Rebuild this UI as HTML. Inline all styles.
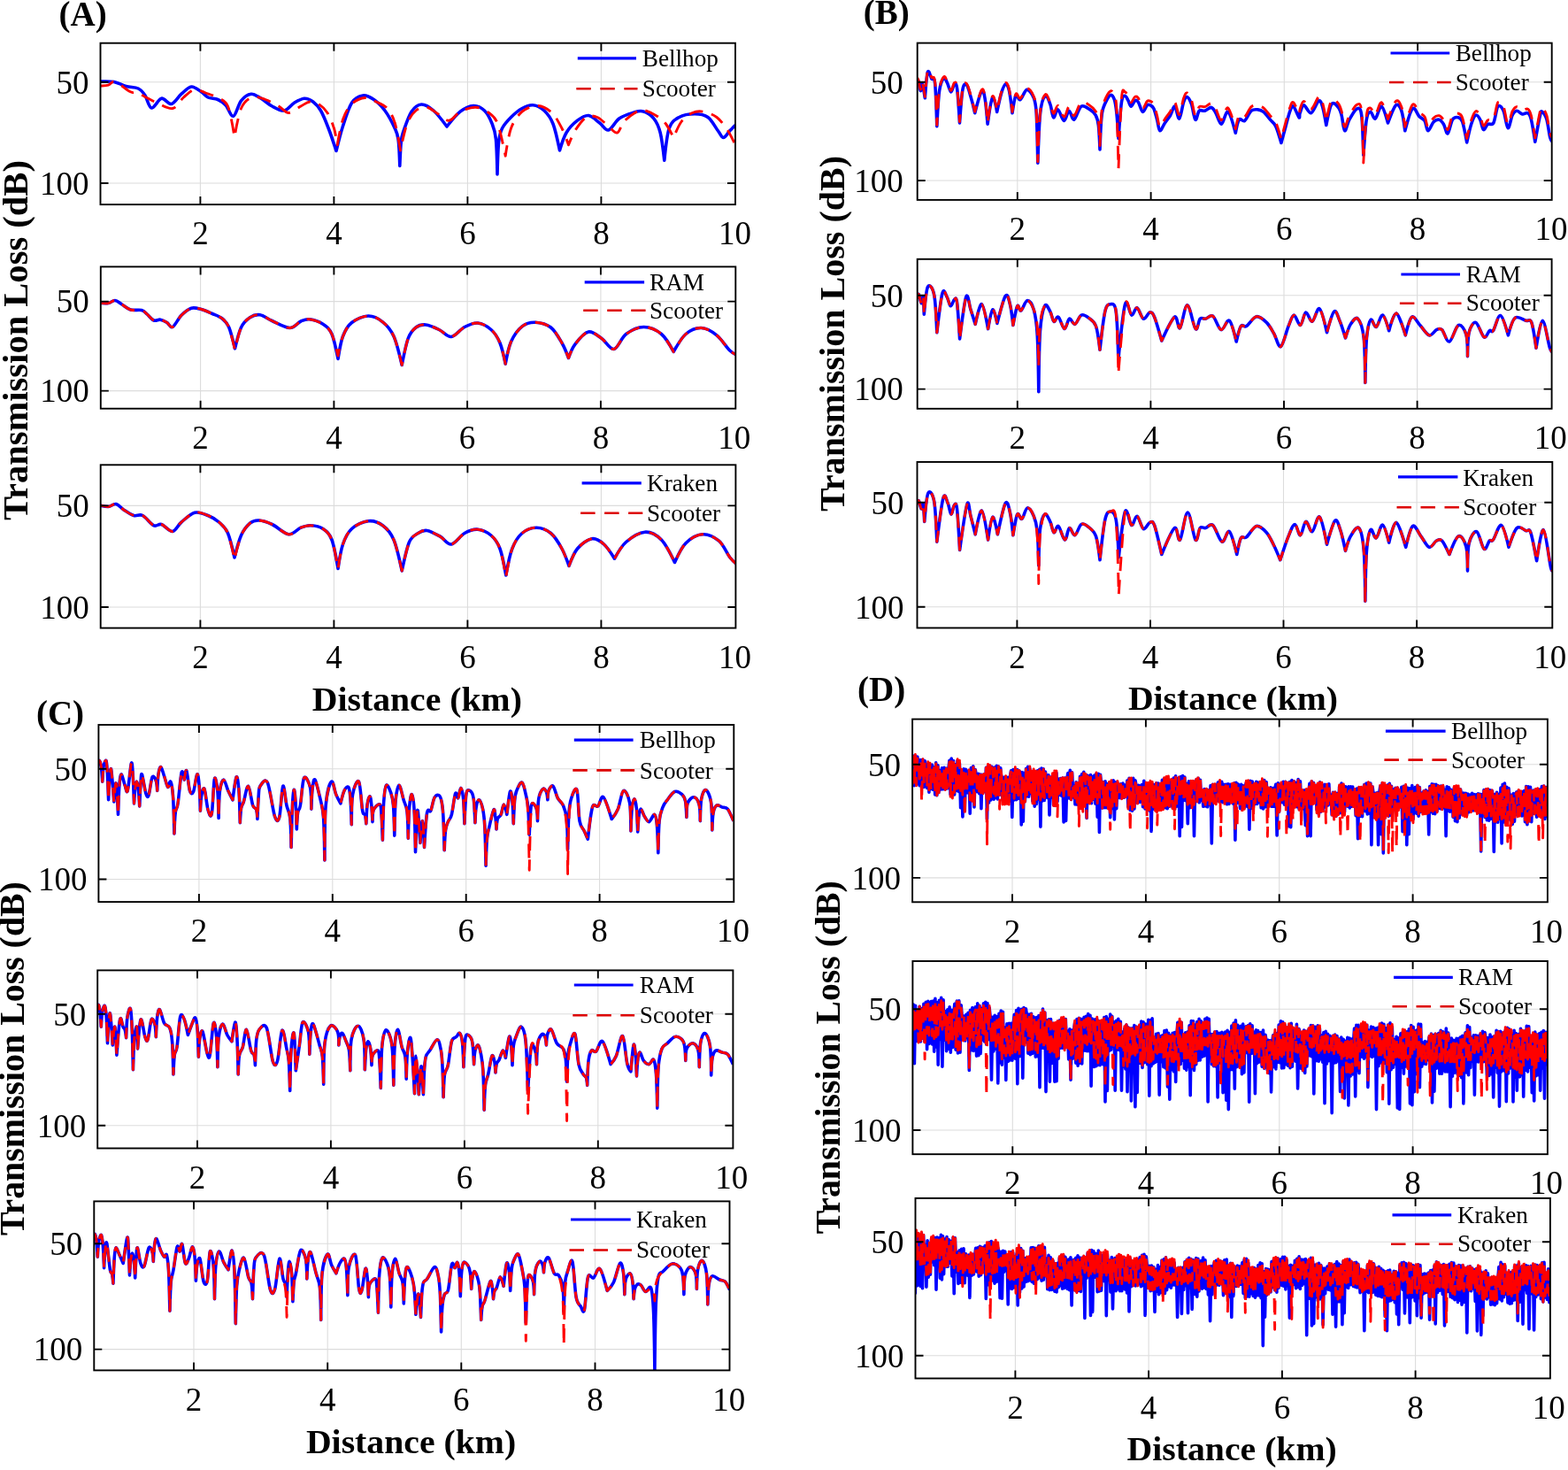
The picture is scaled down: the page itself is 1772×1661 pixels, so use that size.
<!DOCTYPE html>
<html><head><meta charset="utf-8"><style>html,body{margin:0;padding:0;background:#fff;overflow:hidden}svg{display:block}</style></head>
<body><svg width="1772" height="1661" viewBox="0 0 1772 1661" font-family="'Liberation Serif','Times New Roman',serif">
<rect width="1772" height="1661" fill="#fff"/>
<line x1="226.4" y1="48.7" x2="226.4" y2="231.1" stroke="#dcdcdc" stroke-width="1.1"/>
<line x1="377.4" y1="48.7" x2="377.4" y2="231.1" stroke="#dcdcdc" stroke-width="1.1"/>
<line x1="528.4" y1="48.7" x2="528.4" y2="231.1" stroke="#dcdcdc" stroke-width="1.1"/>
<line x1="679.4" y1="48.7" x2="679.4" y2="231.1" stroke="#dcdcdc" stroke-width="1.1"/>
<line x1="113.5" y1="92.7" x2="831.0" y2="92.7" stroke="#dcdcdc" stroke-width="1.1"/>
<line x1="113.5" y1="207.0" x2="831.0" y2="207.0" stroke="#dcdcdc" stroke-width="1.1"/>
<clipPath id="cA1"><rect x="113.5" y="48.7" width="717.5" height="182.4"/></clipPath>
<path clip-path="url(#cA1)" d="M113.8 92.0C116.2 92.1 124.0 91.6 128.8 92.5C133.5 93.4 137.9 96.2 142.5 97.5C147.1 98.8 152.7 98.3 156.2 100.0C159.8 101.7 161.2 103.8 163.8 107.5C166.2 111.2 168.1 121.4 171.2 122.0C174.4 122.6 178.8 112.0 182.5 111.2C186.2 110.5 190.0 118.3 193.8 117.5C197.5 116.7 201.2 109.5 205.0 106.2C208.8 103.0 212.5 98.4 216.2 98.0C220.0 97.6 224.4 101.8 227.5 103.8C230.6 105.8 231.9 108.5 235.0 110.0C238.1 111.5 242.9 111.0 246.2 112.5C249.6 114.0 252.1 115.6 255.0 118.8C257.9 121.9 260.8 132.1 263.8 131.2C266.7 130.4 269.2 117.9 272.5 113.8C275.8 109.6 280.0 106.7 283.8 106.2C287.5 105.8 291.0 109.0 295.0 111.2C299.0 113.5 303.1 117.7 307.5 120.0C311.9 122.3 317.1 125.6 321.2 125.0C325.4 124.4 328.8 118.5 332.5 116.2C336.2 114.0 340.2 111.5 343.8 111.2C347.3 111.0 350.6 112.7 353.8 115.0C356.9 117.3 359.6 120.0 362.5 125.0C365.4 130.0 368.3 137.4 371.2 145.0C374.2 152.6 380.0 170.5 380.0 170.5C380.0 170.5 384.6 151.5 387.5 142.5C390.4 133.5 393.8 122.0 397.5 116.2C401.2 110.5 405.8 108.6 410.0 108.0C414.2 107.4 418.3 109.7 422.5 112.5C426.7 115.3 431.0 119.6 435.0 125.0C439.0 130.4 443.7 139.5 446.2 145.0C448.8 150.5 449.2 150.7 450.1 157.8C451.1 164.8 451.8 187.5 451.8 187.5C451.8 187.5 452.6 166.2 453.4 159.5C454.1 152.8 454.3 153.0 456.2 147.5C458.2 142.0 461.7 131.2 465.0 126.2C468.3 121.3 472.1 118.2 476.2 118.0C480.4 117.8 485.2 120.8 490.0 125.0C494.8 129.2 505.0 143.0 505.0 143.0C505.0 143.0 515.0 130.2 520.0 126.2C525.0 122.3 530.4 119.7 535.0 119.5C539.6 119.3 544.0 121.6 547.5 125.0C551.0 128.4 554.1 134.7 556.2 140.0C558.4 145.3 559.4 147.6 560.4 157.1C561.4 166.6 562.0 197.0 562.0 197.0C562.0 197.0 562.7 169.3 563.6 160.6C564.5 151.9 565.2 149.7 567.5 145.0C569.8 140.3 573.8 136.2 577.5 132.5C581.2 128.8 585.8 124.8 590.0 122.5C594.2 120.2 598.3 118.3 602.5 118.8C606.7 119.2 611.2 121.5 615.0 125.0C618.8 128.5 622.1 132.5 625.0 140.0C627.9 147.5 632.5 170.0 632.5 170.0C632.5 170.0 636.7 155.6 640.0 150.0C643.3 144.4 648.3 139.5 652.5 136.2C656.7 133.0 660.8 130.1 665.0 130.5C669.2 130.9 673.8 136.0 677.5 138.8C681.2 141.5 683.8 147.8 687.5 147.0C691.2 146.2 695.4 137.0 700.0 133.8C704.6 130.5 710.6 128.8 715.0 127.5C719.4 126.2 722.3 124.7 726.2 125.8C730.2 126.8 735.4 129.7 738.8 133.8C742.1 137.8 744.2 142.1 746.2 150.0C748.2 157.9 750.8 181.2 750.8 181.2C750.8 181.2 753.5 153.1 756.2 145.0C759.0 136.9 762.7 135.2 767.5 132.5C772.3 129.8 779.6 128.8 785.0 128.8C790.4 128.8 795.6 129.4 800.0 132.5C804.4 135.6 808.3 143.7 811.2 147.5C814.2 151.3 815.2 155.5 817.5 155.5C819.8 155.5 822.7 149.9 825.0 147.5C827.3 145.1 829.6 142.7 831.2 141.2C832.9 139.8 834.4 139.2 835.0 138.8" fill="none" stroke="#0000ff" stroke-width="3.6" stroke-linejoin="round"/>
<path clip-path="url(#cA1)" d="M113.8 97.0C115.2 96.9 119.8 97.0 122.5 96.2C125.2 95.5 125.8 91.2 130.0 92.5C134.2 93.8 143.3 101.8 147.5 103.8C151.7 105.8 152.1 103.5 155.0 104.5C157.9 105.5 161.2 108.0 165.0 110.0C168.8 112.0 172.5 114.2 177.5 116.2C182.5 118.3 190.0 123.5 195.0 122.5C200.0 121.5 203.3 113.5 207.5 110.0C211.7 106.5 215.8 102.1 220.0 101.2C224.2 100.4 228.3 103.5 232.5 105.0C236.7 106.5 240.8 107.5 245.0 110.0C249.2 112.5 254.2 112.5 257.5 120.0C260.8 127.5 265.0 155.0 265.0 155.0C265.0 155.0 269.2 130.0 272.5 122.5C275.8 115.0 280.4 111.7 285.0 110.0C289.6 108.3 295.0 110.8 300.0 112.5C305.0 114.2 310.6 117.5 315.0 120.0C319.4 122.5 322.1 127.5 326.2 127.5C330.4 127.5 336.0 122.1 340.0 120.0C344.0 117.9 346.7 115.4 350.0 115.0C353.3 114.6 356.7 115.4 360.0 117.5C363.3 119.6 367.1 122.9 370.0 127.5C372.9 132.1 375.6 139.0 377.5 145.0C379.4 151.0 381.2 163.8 381.2 163.8C381.2 163.8 384.8 142.7 387.5 135.0C390.2 127.3 393.3 121.6 397.5 117.5C401.7 113.4 407.9 110.9 412.5 110.5C417.1 110.1 420.8 113.0 425.0 115.0C429.2 117.0 434.0 118.5 437.5 122.5C441.0 126.5 443.8 130.8 446.2 138.8C448.8 146.7 452.5 170.0 452.5 170.0C452.5 170.0 457.1 147.5 460.0 140.0C462.9 132.5 466.2 128.1 470.0 125.0C473.8 121.9 478.3 120.6 482.5 121.2C486.7 121.9 490.8 126.2 495.0 128.8C499.2 131.2 503.3 136.7 507.5 136.2C511.7 135.8 515.0 128.8 520.0 126.2C525.0 123.8 532.1 121.0 537.5 121.2C542.9 121.5 548.3 124.4 552.5 127.5C556.7 130.6 559.4 131.9 562.5 140.0C565.6 148.1 571.2 176.2 571.2 176.2C571.2 176.2 574.4 153.3 577.5 145.0C580.6 136.7 585.0 130.5 590.0 126.2C595.0 122.0 601.9 119.3 607.5 119.5C613.1 119.7 619.2 123.2 623.8 127.5C628.3 131.8 631.9 139.0 635.0 145.0C638.1 151.0 642.5 163.8 642.5 163.8C642.5 163.8 646.7 152.7 650.0 147.5C653.3 142.3 658.3 135.0 662.5 132.5C666.7 130.0 670.8 130.8 675.0 132.5C679.2 134.2 683.8 139.6 687.5 142.5C691.2 145.4 694.6 150.8 697.5 150.0C700.4 149.2 701.7 141.2 705.0 137.5C708.3 133.8 713.8 129.7 717.5 127.5C721.2 125.3 723.3 123.9 727.5 124.5C731.7 125.1 738.3 128.7 742.5 131.2C746.7 133.8 749.4 136.0 752.5 140.0C755.6 144.0 761.2 155.5 761.2 155.5C761.2 155.5 766.5 142.2 770.0 137.5C773.5 132.8 778.3 129.4 782.5 127.5C786.7 125.6 790.4 125.4 795.0 126.2C799.6 127.1 805.4 129.0 810.0 132.5C814.6 136.0 819.2 142.7 822.5 147.5C825.8 152.3 827.9 158.3 830.0 161.2C832.1 164.2 834.2 164.4 835.0 165.0" fill="none" stroke="#ff0000" stroke-width="2.9" stroke-linejoin="round" stroke-dasharray="16 10"/>
<path d="M226.4 231.1V222.1M226.4 48.7V57.7M377.4 231.1V222.1M377.4 48.7V57.7M528.4 231.1V222.1M528.4 48.7V57.7M679.4 231.1V222.1M679.4 48.7V57.7M113.5 92.7H122.5M831.0 92.7H822.0M113.5 207.0H122.5M831.0 207.0H822.0" stroke="#000" stroke-width="1.9" fill="none"/>
<rect x="113.5" y="48.7" width="717.5" height="182.4" fill="none" stroke="#000" stroke-width="1.9"/>
<g font-size="37"><text x="226.4" y="276.3" text-anchor="middle">2</text><text x="377.4" y="276.3" text-anchor="middle">4</text><text x="528.4" y="276.3" text-anchor="middle">6</text><text x="679.4" y="276.3" text-anchor="middle">8</text><text x="830.4" y="276.3" text-anchor="middle">10</text><text x="100.5" y="105.5" text-anchor="end">50</text><text x="100.5" y="219.8" text-anchor="end">100</text></g>
<line x1="652.8" y1="65.9" x2="719.0" y2="65.9" stroke="#0000ff" stroke-width="3.2"/>
<line x1="651.3" y1="100.2" x2="720.5" y2="100.2" stroke="#dd0000" stroke-width="2.6" stroke-dasharray="16.5 10.5"/>
<g font-size="27.2"><text x="725.8" y="74.9">Bellhop</text><text x="725.8" y="109.2">Scooter</text></g>
<line x1="226.6" y1="301.4" x2="226.6" y2="461.7" stroke="#dcdcdc" stroke-width="1.1"/>
<line x1="377.4" y1="301.4" x2="377.4" y2="461.7" stroke="#dcdcdc" stroke-width="1.1"/>
<line x1="528.1" y1="301.4" x2="528.1" y2="461.7" stroke="#dcdcdc" stroke-width="1.1"/>
<line x1="678.9" y1="301.4" x2="678.9" y2="461.7" stroke="#dcdcdc" stroke-width="1.1"/>
<line x1="113.8" y1="340.6" x2="831.3" y2="340.6" stroke="#dcdcdc" stroke-width="1.1"/>
<line x1="113.8" y1="441.6" x2="831.3" y2="441.6" stroke="#dcdcdc" stroke-width="1.1"/>
<clipPath id="cA2"><rect x="113.8" y="301.4" width="717.5" height="160.3"/></clipPath>
<path clip-path="url(#cA2)" d="M113.8 342.5C115.2 342.5 119.8 343.0 122.5 342.5C125.2 342.0 127.5 339.3 130.0 339.5C132.5 339.7 134.6 342.0 137.5 343.8C140.4 345.5 143.8 348.9 147.5 350.0C151.2 351.1 156.9 349.7 160.0 350.5C163.1 351.3 164.0 353.1 166.2 355.0C168.5 356.9 171.2 361.0 173.8 362.0C176.2 363.0 178.8 360.8 181.2 361.2C183.8 361.7 186.5 363.1 188.8 364.5C191.0 365.9 192.3 370.9 195.0 369.5C197.7 368.1 201.5 359.8 205.0 356.2C208.5 352.7 212.5 349.4 216.2 348.2C220.0 347.1 223.5 348.5 227.5 349.5C231.5 350.5 236.0 352.8 240.0 354.5C244.0 356.2 248.1 357.4 251.2 360.0C254.4 362.6 256.4 364.4 258.8 370.0C261.1 375.6 265.5 393.8 265.5 393.8C265.5 393.8 269.7 375.8 272.5 370.0C275.3 364.2 279.0 361.1 282.5 358.8C286.0 356.4 289.6 355.1 293.8 355.8C297.9 356.4 301.9 360.0 307.5 362.5C313.1 365.0 322.1 370.4 327.5 370.5C332.9 370.6 336.2 364.6 340.0 363.0C343.8 361.4 345.8 360.2 350.0 360.8C354.2 361.3 360.8 363.5 365.0 366.2C369.2 369.0 372.2 371.0 375.0 377.5C377.8 384.0 382.0 405.5 382.0 405.5C382.0 405.5 384.9 386.8 387.5 380.0C390.1 373.2 392.7 368.3 397.5 364.5C402.3 360.7 410.4 357.1 416.2 357.0C422.1 356.9 427.7 359.9 432.5 363.8C437.3 367.6 441.4 371.9 445.0 380.0C448.6 388.1 454.2 412.5 454.2 412.5C454.2 412.5 458.6 389.6 461.2 382.5C463.9 375.4 466.7 372.6 470.0 370.0C473.3 367.4 476.9 366.6 481.2 367.0C485.6 367.4 491.5 370.2 496.2 372.5C501.0 374.8 505.2 381.0 510.0 380.5C514.8 380.0 520.0 372.1 525.0 369.5C530.0 366.9 535.0 364.5 540.0 365.0C545.0 365.5 550.8 368.8 555.0 372.5C559.2 376.2 562.3 381.0 565.0 387.5C567.7 394.0 571.2 411.2 571.2 411.2C571.2 411.2 574.4 393.3 577.5 386.2C580.6 379.2 585.4 372.4 590.0 368.8C594.6 365.1 599.6 364.0 605.0 364.2C610.4 364.5 617.5 366.1 622.5 370.0C627.5 373.9 631.7 381.8 635.0 387.5C638.3 393.2 642.5 404.5 642.5 404.5C642.5 404.5 646.2 393.7 650.0 388.8C653.8 383.8 660.0 376.0 665.0 375.0C670.0 374.0 675.2 379.2 680.0 382.5C684.8 385.8 689.2 395.3 693.8 394.5C698.3 393.7 701.9 381.7 707.5 377.5C713.1 373.3 720.8 369.5 727.5 369.5C734.2 369.5 741.9 372.8 747.5 377.5C753.1 382.2 761.2 397.5 761.2 397.5C761.2 397.5 769.8 382.0 775.0 377.5C780.2 373.0 786.7 370.3 792.5 370.5C798.3 370.7 804.6 374.5 810.0 378.8C815.4 383.0 820.8 392.3 825.0 396.2C829.2 400.2 833.3 401.5 835.0 402.5" fill="none" stroke="#0000ff" stroke-width="3.6" stroke-linejoin="round"/>
<path clip-path="url(#cA2)" d="M113.8 342.5C115.2 342.5 119.8 343.0 122.5 342.5C125.2 342.0 127.5 339.3 130.0 339.5C132.5 339.7 134.6 342.0 137.5 343.8C140.4 345.5 143.8 348.9 147.5 350.0C151.2 351.1 156.9 349.7 160.0 350.5C163.1 351.3 164.0 353.1 166.2 355.0C168.5 356.9 171.2 361.0 173.8 362.0C176.2 363.0 178.8 360.8 181.2 361.2C183.8 361.7 186.5 363.1 188.8 364.5C191.0 365.9 192.3 370.9 195.0 369.5C197.7 368.1 201.5 359.8 205.0 356.2C208.5 352.7 212.5 349.4 216.2 348.2C220.0 347.1 223.5 348.5 227.5 349.5C231.5 350.5 236.0 352.8 240.0 354.5C244.0 356.2 248.1 357.4 251.2 360.0C254.4 362.6 256.4 364.1 258.8 370.0C261.1 375.9 265.5 395.5 265.5 395.5C265.5 395.5 269.7 376.1 272.5 370.0C275.3 363.9 279.0 361.1 282.5 358.8C286.0 356.4 289.6 355.1 293.8 355.8C297.9 356.4 301.9 360.0 307.5 362.5C313.1 365.0 322.1 370.4 327.5 370.5C332.9 370.6 336.2 364.6 340.0 363.0C343.8 361.4 345.8 360.2 350.0 360.8C354.2 361.3 360.8 363.5 365.0 366.2C369.2 369.0 372.2 371.5 375.0 377.5C377.8 383.5 382.0 402.0 382.0 402.0C382.0 402.0 384.9 386.2 387.5 380.0C390.1 373.8 392.7 368.3 397.5 364.5C402.3 360.7 410.4 357.1 416.2 357.0C422.1 356.9 427.7 359.9 432.5 363.8C437.3 367.6 441.4 371.9 445.0 380.0C448.6 388.1 454.2 412.5 454.2 412.5C454.2 412.5 458.6 389.6 461.2 382.5C463.9 375.4 466.7 372.6 470.0 370.0C473.3 367.4 476.9 366.6 481.2 367.0C485.6 367.4 491.5 370.2 496.2 372.5C501.0 374.8 505.2 381.0 510.0 380.5C514.8 380.0 520.0 372.1 525.0 369.5C530.0 366.9 535.0 364.5 540.0 365.0C545.0 365.5 550.8 368.8 555.0 372.5C559.2 376.2 562.3 381.0 565.0 387.5C567.7 394.0 571.2 411.2 571.2 411.2C571.2 411.2 574.4 393.3 577.5 386.2C580.6 379.2 585.4 372.4 590.0 368.8C594.6 365.1 599.6 364.0 605.0 364.2C610.4 364.5 617.5 366.1 622.5 370.0C627.5 373.9 631.7 381.8 635.0 387.5C638.3 393.2 642.5 404.5 642.5 404.5C642.5 404.5 646.2 393.7 650.0 388.8C653.8 383.8 660.0 376.0 665.0 375.0C670.0 374.0 675.2 379.2 680.0 382.5C684.8 385.8 689.2 395.3 693.8 394.5C698.3 393.7 701.9 381.7 707.5 377.5C713.1 373.3 720.8 369.5 727.5 369.5C734.2 369.5 741.9 372.8 747.5 377.5C753.1 382.2 761.2 397.5 761.2 397.5C761.2 397.5 769.8 382.0 775.0 377.5C780.2 373.0 786.7 370.3 792.5 370.5C798.3 370.7 804.6 374.5 810.0 378.8C815.4 383.0 820.8 392.3 825.0 396.2C829.2 400.2 833.3 401.5 835.0 402.5" fill="none" stroke="#ff0000" stroke-width="2.9" stroke-linejoin="round" stroke-dasharray="16 10"/>
<path d="M226.6 461.7V452.7M226.6 301.4V310.4M377.4 461.7V452.7M377.4 301.4V310.4M528.1 461.7V452.7M528.1 301.4V310.4M678.9 461.7V452.7M678.9 301.4V310.4M113.8 340.6H122.8M831.3 340.6H822.3M113.8 441.6H122.8M831.3 441.6H822.3" stroke="#000" stroke-width="1.9" fill="none"/>
<rect x="113.8" y="301.4" width="717.5" height="160.3" fill="none" stroke="#000" stroke-width="1.9"/>
<g font-size="37"><text x="226.6" y="506.9" text-anchor="middle">2</text><text x="377.4" y="506.9" text-anchor="middle">4</text><text x="528.1" y="506.9" text-anchor="middle">6</text><text x="678.9" y="506.9" text-anchor="middle">8</text><text x="829.7" y="506.9" text-anchor="middle">10</text><text x="100.8" y="353.4" text-anchor="end">50</text><text x="100.8" y="454.4" text-anchor="end">100</text></g>
<line x1="660.7" y1="318.8" x2="728.1" y2="318.8" stroke="#0000ff" stroke-width="3.2"/>
<line x1="659.2" y1="350.8" x2="729.6" y2="350.8" stroke="#dd0000" stroke-width="2.6" stroke-dasharray="16.5 10.5"/>
<g font-size="27.2"><text x="734.0" y="328.0">RAM</text><text x="734.0" y="360.1">Scooter</text></g>
<line x1="226.4" y1="525.3" x2="226.4" y2="709.6" stroke="#dcdcdc" stroke-width="1.1"/>
<line x1="377.4" y1="525.3" x2="377.4" y2="709.6" stroke="#dcdcdc" stroke-width="1.1"/>
<line x1="528.4" y1="525.3" x2="528.4" y2="709.6" stroke="#dcdcdc" stroke-width="1.1"/>
<line x1="679.4" y1="525.3" x2="679.4" y2="709.6" stroke="#dcdcdc" stroke-width="1.1"/>
<line x1="113.7" y1="571.4" x2="831.4" y2="571.4" stroke="#dcdcdc" stroke-width="1.1"/>
<line x1="113.7" y1="686.0" x2="831.4" y2="686.0" stroke="#dcdcdc" stroke-width="1.1"/>
<clipPath id="cA3"><rect x="113.7" y="525.3" width="717.7" height="184.3"/></clipPath>
<path clip-path="url(#cA3)" d="M113.8 571.2C115.2 571.5 119.6 572.8 122.5 572.5C125.4 572.2 128.3 568.9 131.2 569.5C134.2 570.1 136.7 574.1 140.0 576.2C143.3 578.4 147.7 581.5 151.2 582.5C154.8 583.5 157.5 580.6 161.2 582.5C165.0 584.4 170.2 592.1 173.8 593.8C177.3 595.4 179.0 591.4 182.5 592.5C186.0 593.6 191.2 600.9 195.0 600.5C198.8 600.1 200.8 593.5 205.0 590.0C209.2 586.5 215.0 580.5 220.0 579.2C225.0 578.0 230.4 580.7 235.0 582.5C239.6 584.3 243.8 586.7 247.5 590.0C251.2 593.3 254.6 595.8 257.5 602.5C260.4 609.2 265.0 630.0 265.0 630.0C265.0 630.0 269.6 611.5 272.5 605.0C275.4 598.5 279.2 594.1 282.5 591.2C285.8 588.4 288.3 587.8 292.5 588.0C296.7 588.2 301.9 589.9 307.5 592.5C313.1 595.1 320.8 603.1 326.2 603.8C331.7 604.4 335.8 597.9 340.0 596.2C344.2 594.6 347.1 593.5 351.2 593.8C355.4 594.0 361.0 594.8 365.0 597.5C369.0 600.2 372.2 602.5 375.0 610.0C377.8 617.5 382.0 642.5 382.0 642.5C382.0 642.5 384.9 622.5 387.5 615.0C390.1 607.5 392.7 601.9 397.5 597.5C402.3 593.1 410.4 589.4 416.2 588.8C422.1 588.1 427.7 590.2 432.5 593.8C437.3 597.3 441.4 601.5 445.0 610.0C448.6 618.5 454.2 645.0 454.2 645.0C454.2 645.0 459.5 619.6 462.5 612.5C465.5 605.4 469.2 604.7 472.5 602.5C475.8 600.3 478.3 598.9 482.5 599.5C486.7 600.1 492.9 603.7 497.5 606.2C502.1 608.8 505.4 615.6 510.0 615.0C514.6 614.4 520.0 605.3 525.0 602.5C530.0 599.7 535.0 597.8 540.0 598.2C545.0 598.7 550.8 601.4 555.0 605.0C559.2 608.6 562.2 612.5 565.0 620.0C567.8 627.5 571.8 650.0 571.8 650.0C571.8 650.0 575.7 627.9 578.8 620.0C581.8 612.1 585.4 606.5 590.0 602.5C594.6 598.5 600.8 596.2 606.2 596.2C611.7 596.2 617.7 598.5 622.5 602.5C627.3 606.5 631.6 613.8 635.0 620.0C638.4 626.2 643.0 639.5 643.0 639.5C643.0 639.5 648.2 625.1 652.5 620.0C656.8 614.9 663.8 609.6 668.8 608.8C673.8 607.9 678.2 611.2 682.5 615.0C686.8 618.8 694.5 631.2 694.5 631.2C694.5 631.2 701.8 617.5 707.5 612.5C713.2 607.5 722.1 601.7 728.8 601.2C735.4 600.8 741.9 604.3 747.5 610.0C753.1 615.7 762.5 635.5 762.5 635.5C762.5 635.5 769.8 619.0 775.0 613.8C780.2 608.5 787.5 604.2 793.8 603.8C800.0 603.3 807.3 606.9 812.5 611.2C817.7 615.6 821.2 625.2 825.0 630.0C828.8 634.8 833.3 638.3 835.0 640.0" fill="none" stroke="#0000ff" stroke-width="3.6" stroke-linejoin="round"/>
<path clip-path="url(#cA3)" d="M113.8 571.2C115.2 571.5 119.6 572.8 122.5 572.5C125.4 572.2 128.3 568.9 131.2 569.5C134.2 570.1 136.7 574.1 140.0 576.2C143.3 578.4 147.7 581.5 151.2 582.5C154.8 583.5 157.5 580.6 161.2 582.5C165.0 584.4 170.2 592.1 173.8 593.8C177.3 595.4 179.0 591.4 182.5 592.5C186.0 593.6 191.2 600.9 195.0 600.5C198.8 600.1 200.8 593.5 205.0 590.0C209.2 586.5 215.0 580.5 220.0 579.2C225.0 578.0 230.4 580.7 235.0 582.5C239.6 584.3 243.8 586.7 247.5 590.0C251.2 593.3 254.6 595.5 257.5 602.5C260.4 609.5 265.0 632.0 265.0 632.0C265.0 632.0 269.6 611.8 272.5 605.0C275.4 598.2 279.2 594.1 282.5 591.2C285.8 588.4 288.3 587.8 292.5 588.0C296.7 588.2 301.9 589.9 307.5 592.5C313.1 595.1 320.8 603.1 326.2 603.8C331.7 604.4 335.8 597.9 340.0 596.2C344.2 594.6 347.1 593.5 351.2 593.8C355.4 594.0 361.0 594.8 365.0 597.5C369.0 600.2 372.2 602.5 375.0 610.0C377.8 617.5 382.0 642.5 382.0 642.5C382.0 642.5 384.9 622.5 387.5 615.0C390.1 607.5 392.7 601.9 397.5 597.5C402.3 593.1 410.4 589.4 416.2 588.8C422.1 588.1 427.7 590.2 432.5 593.8C437.3 597.3 441.4 601.5 445.0 610.0C448.6 618.5 454.2 645.0 454.2 645.0C454.2 645.0 459.5 619.6 462.5 612.5C465.5 605.4 469.2 604.7 472.5 602.5C475.8 600.3 478.3 598.9 482.5 599.5C486.7 600.1 492.9 603.7 497.5 606.2C502.1 608.8 505.4 615.6 510.0 615.0C514.6 614.4 520.0 605.3 525.0 602.5C530.0 599.7 535.0 597.8 540.0 598.2C545.0 598.7 550.8 601.4 555.0 605.0C559.2 608.6 562.2 612.2 565.0 620.0C567.8 627.8 571.8 652.0 571.8 652.0C571.8 652.0 575.7 628.2 578.8 620.0C581.8 611.8 585.4 606.5 590.0 602.5C594.6 598.5 600.8 596.2 606.2 596.2C611.7 596.2 617.7 598.5 622.5 602.5C627.3 606.5 631.6 613.8 635.0 620.0C638.4 626.2 643.0 639.5 643.0 639.5C643.0 639.5 648.2 625.1 652.5 620.0C656.8 614.9 663.8 609.6 668.8 608.8C673.8 607.9 678.2 611.2 682.5 615.0C686.8 618.8 694.5 631.2 694.5 631.2C694.5 631.2 701.8 617.5 707.5 612.5C713.2 607.5 722.1 601.7 728.8 601.2C735.4 600.8 741.9 604.3 747.5 610.0C753.1 615.7 762.5 635.5 762.5 635.5C762.5 635.5 769.8 619.0 775.0 613.8C780.2 608.5 787.5 604.2 793.8 603.8C800.0 603.3 807.3 606.9 812.5 611.2C817.7 615.6 821.2 625.2 825.0 630.0C828.8 634.8 833.3 638.3 835.0 640.0" fill="none" stroke="#ff0000" stroke-width="2.9" stroke-linejoin="round" stroke-dasharray="16 10"/>
<path d="M226.4 709.6V700.6M226.4 525.3V534.3M377.4 709.6V700.6M377.4 525.3V534.3M528.4 709.6V700.6M528.4 525.3V534.3M679.4 709.6V700.6M679.4 525.3V534.3M113.7 571.4H122.7M831.4 571.4H822.4M113.7 686.0H122.7M831.4 686.0H822.4" stroke="#000" stroke-width="1.9" fill="none"/>
<rect x="113.7" y="525.3" width="717.7" height="184.3" fill="none" stroke="#000" stroke-width="1.9"/>
<g font-size="37"><text x="226.4" y="754.8" text-anchor="middle">2</text><text x="377.4" y="754.8" text-anchor="middle">4</text><text x="528.4" y="754.8" text-anchor="middle">6</text><text x="679.4" y="754.8" text-anchor="middle">8</text><text x="830.4" y="754.8" text-anchor="middle">10</text><text x="100.7" y="584.2" text-anchor="end">50</text><text x="100.7" y="698.8" text-anchor="end">100</text></g>
<line x1="657.6" y1="545.8" x2="724.8" y2="545.8" stroke="#0000ff" stroke-width="3.2"/>
<line x1="656.1" y1="579.8" x2="726.3" y2="579.8" stroke="#dd0000" stroke-width="2.6" stroke-dasharray="16.5 10.5"/>
<g font-size="27.2"><text x="731.0" y="555.4">Kraken</text><text x="731.0" y="589.4">Scooter</text></g>
<line x1="1149.8" y1="48.6" x2="1149.8" y2="225.9" stroke="#dcdcdc" stroke-width="1.1"/>
<line x1="1300.6" y1="48.6" x2="1300.6" y2="225.9" stroke="#dcdcdc" stroke-width="1.1"/>
<line x1="1451.3" y1="48.6" x2="1451.3" y2="225.9" stroke="#dcdcdc" stroke-width="1.1"/>
<line x1="1602.1" y1="48.6" x2="1602.1" y2="225.9" stroke="#dcdcdc" stroke-width="1.1"/>
<line x1="1036.7" y1="92.8" x2="1753.7" y2="92.8" stroke="#dcdcdc" stroke-width="1.1"/>
<line x1="1036.7" y1="204.0" x2="1753.7" y2="204.0" stroke="#dcdcdc" stroke-width="1.1"/>
<clipPath id="cB1"><rect x="1036.7" y="48.6" width="717.0" height="177.3"/></clipPath>
<path clip-path="url(#cB1)" d="M1035.9 90.1C1036.2 90.3 1037.0 89.3 1037.8 91.4C1038.5 93.5 1039.5 102.2 1040.3 102.6C1041.0 103.1 1041.3 92.5 1042.1 93.9C1043.0 95.2 1045.3 110.8 1045.3 110.8C1045.3 110.8 1047.2 85.0 1048.4 81.3C1049.7 77.7 1051.4 86.8 1052.8 88.9C1054.1 90.9 1055.5 84.9 1056.6 93.9C1057.6 102.8 1058.8 142.7 1058.8 142.7C1058.8 142.7 1060.3 111.7 1061.6 102.6C1062.9 93.6 1065.1 89.8 1066.6 88.2C1068.0 86.7 1069.0 90.6 1070.3 93.2C1071.7 95.9 1073.4 103.6 1074.7 103.9C1076.1 104.2 1077.3 95.8 1078.5 95.1C1079.6 94.5 1080.6 92.8 1081.6 100.1C1082.6 107.4 1084.5 139.0 1084.5 139.0C1084.5 139.0 1086.6 108.6 1087.9 101.4C1089.2 94.2 1090.8 94.7 1092.3 95.8C1093.7 96.8 1095.1 102.3 1096.6 107.7C1098.2 113.0 1101.7 127.7 1101.7 127.7C1101.7 127.7 1107.3 106.2 1109.2 103.3C1111.0 100.3 1111.8 104.0 1112.9 110.2C1114.1 116.3 1116.1 140.2 1116.1 140.2C1116.1 140.2 1119.9 112.5 1121.7 110.2C1123.5 107.9 1126.7 126.4 1126.7 126.4C1126.7 126.4 1130.1 110.4 1131.7 105.1C1133.3 99.9 1135.0 95.5 1136.5 95.1C1137.9 94.7 1139.2 97.2 1140.5 102.6C1141.7 108.1 1144.0 127.7 1144.0 127.7C1144.0 127.7 1146.5 110.2 1148.0 107.7C1149.5 105.1 1150.9 113.7 1153.0 112.7C1155.1 111.6 1158.0 101.8 1160.5 101.4C1163.0 101.0 1166.3 105.8 1168.1 110.2C1169.8 114.5 1170.4 115.4 1171.2 127.7C1172.0 140.0 1172.8 184.1 1172.8 184.1C1172.8 184.1 1174.2 140.3 1175.6 127.7C1177.0 115.1 1179.3 109.9 1181.2 108.3C1183.1 106.6 1185.3 113.6 1186.8 117.7C1188.4 121.7 1189.1 131.7 1190.6 132.7C1192.1 133.8 1193.6 123.3 1195.6 123.9C1197.6 124.6 1200.4 136.3 1202.5 136.5C1204.6 136.7 1206.3 125.4 1208.1 125.2C1210.0 125.0 1211.5 136.0 1213.8 135.2C1216.1 134.4 1218.9 122.1 1221.9 120.2C1225.0 118.3 1229.2 122.3 1231.9 123.9C1234.7 125.6 1236.6 127.2 1238.2 130.2C1239.8 133.2 1240.6 135.4 1241.4 141.9C1242.2 148.3 1243.0 169.0 1243.0 169.0C1243.0 169.0 1243.9 143.6 1244.6 135.7C1245.2 127.8 1245.3 126.1 1247.0 121.4C1248.6 116.8 1252.4 109.1 1254.5 107.7C1256.6 106.2 1258.2 109.3 1259.4 112.7C1260.6 116.0 1261.1 120.4 1261.9 127.7C1262.7 135.0 1264.0 156.5 1264.0 156.5C1264.0 156.5 1266.3 123.2 1267.5 115.2C1268.8 107.1 1270.0 108.5 1271.3 108.3C1272.6 108.1 1273.9 111.9 1275.1 113.9C1276.2 115.9 1276.9 120.2 1278.2 120.2C1279.4 120.2 1281.2 114.8 1282.6 113.9C1283.9 113.1 1284.9 113.1 1286.3 115.2C1287.8 117.3 1289.7 125.8 1291.3 126.4C1293.0 127.1 1294.9 120.2 1296.4 118.9C1297.8 117.7 1298.9 118.3 1300.1 118.9C1301.4 119.6 1302.6 120.0 1303.9 122.7C1305.1 125.4 1306.5 131.0 1307.6 135.2C1308.8 139.4 1309.3 147.1 1310.8 147.7C1312.2 148.4 1314.4 141.9 1316.4 139.0C1318.4 136.0 1320.8 133.3 1322.7 130.2C1324.5 127.1 1326.0 119.6 1327.7 120.2C1329.3 120.8 1331.0 134.8 1332.7 134.0C1334.4 133.1 1336.2 119.2 1337.7 115.2C1339.2 111.1 1340.0 109.1 1341.5 109.5C1342.9 109.9 1344.9 113.4 1346.5 117.7C1348.0 122.0 1349.4 134.0 1350.9 135.2C1352.3 136.5 1353.5 126.9 1355.2 125.2C1357.0 123.5 1359.2 125.8 1361.5 125.2C1363.8 124.6 1366.9 121.0 1369.0 121.4C1371.1 121.9 1372.1 124.6 1374.0 127.7C1375.9 130.8 1378.0 140.4 1380.3 140.2C1382.6 140.0 1385.1 124.8 1387.8 126.4C1390.5 128.1 1396.3 150.2 1396.3 150.2C1396.3 150.2 1398.6 137.5 1400.3 135.2C1402.1 132.9 1404.3 138.1 1406.6 136.5C1408.9 134.8 1411.6 127.3 1414.1 125.2C1416.6 123.1 1419.3 123.7 1421.6 123.9C1423.9 124.1 1425.6 124.6 1427.9 126.4C1430.2 128.3 1433.1 132.5 1435.4 135.2C1437.7 137.9 1439.6 138.3 1441.7 142.7C1443.8 147.1 1447.9 161.5 1447.9 161.5C1447.9 161.5 1451.3 148.8 1453.0 142.7C1454.6 136.7 1456.5 129.0 1458.0 125.2C1459.4 121.4 1460.1 118.9 1461.7 120.2C1463.4 121.4 1466.8 131.5 1468.0 132.7C1469.2 134.0 1468.2 130.0 1469.1 127.7C1470.1 125.4 1471.4 118.9 1473.5 118.9C1475.6 118.9 1478.8 128.5 1481.7 127.7C1484.5 126.9 1488.2 115.0 1490.4 113.9C1492.6 112.9 1493.4 116.8 1494.8 121.4C1496.2 126.0 1498.8 141.5 1498.8 141.5C1498.8 141.5 1502.6 121.0 1504.8 117.7C1507.1 114.3 1510.5 119.3 1512.4 121.4C1514.2 123.5 1514.9 125.8 1516.1 130.2C1517.3 134.6 1518.2 146.9 1519.6 147.7C1521.1 148.6 1522.5 139.4 1524.9 135.2C1527.2 131.0 1531.4 123.5 1533.7 122.7C1535.9 121.9 1537.5 121.4 1538.7 130.2C1539.9 139.0 1540.8 175.3 1540.8 175.3C1540.8 175.3 1543.0 143.4 1544.3 135.2C1545.6 127.1 1547.0 126.7 1548.7 126.4C1550.4 126.2 1552.2 135.0 1554.3 134.0C1556.4 132.9 1558.9 119.3 1561.2 120.2C1563.6 121.0 1568.5 139.0 1568.5 139.0C1568.5 139.0 1575.0 121.2 1577.5 118.9C1580.0 116.6 1582.1 120.4 1583.8 125.2C1585.5 130.0 1587.8 147.7 1587.8 147.7C1587.8 147.7 1593.6 125.4 1596.3 122.7C1599.0 120.0 1601.5 129.2 1603.8 131.5C1606.1 133.8 1608.4 133.8 1610.1 136.5C1611.7 139.2 1612.2 147.5 1613.8 147.7C1615.5 148.0 1618.0 139.8 1620.1 137.7C1622.2 135.6 1624.5 134.8 1626.4 135.2C1628.2 135.6 1629.7 137.6 1631.4 140.2C1633.0 142.8 1634.5 151.7 1636.1 150.9C1637.8 150.0 1639.5 138.2 1641.4 135.2C1643.3 132.2 1645.8 132.3 1647.7 132.7C1649.5 133.1 1651.0 133.0 1652.7 137.7C1654.3 142.4 1657.7 160.9 1657.7 160.9C1657.7 160.9 1661.0 145.3 1662.7 140.2C1664.4 135.1 1666.0 131.0 1667.7 130.2C1669.4 129.4 1671.3 132.5 1672.7 135.2C1674.2 137.9 1675.0 145.7 1676.5 146.5C1677.9 147.3 1679.6 141.5 1681.5 140.2C1683.4 139.0 1685.9 142.3 1687.8 139.0C1689.7 135.6 1691.0 122.5 1692.8 120.2C1694.7 117.9 1697.2 121.1 1699.1 125.2C1701.0 129.3 1702.4 143.8 1704.1 144.6C1705.8 145.4 1707.5 133.4 1709.1 130.2C1710.8 127.0 1712.3 125.4 1714.1 125.2C1716.0 125.0 1718.3 128.5 1720.4 129.0C1722.5 129.4 1725.0 126.7 1726.7 127.7C1728.3 128.7 1729.1 129.8 1730.4 135.2C1731.8 140.6 1734.8 160.3 1734.8 160.3C1734.8 160.3 1739.1 135.8 1740.5 130.2C1741.8 124.6 1741.7 125.6 1743.0 126.4C1744.2 127.3 1746.5 130.4 1748.0 135.2C1749.4 140.0 1750.6 151.1 1751.7 155.3C1752.8 159.4 1754.0 159.4 1754.5 160.3" fill="none" stroke="#0000ff" stroke-width="3.6" stroke-linejoin="round"/>
<path clip-path="url(#cB1)" d="M1035.9 88.6C1036.2 88.8 1037.0 87.8 1037.8 89.9C1038.5 92.0 1039.5 100.7 1040.3 101.1C1041.0 101.6 1041.3 91.0 1042.1 92.4C1043.0 93.7 1045.3 109.3 1045.3 109.3C1045.3 109.3 1047.2 83.5 1048.4 79.8C1049.7 76.2 1051.4 85.3 1052.8 87.4C1054.1 89.4 1055.5 83.4 1056.6 92.4C1057.6 101.3 1058.8 141.2 1058.8 141.2C1058.8 141.2 1060.3 110.2 1061.6 101.1C1062.9 92.1 1065.1 88.3 1066.6 86.7C1068.0 85.2 1069.0 89.1 1070.3 91.7C1071.7 94.4 1073.4 102.1 1074.7 102.4C1076.1 102.7 1077.3 94.3 1078.5 93.6C1079.6 93.0 1080.6 91.3 1081.6 98.6C1082.6 105.9 1084.5 137.5 1084.5 137.5C1084.5 137.5 1086.6 107.1 1087.9 99.9C1089.2 92.7 1090.8 93.2 1092.3 94.3C1093.7 95.3 1095.1 100.8 1096.6 106.2C1098.2 111.5 1101.7 126.2 1101.7 126.2C1101.7 126.2 1107.3 104.7 1109.2 101.8C1111.0 98.8 1111.8 102.5 1112.9 108.7C1114.1 114.8 1116.1 138.7 1116.1 138.7C1116.1 138.7 1119.9 111.0 1121.7 108.7C1123.5 106.4 1126.7 124.9 1126.7 124.9C1126.7 124.9 1130.1 108.9 1131.7 103.6C1133.3 98.4 1135.0 94.0 1136.5 93.6C1137.9 93.2 1139.2 95.7 1140.5 101.1C1141.7 106.6 1144.0 126.2 1144.0 126.2C1144.0 126.2 1146.5 108.7 1148.0 106.2C1149.5 103.6 1150.9 112.2 1153.0 111.2C1155.1 110.1 1158.0 100.3 1160.5 99.9C1163.0 99.5 1166.3 104.3 1168.1 108.7C1169.8 113.0 1170.4 113.9 1171.2 126.2C1172.0 138.5 1172.8 182.6 1172.8 182.6C1172.8 182.6 1174.2 138.8 1175.6 126.2C1177.0 113.6 1179.3 108.4 1181.2 106.8C1183.1 105.1 1185.3 112.6 1186.8 116.2C1188.4 119.7 1189.1 127.7 1190.6 128.2C1192.1 128.8 1193.6 118.8 1195.6 119.4C1197.6 120.1 1200.4 131.8 1202.5 132.0C1204.6 132.2 1206.3 120.9 1208.1 120.7C1210.0 120.5 1211.5 131.5 1213.8 130.7C1216.1 129.9 1218.9 117.6 1221.9 115.7C1225.0 113.8 1229.2 117.8 1231.9 119.4C1234.7 121.1 1236.6 122.7 1238.2 125.7C1239.8 128.7 1240.6 130.9 1241.4 137.4C1242.2 143.8 1243.0 164.5 1243.0 164.5C1243.0 164.5 1243.9 139.1 1244.6 131.2C1245.2 123.3 1245.3 121.6 1247.0 116.9C1248.6 112.3 1252.4 104.6 1254.5 103.2C1256.6 101.7 1258.2 104.8 1259.4 108.2C1260.6 111.5 1261.1 109.5 1261.9 123.2C1262.7 136.9 1264.0 190.3 1264.0 190.3C1264.0 190.3 1266.3 125.1 1267.5 110.7C1268.8 96.2 1270.0 104.0 1271.3 103.8C1272.6 103.6 1273.9 107.4 1275.1 109.4C1276.2 111.4 1276.9 115.7 1278.2 115.7C1279.4 115.7 1281.2 110.3 1282.6 109.4C1283.9 108.6 1284.9 108.6 1286.3 110.7C1287.8 112.8 1289.7 121.3 1291.3 121.9C1293.0 122.6 1294.9 115.7 1296.4 114.4C1297.8 113.2 1298.9 113.8 1300.1 114.4C1301.4 115.1 1302.6 115.5 1303.9 118.2C1305.1 120.9 1306.5 126.5 1307.6 130.7C1308.8 134.9 1309.3 142.6 1310.8 143.2C1312.2 143.9 1314.4 137.4 1316.4 134.5C1318.4 131.5 1320.8 128.8 1322.7 125.7C1324.5 122.6 1326.0 115.1 1327.7 115.7C1329.3 116.3 1331.0 130.3 1332.7 129.5C1334.4 128.6 1336.2 114.7 1337.7 110.7C1339.2 106.6 1340.0 104.6 1341.5 105.0C1342.9 105.4 1344.9 108.9 1346.5 113.2C1348.0 117.5 1349.4 129.5 1350.9 130.7C1352.3 132.0 1353.5 122.4 1355.2 120.7C1357.0 119.0 1359.2 121.3 1361.5 120.7C1363.8 120.1 1366.9 116.5 1369.0 116.9C1371.1 117.4 1372.1 120.1 1374.0 123.2C1375.9 126.3 1378.0 135.9 1380.3 135.7C1382.6 135.5 1385.1 120.3 1387.8 121.9C1390.5 123.6 1396.3 145.7 1396.3 145.7C1396.3 145.7 1398.6 133.0 1400.3 130.7C1402.1 128.4 1404.3 133.6 1406.6 132.0C1408.9 130.3 1411.6 122.8 1414.1 120.7C1416.6 118.6 1419.3 119.2 1421.6 119.4C1423.9 119.6 1425.6 120.1 1427.9 121.9C1430.2 123.8 1433.1 128.0 1435.4 130.7C1437.7 133.4 1439.6 133.8 1441.7 138.2C1443.8 142.6 1447.9 157.0 1447.9 157.0C1447.9 157.0 1451.3 144.3 1453.0 138.2C1454.6 132.2 1456.5 124.5 1458.0 120.7C1459.4 116.9 1460.1 114.4 1461.7 115.7C1463.4 116.9 1466.8 127.0 1468.0 128.2C1469.2 129.5 1468.2 125.5 1469.1 123.2C1470.1 120.9 1471.4 114.4 1473.5 114.4C1475.6 114.4 1478.8 124.0 1481.7 123.2C1484.5 122.4 1488.2 110.5 1490.4 109.4C1492.6 108.4 1493.4 112.3 1494.8 116.9C1496.2 121.5 1498.8 137.0 1498.8 137.0C1498.8 137.0 1502.6 116.5 1504.8 113.2C1507.1 109.8 1510.5 114.8 1512.4 116.9C1514.2 119.0 1514.9 121.3 1516.1 125.7C1517.3 130.1 1518.2 142.4 1519.6 143.2C1521.1 144.1 1522.5 134.9 1524.9 130.7C1527.2 126.5 1531.4 119.0 1533.7 118.2C1535.9 117.4 1537.5 114.7 1538.7 125.7C1539.9 136.7 1540.8 184.0 1540.8 184.0C1540.8 184.0 1543.0 141.1 1544.3 130.7C1545.6 120.4 1547.0 122.2 1548.7 121.9C1550.4 121.7 1552.2 130.5 1554.3 129.5C1556.4 128.4 1558.9 114.8 1561.2 115.7C1563.6 116.5 1568.5 134.5 1568.5 134.5C1568.5 134.5 1575.0 116.7 1577.5 114.4C1580.0 112.1 1582.1 115.9 1583.8 120.7C1585.5 125.5 1587.8 143.2 1587.8 143.2C1587.8 143.2 1593.6 120.9 1596.3 118.2C1599.0 115.5 1601.5 124.7 1603.8 127.0C1606.1 129.3 1608.4 129.3 1610.1 132.0C1611.7 134.7 1612.2 143.0 1613.8 143.2C1615.5 143.5 1618.0 135.3 1620.1 133.2C1622.2 131.1 1624.5 130.3 1626.4 130.7C1628.2 131.1 1629.7 133.1 1631.4 135.7C1633.0 138.3 1634.5 147.2 1636.1 146.4C1637.8 145.5 1639.5 133.7 1641.4 130.7C1643.3 127.7 1645.8 127.8 1647.7 128.2C1649.5 128.6 1651.0 128.5 1652.7 133.2C1654.3 137.9 1657.7 156.4 1657.7 156.4C1657.7 156.4 1661.0 140.8 1662.7 135.7C1664.4 130.6 1666.0 126.5 1667.7 125.7C1669.4 124.9 1671.3 128.0 1672.7 130.7C1674.2 133.4 1675.0 141.2 1676.5 142.0C1677.9 142.8 1679.6 137.0 1681.5 135.7C1683.4 134.5 1685.9 137.8 1687.8 134.5C1689.7 131.1 1691.0 118.0 1692.8 115.7C1694.7 113.4 1697.2 116.6 1699.1 120.7C1701.0 124.8 1702.4 139.3 1704.1 140.1C1705.8 140.9 1707.5 128.9 1709.1 125.7C1710.8 122.5 1712.3 120.9 1714.1 120.7C1716.0 120.5 1718.3 124.0 1720.4 124.5C1722.5 124.9 1725.0 122.2 1726.7 123.2C1728.3 124.2 1729.1 125.3 1730.4 130.7C1731.8 136.1 1734.8 155.8 1734.8 155.8C1734.8 155.8 1739.1 131.3 1740.5 125.7C1741.8 120.1 1741.7 121.1 1743.0 121.9C1744.2 122.8 1746.5 125.9 1748.0 130.7C1749.4 135.5 1750.6 146.6 1751.7 150.8C1752.8 154.9 1754.0 154.9 1754.5 155.8" fill="none" stroke="#ff0000" stroke-width="2.9" stroke-linejoin="round" stroke-dasharray="16 10"/>
<path d="M1149.8 225.9V216.9M1149.8 48.6V57.6M1300.6 225.9V216.9M1300.6 48.6V57.6M1451.3 225.9V216.9M1451.3 48.6V57.6M1602.1 225.9V216.9M1602.1 48.6V57.6M1036.7 92.8H1045.7M1753.7 92.8H1744.7M1036.7 204.0H1045.7M1753.7 204.0H1744.7" stroke="#000" stroke-width="1.9" fill="none"/>
<rect x="1036.7" y="48.6" width="717.0" height="177.3" fill="none" stroke="#000" stroke-width="1.9"/>
<g font-size="37"><text x="1149.8" y="271.1" text-anchor="middle">2</text><text x="1300.6" y="271.1" text-anchor="middle">4</text><text x="1451.3" y="271.1" text-anchor="middle">6</text><text x="1602.1" y="271.1" text-anchor="middle">8</text><text x="1752.9" y="271.1" text-anchor="middle">10</text><text x="1020.7" y="105.6" text-anchor="end">50</text><text x="1020.7" y="216.8" text-anchor="end">100</text></g>
<line x1="1571.5" y1="60.0" x2="1638.2" y2="60.0" stroke="#0000ff" stroke-width="3.2"/>
<line x1="1570.0" y1="93.0" x2="1639.7" y2="93.0" stroke="#dd0000" stroke-width="2.6" stroke-dasharray="16.5 10.5"/>
<g font-size="27.2"><text x="1644.7" y="69.0">Bellhop</text><text x="1644.7" y="101.5">Scooter</text></g>
<line x1="1149.8" y1="292.8" x2="1149.8" y2="461.8" stroke="#dcdcdc" stroke-width="1.1"/>
<line x1="1300.4" y1="292.8" x2="1300.4" y2="461.8" stroke="#dcdcdc" stroke-width="1.1"/>
<line x1="1451.0" y1="292.8" x2="1451.0" y2="461.8" stroke="#dcdcdc" stroke-width="1.1"/>
<line x1="1601.6" y1="292.8" x2="1601.6" y2="461.8" stroke="#dcdcdc" stroke-width="1.1"/>
<line x1="1036.7" y1="333.8" x2="1753.6" y2="333.8" stroke="#dcdcdc" stroke-width="1.1"/>
<line x1="1036.7" y1="439.6" x2="1753.6" y2="439.6" stroke="#dcdcdc" stroke-width="1.1"/>
<clipPath id="cB2"><rect x="1036.7" y="292.8" width="716.9" height="169.0"/></clipPath>
<path clip-path="url(#cB2)" d="M1036.1 337.5C1036.4 336.6 1037.3 331.5 1038.1 332.3C1039.0 333.2 1040.4 342.2 1041.2 342.7C1042.1 343.2 1042.8 333.4 1043.3 335.4C1043.8 337.5 1044.3 355.1 1044.3 355.1C1044.3 355.1 1046.6 327.7 1048.5 324.1C1050.4 320.5 1054.0 324.8 1055.7 333.4C1057.4 342.0 1058.8 375.7 1058.8 375.7C1058.8 375.7 1063.1 338.0 1065.0 331.3C1066.9 324.6 1068.6 333.0 1070.1 335.4C1071.7 337.9 1072.9 345.3 1074.3 345.8C1075.7 346.3 1077.2 339.2 1078.4 338.5C1079.6 337.9 1080.5 334.2 1081.5 341.6C1082.5 349.0 1084.6 382.9 1084.6 382.9C1084.6 382.9 1089.8 340.9 1091.8 335.4C1093.9 329.9 1095.3 344.7 1097.0 349.9C1098.7 355.1 1102.2 366.4 1102.2 366.4C1102.2 366.4 1107.0 342.8 1109.4 343.7C1111.8 344.6 1116.6 371.6 1116.6 371.6C1116.6 371.6 1120.1 350.9 1121.8 349.9C1123.5 348.9 1126.9 365.4 1126.9 365.4C1126.9 365.4 1133.8 338.0 1136.2 334.4C1138.7 330.8 1140.0 338.2 1141.4 343.7C1142.9 349.2 1144.9 367.5 1144.9 367.5C1144.9 367.5 1148.2 348.5 1149.7 345.8C1151.1 343.0 1151.9 352.0 1153.8 350.9C1155.7 349.9 1158.6 339.7 1161.0 339.6C1163.4 339.4 1166.4 343.5 1168.3 349.9C1170.1 356.3 1171.3 362.3 1172.2 377.8C1173.2 393.3 1173.8 442.8 1173.8 442.8C1173.8 442.8 1174.3 391.1 1175.4 374.9C1176.6 358.7 1178.7 349.6 1180.6 345.8C1182.6 341.9 1185.1 349.0 1186.8 352.0C1188.6 354.9 1189.4 362.3 1191.0 363.3C1192.5 364.4 1194.1 356.8 1196.1 358.2C1198.1 359.5 1200.9 371.2 1203.0 371.6C1205.0 371.9 1206.6 361.1 1208.5 360.2C1210.5 359.4 1212.5 367.1 1214.7 366.4C1217.0 365.7 1219.4 357.3 1222.0 356.1C1224.5 354.9 1227.5 357.1 1230.2 359.2C1233.0 361.3 1236.3 362.5 1238.5 368.5C1240.6 374.5 1243.0 395.3 1243.0 395.3C1243.0 395.3 1246.8 360.6 1248.8 352.0C1250.8 343.4 1252.9 343.7 1255.0 343.7C1257.1 343.7 1259.7 341.6 1261.2 352.0C1262.7 362.3 1263.9 405.7 1263.9 405.7C1263.9 405.7 1269.1 352.0 1271.5 343.7C1274.0 335.4 1276.5 355.4 1278.8 356.1C1281.0 356.8 1282.7 347.1 1285.0 347.8C1287.2 348.5 1289.8 359.4 1292.2 360.2C1294.6 361.1 1297.3 353.3 1299.4 353.0C1301.5 352.7 1302.3 352.8 1304.6 358.2C1306.8 363.5 1312.8 385.0 1312.8 385.0C1312.8 385.0 1323.9 360.6 1327.3 358.2C1330.7 355.8 1331.1 372.8 1333.5 370.6C1335.9 368.3 1338.8 344.6 1341.8 344.7C1344.7 344.9 1348.6 369.0 1351.1 371.6C1353.5 374.2 1354.3 362.1 1356.2 360.2C1358.1 358.3 1360.0 360.7 1362.4 360.2C1364.8 359.7 1367.7 355.1 1370.7 357.1C1373.6 359.2 1376.9 371.8 1380.0 372.6C1383.1 373.5 1386.4 360.1 1389.3 362.3C1392.1 364.5 1397.2 386.0 1397.2 386.0C1397.2 386.0 1400.5 371.4 1402.4 368.5C1404.3 365.6 1405.7 370.3 1408.6 368.5C1411.5 366.7 1416.2 358.4 1419.9 357.7C1423.7 357.1 1428.0 361.2 1431.3 364.4C1434.6 367.5 1436.9 372.2 1439.6 376.7C1442.3 381.3 1444.7 393.0 1447.4 391.6C1450.2 390.2 1453.6 374.4 1456.1 368.5C1458.6 362.6 1460.1 356.3 1462.3 356.1C1464.5 355.9 1467.3 368.0 1469.5 367.5C1471.8 366.9 1473.5 353.7 1475.7 353.0C1478.0 352.3 1480.4 364.0 1482.9 363.3C1485.5 362.6 1488.5 346.8 1491.2 348.9C1494.0 350.9 1499.5 375.7 1499.5 375.7C1499.5 375.7 1505.3 354.2 1507.7 352.0C1510.1 349.7 1511.8 357.3 1513.9 362.3C1516.1 367.3 1520.5 381.9 1520.5 381.9C1520.5 381.9 1524.0 370.0 1526.3 366.4C1528.7 362.8 1532.1 357.6 1534.6 360.2C1537.1 362.8 1539.9 369.9 1541.2 381.9C1542.6 394.0 1542.8 432.5 1542.8 432.5C1542.8 432.5 1543.4 394.5 1544.4 382.6C1545.5 370.8 1547.2 363.4 1549.0 361.3C1550.8 359.1 1553.0 370.4 1555.2 369.5C1557.5 368.7 1560.1 355.4 1562.5 356.1C1564.9 356.8 1569.7 373.7 1569.7 373.7C1569.7 373.7 1574.9 353.2 1578.0 354.0C1581.1 354.9 1588.3 378.8 1588.3 378.8C1588.3 378.8 1592.8 360.1 1595.5 358.2C1598.3 356.3 1601.5 364.0 1604.8 367.5C1608.1 370.9 1612.0 378.0 1615.1 378.8C1618.2 379.7 1621.0 373.7 1623.4 372.6C1625.8 371.6 1627.2 370.4 1629.6 372.6C1632.0 374.9 1634.8 386.9 1637.9 386.0C1641.0 385.2 1645.0 368.8 1648.2 367.5C1651.4 366.1 1655.2 372.1 1656.9 378.0C1658.6 383.8 1658.5 402.6 1658.5 402.6C1658.5 402.6 1658.6 382.2 1660.1 375.8C1661.7 369.5 1665.0 363.5 1667.8 364.4C1670.6 365.2 1674.5 379.3 1677.1 380.9C1679.7 382.4 1681.6 374.9 1683.3 373.7C1685.0 372.4 1685.4 376.5 1687.4 373.7C1689.5 370.8 1692.9 355.6 1695.7 356.5C1698.5 357.4 1704.4 378.8 1704.4 378.8C1704.4 378.8 1708.8 361.9 1712.2 359.2C1715.6 356.4 1721.5 361.4 1724.6 362.3C1727.7 363.2 1728.9 359.2 1730.8 364.4C1732.7 369.5 1736.0 393.3 1736.0 393.3C1736.0 393.3 1740.6 362.3 1743.2 362.3C1745.8 362.3 1749.5 387.2 1751.5 393.3C1753.5 399.3 1754.6 397.6 1755.2 398.4" fill="none" stroke="#0000ff" stroke-width="3.6" stroke-linejoin="round"/>
<path clip-path="url(#cB2)" d="M1036.1 337.5C1036.4 336.6 1037.3 331.5 1038.1 332.3C1039.0 333.2 1040.4 342.2 1041.2 342.7C1042.1 343.2 1042.8 333.4 1043.3 335.4C1043.8 337.5 1044.3 355.1 1044.3 355.1C1044.3 355.1 1046.6 327.7 1048.5 324.1C1050.4 320.5 1054.0 324.8 1055.7 333.4C1057.4 342.0 1058.8 375.7 1058.8 375.7C1058.8 375.7 1063.1 338.0 1065.0 331.3C1066.9 324.6 1068.6 333.0 1070.1 335.4C1071.7 337.9 1072.9 345.3 1074.3 345.8C1075.7 346.3 1077.2 339.2 1078.4 338.5C1079.6 337.9 1080.5 334.2 1081.5 341.6C1082.5 349.0 1084.6 382.9 1084.6 382.9C1084.6 382.9 1089.8 340.9 1091.8 335.4C1093.9 329.9 1095.3 344.7 1097.0 349.9C1098.7 355.1 1102.2 366.4 1102.2 366.4C1102.2 366.4 1107.0 342.8 1109.4 343.7C1111.8 344.6 1116.6 371.6 1116.6 371.6C1116.6 371.6 1120.1 350.9 1121.8 349.9C1123.5 348.9 1126.9 365.4 1126.9 365.4C1126.9 365.4 1133.8 338.0 1136.2 334.4C1138.7 330.8 1140.0 338.2 1141.4 343.7C1142.9 349.2 1144.9 367.5 1144.9 367.5C1144.9 367.5 1148.2 348.5 1149.7 345.8C1151.1 343.0 1151.9 352.0 1153.8 350.9C1155.7 349.9 1158.6 339.7 1161.0 339.6C1163.4 339.4 1166.4 345.0 1168.3 349.9C1170.1 354.8 1171.3 358.4 1172.2 369.1C1173.2 379.8 1173.8 414.0 1173.8 414.0C1173.8 414.0 1174.3 377.6 1175.4 366.2C1176.6 354.9 1178.7 348.1 1180.6 345.8C1182.6 343.4 1185.1 349.0 1186.8 352.0C1188.6 354.9 1189.4 362.3 1191.0 363.3C1192.5 364.4 1194.1 356.8 1196.1 358.2C1198.1 359.5 1200.9 371.2 1203.0 371.6C1205.0 371.9 1206.6 361.1 1208.5 360.2C1210.5 359.4 1212.5 367.1 1214.7 366.4C1217.0 365.7 1219.4 357.3 1222.0 356.1C1224.5 354.9 1227.5 357.1 1230.2 359.2C1233.0 361.3 1236.3 362.5 1238.5 368.5C1240.6 374.5 1243.0 395.3 1243.0 395.3C1243.0 395.3 1246.8 360.6 1248.8 352.0C1250.8 343.4 1252.9 343.7 1255.0 343.7C1257.1 343.7 1259.7 338.9 1261.2 352.0C1262.7 365.0 1263.9 422.0 1263.9 422.0C1263.9 422.0 1269.1 354.7 1271.5 343.7C1274.0 332.7 1276.5 355.4 1278.8 356.1C1281.0 356.8 1282.7 347.1 1285.0 347.8C1287.2 348.5 1289.8 359.4 1292.2 360.2C1294.6 361.1 1297.3 353.3 1299.4 353.0C1301.5 352.7 1302.3 352.8 1304.6 358.2C1306.8 363.5 1312.8 385.0 1312.8 385.0C1312.8 385.0 1323.9 360.6 1327.3 358.2C1330.7 355.8 1331.1 372.8 1333.5 370.6C1335.9 368.3 1338.8 344.6 1341.8 344.7C1344.7 344.9 1348.6 369.0 1351.1 371.6C1353.5 374.2 1354.3 362.1 1356.2 360.2C1358.1 358.3 1360.0 360.7 1362.4 360.2C1364.8 359.7 1367.7 355.1 1370.7 357.1C1373.6 359.2 1376.9 371.8 1380.0 372.6C1383.1 373.5 1386.4 360.1 1389.3 362.3C1392.1 364.5 1397.2 386.0 1397.2 386.0C1397.2 386.0 1400.5 371.4 1402.4 368.5C1404.3 365.6 1405.7 370.3 1408.6 368.5C1411.5 366.7 1416.2 358.4 1419.9 357.7C1423.7 357.1 1428.0 361.2 1431.3 364.4C1434.6 367.5 1436.9 372.2 1439.6 376.7C1442.3 381.3 1444.7 393.0 1447.4 391.6C1450.2 390.2 1453.6 374.4 1456.1 368.5C1458.6 362.6 1460.1 356.3 1462.3 356.1C1464.5 355.9 1467.3 368.0 1469.5 367.5C1471.8 366.9 1473.5 353.7 1475.7 353.0C1478.0 352.3 1480.4 364.0 1482.9 363.3C1485.5 362.6 1488.5 346.8 1491.2 348.9C1494.0 350.9 1499.5 375.7 1499.5 375.7C1499.5 375.7 1505.3 354.2 1507.7 352.0C1510.1 349.7 1511.8 357.3 1513.9 362.3C1516.1 367.3 1520.5 381.9 1520.5 381.9C1520.5 381.9 1524.0 370.0 1526.3 366.4C1528.7 362.8 1532.1 357.6 1534.6 360.2C1537.1 362.8 1539.9 369.9 1541.2 381.9C1542.6 394.0 1542.8 432.5 1542.8 432.5C1542.8 432.5 1543.4 394.5 1544.4 382.6C1545.5 370.8 1547.2 363.4 1549.0 361.3C1550.8 359.1 1553.0 370.4 1555.2 369.5C1557.5 368.7 1560.1 355.4 1562.5 356.1C1564.9 356.8 1569.7 373.7 1569.7 373.7C1569.7 373.7 1574.9 353.2 1578.0 354.0C1581.1 354.9 1588.3 378.8 1588.3 378.8C1588.3 378.8 1592.8 360.1 1595.5 358.2C1598.3 356.3 1601.5 364.0 1604.8 367.5C1608.1 370.9 1612.0 378.0 1615.1 378.8C1618.2 379.7 1621.0 373.7 1623.4 372.6C1625.8 371.6 1627.2 370.4 1629.6 372.6C1632.0 374.9 1634.8 386.9 1637.9 386.0C1641.0 385.2 1645.0 368.8 1648.2 367.5C1651.4 366.1 1655.2 372.1 1656.9 378.0C1658.6 383.8 1658.5 402.6 1658.5 402.6C1658.5 402.6 1658.6 382.2 1660.1 375.8C1661.7 369.5 1665.0 363.5 1667.8 364.4C1670.6 365.2 1674.5 379.3 1677.1 380.9C1679.7 382.4 1681.6 374.9 1683.3 373.7C1685.0 372.4 1685.4 376.5 1687.4 373.7C1689.5 370.8 1692.9 355.6 1695.7 356.5C1698.5 357.4 1704.4 378.8 1704.4 378.8C1704.4 378.8 1708.8 361.9 1712.2 359.2C1715.6 356.4 1721.5 361.4 1724.6 362.3C1727.7 363.2 1728.9 359.2 1730.8 364.4C1732.7 369.5 1736.0 393.3 1736.0 393.3C1736.0 393.3 1740.6 362.3 1743.2 362.3C1745.8 362.3 1749.5 387.2 1751.5 393.3C1753.5 399.3 1754.6 397.6 1755.2 398.4" fill="none" stroke="#ff0000" stroke-width="2.9" stroke-linejoin="round" stroke-dasharray="16 10"/>
<path d="M1149.8 461.8V452.8M1149.8 292.8V301.8M1300.4 461.8V452.8M1300.4 292.8V301.8M1451.0 461.8V452.8M1451.0 292.8V301.8M1601.6 461.8V452.8M1601.6 292.8V301.8M1036.7 333.8H1045.7M1753.6 333.8H1744.6M1036.7 439.6H1045.7M1753.6 439.6H1744.6" stroke="#000" stroke-width="1.9" fill="none"/>
<rect x="1036.7" y="292.8" width="716.9" height="169.0" fill="none" stroke="#000" stroke-width="1.9"/>
<g font-size="37"><text x="1149.8" y="507.0" text-anchor="middle">2</text><text x="1300.4" y="507.0" text-anchor="middle">4</text><text x="1451.0" y="507.0" text-anchor="middle">6</text><text x="1601.6" y="507.0" text-anchor="middle">8</text><text x="1752.2" y="507.0" text-anchor="middle">10</text><text x="1020.7" y="346.6" text-anchor="end">50</text><text x="1020.7" y="452.4" text-anchor="end">100</text></g>
<line x1="1583.4" y1="310.0" x2="1650.0" y2="310.0" stroke="#0000ff" stroke-width="3.2"/>
<line x1="1581.9" y1="342.7" x2="1651.5" y2="342.7" stroke="#dd0000" stroke-width="2.6" stroke-dasharray="16.5 10.5"/>
<g font-size="27.2"><text x="1656.7" y="319.1">RAM</text><text x="1656.7" y="350.8">Scooter</text></g>
<line x1="1149.4" y1="522.0" x2="1149.4" y2="709.5" stroke="#dcdcdc" stroke-width="1.1"/>
<line x1="1300.0" y1="522.0" x2="1300.0" y2="709.5" stroke="#dcdcdc" stroke-width="1.1"/>
<line x1="1450.5" y1="522.0" x2="1450.5" y2="709.5" stroke="#dcdcdc" stroke-width="1.1"/>
<line x1="1601.1" y1="522.0" x2="1601.1" y2="709.5" stroke="#dcdcdc" stroke-width="1.1"/>
<line x1="1036.5" y1="567.8" x2="1754.3" y2="567.8" stroke="#dcdcdc" stroke-width="1.1"/>
<line x1="1036.5" y1="685.7" x2="1754.3" y2="685.7" stroke="#dcdcdc" stroke-width="1.1"/>
<clipPath id="cB3"><rect x="1036.5" y="522.0" width="717.8" height="187.5"/></clipPath>
<path clip-path="url(#cB3)" d="M1036.1 569.7C1036.4 569.0 1037.3 564.7 1038.1 565.6C1039.0 566.5 1040.4 574.2 1041.2 574.9C1042.1 575.6 1042.7 567.3 1043.3 569.7C1043.9 572.1 1044.7 589.4 1044.7 589.4C1044.7 589.4 1047.0 561.1 1048.9 557.3C1050.7 553.6 1054.0 557.5 1055.7 566.6C1057.3 575.8 1058.8 612.1 1058.8 612.1C1058.8 612.1 1063.9 569.7 1066.0 562.5C1068.1 555.3 1069.7 565.6 1071.2 568.7C1072.7 571.8 1073.7 580.8 1074.9 581.1C1076.1 581.4 1077.3 571.8 1078.4 570.8C1079.5 569.7 1080.5 566.5 1081.5 574.9C1082.5 583.3 1084.6 621.4 1084.6 621.4C1084.6 621.4 1090.8 576.1 1092.9 569.7C1094.9 563.4 1095.4 577.5 1097.0 583.2C1098.5 588.8 1102.2 603.8 1102.2 603.8C1102.2 603.8 1107.0 575.9 1109.4 577.0C1111.8 578.0 1116.6 610.0 1116.6 610.0C1116.6 610.0 1120.0 585.2 1121.8 584.2C1123.6 583.2 1127.4 603.8 1127.4 603.8C1127.4 603.8 1133.9 572.8 1136.2 568.7C1138.6 564.6 1140.0 573.0 1141.4 579.0C1142.9 585.1 1144.9 604.8 1144.9 604.8C1144.9 604.8 1148.0 584.2 1149.7 581.1C1151.3 578.0 1152.9 587.5 1154.8 586.3C1156.7 585.1 1158.8 574.4 1161.0 573.9C1163.3 573.3 1166.4 578.8 1168.3 583.2C1170.1 587.5 1171.3 590.6 1172.2 599.9C1173.2 609.2 1173.8 638.9 1173.8 638.9C1173.8 638.9 1174.3 608.1 1175.4 598.4C1176.6 588.8 1178.7 582.6 1180.6 581.1C1182.6 579.6 1185.1 585.9 1186.8 589.4C1188.6 592.8 1189.4 600.9 1191.0 601.7C1192.5 602.6 1194.1 593.1 1196.1 594.5C1198.2 595.9 1201.3 609.7 1203.4 610.0C1205.4 610.4 1206.6 597.4 1208.5 596.6C1210.4 595.7 1212.5 605.5 1214.7 604.8C1217.0 604.2 1219.4 594.0 1222.0 592.5C1224.5 590.9 1227.5 593.3 1230.2 595.6C1233.0 597.8 1236.3 599.7 1238.5 605.9C1240.6 612.1 1243.0 632.7 1243.0 632.7C1243.0 632.7 1246.8 596.4 1248.8 587.3C1250.8 578.2 1252.9 578.0 1255.0 578.0C1257.1 578.0 1259.7 578.7 1261.2 587.3C1262.8 595.9 1264.3 629.6 1264.3 629.6C1264.3 629.6 1269.1 584.0 1271.5 578.0C1273.9 572.0 1276.5 592.6 1278.8 593.5C1281.0 594.3 1282.7 582.5 1285.0 583.2C1287.2 583.8 1289.8 596.4 1292.2 597.6C1294.6 598.8 1297.3 591.1 1299.4 590.4C1301.5 589.7 1302.3 587.5 1304.6 593.5C1306.8 599.5 1312.8 626.5 1312.8 626.5C1312.8 626.5 1323.9 599.3 1327.3 596.6C1330.7 593.8 1331.0 612.9 1333.5 610.0C1336.0 607.1 1339.2 579.0 1342.2 579.0C1345.1 579.0 1348.7 607.1 1351.1 610.0C1353.4 612.9 1354.3 598.8 1356.2 596.6C1358.1 594.3 1360.0 597.1 1362.4 596.6C1364.8 596.1 1367.6 590.9 1370.7 593.5C1373.8 596.1 1377.9 610.9 1381.0 612.1C1384.1 613.3 1386.5 598.3 1389.3 600.7C1392.1 603.1 1397.8 626.5 1397.8 626.5C1397.8 626.5 1400.6 611.2 1402.4 607.9C1404.2 604.7 1405.7 609.2 1408.6 606.9C1411.5 604.7 1416.2 595.4 1419.9 594.5C1423.7 593.7 1428.0 598.1 1431.3 601.7C1434.6 605.4 1437.0 611.0 1439.6 616.2C1442.2 621.4 1446.8 632.7 1446.8 632.7C1446.8 632.7 1453.3 612.6 1456.1 605.9C1458.8 599.2 1461.1 592.6 1463.3 592.5C1465.6 592.3 1467.5 605.4 1469.5 604.8C1471.6 604.3 1473.5 590.0 1475.7 589.4C1478.0 588.7 1480.4 601.6 1482.9 600.7C1485.5 599.9 1488.5 581.8 1491.2 584.2C1494.0 586.6 1499.5 615.2 1499.5 615.2C1499.5 615.2 1506.2 590.9 1508.8 588.3C1511.3 585.7 1513.0 594.0 1515.0 599.7C1516.9 605.4 1520.5 622.4 1520.5 622.4C1520.5 622.4 1523.8 610.2 1526.3 605.9C1528.8 601.6 1533.1 594.0 1535.6 596.6C1538.1 599.2 1540.0 607.6 1541.2 621.4C1542.5 635.1 1542.8 679.2 1542.8 679.2C1542.8 679.2 1543.4 636.2 1544.4 622.8C1545.5 609.4 1547.2 601.1 1549.0 598.7C1550.8 596.2 1553.0 608.9 1555.2 607.9C1557.5 607.0 1560.1 592.2 1562.5 593.1C1564.9 593.9 1569.7 613.1 1569.7 613.1C1569.7 613.1 1574.8 589.5 1578.0 590.4C1581.1 591.3 1588.7 618.3 1588.7 618.3C1588.7 618.3 1593.7 596.6 1596.5 594.5C1599.4 592.5 1602.7 601.9 1605.8 605.9C1608.9 609.8 1612.2 617.4 1615.1 618.3C1618.1 619.1 1621.0 612.2 1623.4 611.0C1625.8 609.8 1627.2 608.5 1629.6 611.0C1632.0 613.6 1637.9 626.5 1637.9 626.5C1637.9 626.5 1645.0 607.4 1648.2 605.9C1651.4 604.4 1655.2 611.1 1656.9 617.7C1658.6 624.2 1658.5 645.1 1658.5 645.1C1658.5 645.1 1658.4 621.4 1660.1 614.0C1661.8 606.6 1666.0 599.7 1668.8 600.7C1671.7 601.8 1674.7 618.6 1677.1 620.3C1679.5 622.1 1681.6 612.8 1683.3 611.0C1685.0 609.3 1685.2 612.9 1687.4 610.0C1689.7 607.1 1693.8 592.1 1696.7 593.5C1699.6 594.9 1705.0 618.3 1705.0 618.3C1705.0 618.3 1711.0 599.7 1714.3 596.6C1717.6 593.5 1722.0 598.8 1724.6 599.7C1727.2 600.5 1727.8 596.1 1729.8 601.7C1731.8 607.4 1736.6 633.8 1736.6 633.8C1736.6 633.8 1741.6 597.4 1744.2 598.7C1746.9 599.9 1750.7 633.6 1752.5 641.0C1754.3 648.4 1754.7 642.7 1755.2 643.1" fill="none" stroke="#0000ff" stroke-width="3.6" stroke-linejoin="round"/>
<path clip-path="url(#cB3)" d="M1036.1 569.7C1036.4 569.0 1037.3 564.7 1038.1 565.6C1039.0 566.5 1040.4 574.2 1041.2 574.9C1042.1 575.6 1042.7 567.3 1043.3 569.7C1043.9 572.1 1044.7 589.4 1044.7 589.4C1044.7 589.4 1047.0 561.1 1048.9 557.3C1050.7 553.6 1054.0 557.5 1055.7 566.6C1057.3 575.8 1058.8 612.1 1058.8 612.1C1058.8 612.1 1063.9 569.7 1066.0 562.5C1068.1 555.3 1069.7 565.6 1071.2 568.7C1072.7 571.8 1073.7 580.8 1074.9 581.1C1076.1 581.4 1077.3 571.8 1078.4 570.8C1079.5 569.7 1080.5 566.5 1081.5 574.9C1082.5 583.3 1084.6 621.4 1084.6 621.4C1084.6 621.4 1090.8 576.1 1092.9 569.7C1094.9 563.4 1095.4 577.5 1097.0 583.2C1098.5 588.8 1102.2 603.8 1102.2 603.8C1102.2 603.8 1107.0 575.9 1109.4 577.0C1111.8 578.0 1116.6 610.0 1116.6 610.0C1116.6 610.0 1120.0 585.2 1121.8 584.2C1123.6 583.2 1127.4 603.8 1127.4 603.8C1127.4 603.8 1133.9 572.8 1136.2 568.7C1138.6 564.6 1140.0 573.0 1141.4 579.0C1142.9 585.1 1144.9 604.8 1144.9 604.8C1144.9 604.8 1148.0 584.2 1149.7 581.1C1151.3 578.0 1152.9 587.5 1154.8 586.3C1156.7 585.1 1158.8 574.4 1161.0 573.9C1163.3 573.3 1166.4 577.8 1168.3 583.2C1170.1 588.5 1171.3 593.4 1172.2 606.1C1173.2 618.8 1173.8 659.6 1173.8 659.6C1173.8 659.6 1174.3 617.7 1175.4 604.6C1176.6 591.6 1178.7 583.6 1180.6 581.1C1182.6 578.5 1185.1 585.9 1186.8 589.4C1188.6 592.8 1189.4 600.9 1191.0 601.7C1192.5 602.6 1194.1 593.1 1196.1 594.5C1198.2 595.9 1201.3 609.7 1203.4 610.0C1205.4 610.4 1206.6 597.4 1208.5 596.6C1210.4 595.7 1212.5 605.5 1214.7 604.8C1217.0 604.2 1219.4 594.0 1222.0 592.5C1224.5 590.9 1227.5 593.3 1230.2 595.6C1233.0 597.8 1236.3 599.7 1238.5 605.9C1240.6 612.1 1243.0 632.7 1243.0 632.7C1243.0 632.7 1246.8 596.4 1248.8 587.3C1250.8 578.2 1252.9 578.0 1255.0 578.0C1257.1 578.0 1259.7 571.6 1261.2 587.3C1262.8 603.0 1264.3 672.0 1264.3 672.0C1264.3 672.0 1269.1 591.1 1271.5 578.0C1273.9 564.9 1276.5 592.6 1278.8 593.5C1281.0 594.3 1282.7 582.5 1285.0 583.2C1287.2 583.8 1289.8 596.4 1292.2 597.6C1294.6 598.8 1297.3 591.1 1299.4 590.4C1301.5 589.7 1302.3 587.5 1304.6 593.5C1306.8 599.5 1312.8 626.5 1312.8 626.5C1312.8 626.5 1323.9 599.3 1327.3 596.6C1330.7 593.8 1331.0 612.9 1333.5 610.0C1336.0 607.1 1339.2 579.0 1342.2 579.0C1345.1 579.0 1348.7 607.1 1351.1 610.0C1353.4 612.9 1354.3 598.8 1356.2 596.6C1358.1 594.3 1360.0 597.1 1362.4 596.6C1364.8 596.1 1367.6 590.9 1370.7 593.5C1373.8 596.1 1377.9 610.9 1381.0 612.1C1384.1 613.3 1386.5 598.3 1389.3 600.7C1392.1 603.1 1397.8 626.5 1397.8 626.5C1397.8 626.5 1400.6 611.2 1402.4 607.9C1404.2 604.7 1405.7 609.2 1408.6 606.9C1411.5 604.7 1416.2 595.4 1419.9 594.5C1423.7 593.7 1428.0 598.1 1431.3 601.7C1434.6 605.4 1437.0 611.0 1439.6 616.2C1442.2 621.4 1446.8 632.7 1446.8 632.7C1446.8 632.7 1453.3 612.6 1456.1 605.9C1458.8 599.2 1461.1 592.6 1463.3 592.5C1465.6 592.3 1467.5 605.4 1469.5 604.8C1471.6 604.3 1473.5 590.0 1475.7 589.4C1478.0 588.7 1480.4 601.6 1482.9 600.7C1485.5 599.9 1488.5 581.8 1491.2 584.2C1494.0 586.6 1499.5 615.2 1499.5 615.2C1499.5 615.2 1506.2 590.9 1508.8 588.3C1511.3 585.7 1513.0 594.0 1515.0 599.7C1516.9 605.4 1520.5 622.4 1520.5 622.4C1520.5 622.4 1523.8 610.2 1526.3 605.9C1528.8 601.6 1533.1 594.0 1535.6 596.6C1538.1 599.2 1540.0 607.6 1541.2 621.4C1542.5 635.1 1542.8 679.2 1542.8 679.2C1542.8 679.2 1543.4 636.2 1544.4 622.8C1545.5 609.4 1547.2 601.1 1549.0 598.7C1550.8 596.2 1553.0 608.9 1555.2 607.9C1557.5 607.0 1560.1 592.2 1562.5 593.1C1564.9 593.9 1569.7 613.1 1569.7 613.1C1569.7 613.1 1574.8 589.5 1578.0 590.4C1581.1 591.3 1588.7 618.3 1588.7 618.3C1588.7 618.3 1593.7 596.6 1596.5 594.5C1599.4 592.5 1602.7 601.9 1605.8 605.9C1608.9 609.8 1612.2 617.4 1615.1 618.3C1618.1 619.1 1621.0 612.2 1623.4 611.0C1625.8 609.8 1627.2 608.5 1629.6 611.0C1632.0 613.6 1637.9 626.5 1637.9 626.5C1637.9 626.5 1645.0 607.4 1648.2 605.9C1651.4 604.4 1655.2 611.1 1656.9 617.7C1658.6 624.2 1658.5 645.1 1658.5 645.1C1658.5 645.1 1658.4 621.4 1660.1 614.0C1661.8 606.6 1666.0 599.7 1668.8 600.7C1671.7 601.8 1674.7 618.6 1677.1 620.3C1679.5 622.1 1681.6 612.8 1683.3 611.0C1685.0 609.3 1685.2 612.9 1687.4 610.0C1689.7 607.1 1693.8 592.1 1696.7 593.5C1699.6 594.9 1705.0 618.3 1705.0 618.3C1705.0 618.3 1711.0 599.7 1714.3 596.6C1717.6 593.5 1722.0 598.8 1724.6 599.7C1727.2 600.5 1727.8 596.1 1729.8 601.7C1731.8 607.4 1736.6 633.8 1736.6 633.8C1736.6 633.8 1741.6 597.4 1744.2 598.7C1746.9 599.9 1750.7 633.6 1752.5 641.0C1754.3 648.4 1754.7 642.7 1755.2 643.1" fill="none" stroke="#ff0000" stroke-width="2.9" stroke-linejoin="round" stroke-dasharray="16 10"/>
<path d="M1149.4 709.5V700.5M1149.4 522.0V531.0M1300.0 709.5V700.5M1300.0 522.0V531.0M1450.5 709.5V700.5M1450.5 522.0V531.0M1601.1 709.5V700.5M1601.1 522.0V531.0M1036.5 567.8H1045.5M1754.3 567.8H1745.3M1036.5 685.7H1045.5M1754.3 685.7H1745.3" stroke="#000" stroke-width="1.9" fill="none"/>
<rect x="1036.5" y="522.0" width="717.8" height="187.5" fill="none" stroke="#000" stroke-width="1.9"/>
<g font-size="37"><text x="1149.4" y="754.7" text-anchor="middle">2</text><text x="1300.0" y="754.7" text-anchor="middle">4</text><text x="1450.5" y="754.7" text-anchor="middle">6</text><text x="1601.1" y="754.7" text-anchor="middle">8</text><text x="1751.7" y="754.7" text-anchor="middle">10</text><text x="1021.5" y="580.6" text-anchor="end">50</text><text x="1021.5" y="698.5" text-anchor="end">100</text></g>
<line x1="1580.0" y1="538.9" x2="1647.4" y2="538.9" stroke="#0000ff" stroke-width="3.2"/>
<line x1="1578.5" y1="573.2" x2="1648.9" y2="573.2" stroke="#dd0000" stroke-width="2.6" stroke-dasharray="16.5 10.5"/>
<g font-size="27.2"><text x="1653.2" y="548.5">Kraken</text><text x="1653.2" y="582.2">Scooter</text></g>
<line x1="224.9" y1="819.0" x2="224.9" y2="1019.1" stroke="#dcdcdc" stroke-width="1.1"/>
<line x1="375.8" y1="819.0" x2="375.8" y2="1019.1" stroke="#dcdcdc" stroke-width="1.1"/>
<line x1="526.7" y1="819.0" x2="526.7" y2="1019.1" stroke="#dcdcdc" stroke-width="1.1"/>
<line x1="677.6" y1="819.0" x2="677.6" y2="1019.1" stroke="#dcdcdc" stroke-width="1.1"/>
<line x1="111.4" y1="868.7" x2="829.3" y2="868.7" stroke="#dcdcdc" stroke-width="1.1"/>
<line x1="111.4" y1="993.5" x2="829.3" y2="993.5" stroke="#dcdcdc" stroke-width="1.1"/>
<clipPath id="cC1"><rect x="111.4" y="819.0" width="717.9" height="200.1"/></clipPath>
<path clip-path="url(#cC1)" d="M110.2 864.6C110.5 863.7 111.5 859.1 112.2 859.4C112.9 859.7 113.9 862.6 114.4 866.5C115.0 870.5 115.7 883.2 115.7 883.2C115.7 883.2 116.4 870.5 117.0 866.5C117.7 862.6 119.2 858.4 119.9 859.4C120.6 860.4 120.8 865.3 121.3 872.7C121.7 880.1 122.6 903.8 122.6 903.8C122.6 903.8 123.3 885.6 123.9 880.0C124.4 874.3 124.8 865.4 125.7 869.7C126.5 874.1 128.8 905.9 128.8 905.9C128.8 905.9 130.2 886.9 130.8 885.2C131.4 883.5 131.8 889.9 132.2 895.8C132.7 901.6 133.5 920.3 133.5 920.3C133.5 920.3 134.2 896.1 134.8 888.5C135.4 881.0 136.0 875.1 137.0 874.9C138.1 874.7 139.9 884.2 141.1 887.3C142.4 890.4 143.0 897.6 144.2 893.5C145.4 889.4 147.4 865.4 148.4 862.5C149.4 859.6 149.7 868.6 150.2 876.1C150.7 883.7 151.5 907.9 151.5 907.9C151.5 907.9 152.3 894.7 152.8 890.6C153.3 886.5 154.0 883.0 154.6 883.2C155.2 883.3 155.9 886.9 156.4 891.5C156.9 896.2 157.7 911.0 157.7 911.0C157.7 911.0 158.5 891.8 159.0 885.7C159.4 879.7 159.4 873.1 160.4 874.9C161.3 876.7 163.6 892.6 164.9 896.6C166.2 900.5 166.8 901.7 168.0 898.7C169.2 895.6 170.7 880.7 172.1 878.0C173.5 875.3 175.5 880.1 176.4 882.6C177.3 885.2 177.7 893.5 177.7 893.5C177.7 893.5 178.3 879.2 179.0 874.7C179.7 870.2 180.7 866.3 181.8 866.6C182.9 867.0 184.2 873.2 185.6 877.0C186.9 880.8 188.5 888.3 189.7 889.4C190.9 890.4 191.8 881.3 192.8 883.2C193.8 885.1 194.9 891.0 195.6 900.8C196.3 910.6 196.9 942.0 196.9 942.0C196.9 942.0 197.5 923.9 198.2 918.2C198.9 912.5 199.9 915.5 201.0 907.9C202.2 900.4 204.0 877.3 205.2 872.8C206.4 868.4 208.3 881.1 208.3 881.1C208.3 881.1 209.7 868.7 210.8 870.8C211.8 872.8 213.2 889.5 214.5 893.5C215.8 897.4 217.2 897.6 218.6 894.5C220.0 891.4 221.6 876.1 222.7 874.9C223.8 873.7 224.5 880.4 225.1 887.3C225.8 894.2 226.4 916.2 226.4 916.2C226.4 916.2 227.0 903.0 227.7 898.9C228.5 894.7 229.8 888.7 231.0 891.4C232.2 894.1 233.7 910.5 235.1 915.2C236.5 919.8 238.1 925.2 239.3 919.3C240.5 913.5 241.3 884.4 242.4 880.1C243.4 875.7 245.0 886.0 245.8 893.4C246.6 900.8 247.1 924.5 247.1 924.5C247.1 924.5 247.5 901.3 248.4 894.1C249.3 886.9 251.1 881.2 252.7 881.1C254.3 881.0 256.1 889.7 257.8 893.5C259.6 897.3 263.0 903.8 263.0 903.8C263.0 903.8 266.0 879.7 267.1 878.0C268.3 876.3 269.3 884.9 270.0 893.5C270.7 902.1 271.3 929.6 271.3 929.6C271.3 929.6 271.9 917.0 272.6 913.0C273.3 909.0 274.1 910.0 275.4 905.9C276.7 901.8 278.8 887.6 280.6 888.3C282.3 889.0 284.2 905.6 285.7 910.0C287.2 914.4 288.7 912.1 289.6 914.7C290.5 917.2 290.9 925.5 290.9 925.5C290.9 925.5 291.7 905.7 292.2 899.5C292.7 893.3 292.3 890.9 294.0 888.3C295.7 885.8 299.5 878.5 302.3 884.2C305.0 889.9 308.3 915.9 310.5 922.4C312.8 928.9 314.1 929.1 315.7 923.4C317.2 917.8 318.4 890.6 319.8 888.3C321.2 886.1 322.6 904.0 323.9 910.0C325.3 916.0 326.9 916.3 327.8 924.3C328.7 932.2 329.1 957.5 329.1 957.5C329.1 957.5 329.9 922.8 330.4 912.0C330.9 901.1 331.6 893.5 332.2 892.5C332.8 891.4 333.5 898.4 334.0 905.8C334.5 913.2 335.3 936.9 335.3 936.9C335.3 936.9 335.9 922.5 336.6 918.1C337.3 913.6 338.3 916.5 339.4 910.0C340.6 903.5 341.7 882.4 343.6 879.0C345.4 875.6 349.1 883.7 350.5 889.6C351.9 895.4 351.8 914.1 351.8 914.1C351.8 914.1 352.4 896.5 353.1 891.0C353.8 885.5 354.5 879.0 356.0 881.1C357.5 883.2 360.5 896.6 362.2 903.8C363.8 911.0 364.8 912.9 365.6 924.3C366.4 935.6 366.9 972.0 366.9 972.0C366.9 972.0 366.9 924.6 368.2 909.8C369.5 895.0 372.6 885.2 374.5 883.2C376.5 881.1 378.0 893.5 379.7 897.6C381.4 901.7 384.9 907.9 384.9 907.9C384.9 907.9 387.5 896.6 389.0 893.5C390.5 890.4 392.6 887.9 393.8 889.4C394.9 890.8 395.4 895.0 396.0 902.1C396.6 909.1 397.3 931.7 397.3 931.7C397.3 931.7 397.2 905.8 398.6 897.7C399.9 889.6 403.7 880.1 405.5 883.2C407.4 886.2 408.5 910.0 409.7 916.2C410.8 922.4 411.8 918.1 412.5 920.5C413.2 923.0 413.8 930.7 413.8 930.7C413.8 930.7 414.4 914.1 415.1 909.0C415.8 903.8 417.1 899.8 417.9 899.7C418.7 899.6 419.2 903.5 419.7 908.4C420.2 913.2 421.0 928.6 421.0 928.6C421.0 928.6 420.9 918.1 422.3 914.9C423.7 911.6 427.8 907.9 429.3 909.0C430.7 910.0 430.6 914.3 431.1 921.1C431.6 927.8 432.4 949.3 432.4 949.3C432.4 949.3 433.0 916.2 433.7 905.9C434.4 895.6 435.2 889.0 436.5 887.3C437.8 885.6 440.3 891.7 441.7 895.6C443.0 899.4 443.8 902.0 444.5 910.1C445.2 918.2 445.8 944.1 445.8 944.1C445.8 944.1 446.2 913.8 447.1 904.3C448.0 894.9 449.5 887.4 451.0 887.3C452.5 887.2 454.6 898.9 456.1 903.8C457.6 908.7 459.1 909.6 460.0 916.8C460.9 924.1 461.3 947.2 461.3 947.2C461.3 947.2 461.9 920.8 462.6 912.5C463.3 904.2 464.5 896.8 465.4 897.6C466.4 898.4 467.6 906.3 468.2 917.1C468.9 928.0 469.5 962.7 469.5 962.7C469.5 962.7 470.4 937.9 470.8 930.2C471.3 922.4 471.6 912.5 472.2 916.2C472.9 919.9 474.9 952.4 474.9 952.4C474.9 952.4 476.6 926.7 477.4 927.6C478.2 928.4 479.5 957.5 479.5 957.5C479.5 957.5 481.4 925.2 482.6 918.3C483.8 911.4 485.3 919.0 486.7 916.2C488.1 913.5 489.3 904.7 490.8 901.7C492.4 898.8 494.6 898.0 496.0 898.7C497.4 899.3 498.3 901.9 499.1 905.9C499.9 909.8 500.4 913.2 500.9 922.3C501.4 931.4 502.2 960.6 502.2 960.6C502.2 960.6 502.8 943.5 503.5 938.2C504.2 932.9 505.1 931.6 506.3 928.6C507.5 925.6 509.1 925.7 510.4 920.3C511.8 915.0 513.4 899.7 514.6 896.6C515.8 893.5 516.6 902.8 517.7 901.7C518.7 900.7 519.8 890.3 520.8 890.4C521.8 890.5 522.9 895.8 523.6 902.5C524.3 909.2 524.9 930.7 524.9 930.7C524.9 930.7 525.7 910.8 526.2 904.6C526.7 898.4 526.8 895.0 528.0 893.5C529.2 892.0 531.9 893.5 533.2 895.6C534.4 897.6 535.0 900.1 535.6 905.8C536.2 911.5 536.9 929.6 536.9 929.6C536.9 929.6 537.4 915.9 538.2 911.6C538.9 907.3 540.2 903.4 541.4 903.8C542.7 904.2 544.5 909.2 545.6 914.1C546.6 919.1 547.2 922.7 547.8 933.4C548.4 944.0 549.1 978.2 549.1 978.2C549.1 978.2 549.7 955.0 550.4 947.8C551.0 940.6 551.5 940.2 552.8 934.8C554.0 929.4 556.8 917.4 557.9 915.2C559.1 913.0 559.2 918.1 559.7 921.7C560.3 925.3 561.0 936.9 561.0 936.9C561.0 936.9 561.5 928.1 562.3 925.3C563.2 922.5 565.0 923.1 566.2 920.3C567.4 917.6 568.2 909.0 569.3 909.0C570.4 909.0 572.8 920.3 572.8 920.3C572.8 920.3 575.5 897.0 576.5 894.5C577.6 892.0 578.3 899.3 579.0 905.4C579.6 911.4 580.3 930.7 580.3 930.7C580.3 930.7 581.0 910.8 581.6 904.6C582.1 898.4 582.4 896.9 583.8 893.5C585.2 890.1 588.1 882.8 590.0 884.2C591.9 885.6 594.0 896.8 595.1 901.7C596.3 906.7 596.4 907.3 596.9 914.1C597.4 921.0 598.2 943.1 598.2 943.1C598.2 943.1 599.0 924.3 599.5 918.5C600.0 912.6 600.2 908.7 601.3 907.9C602.4 907.2 605.2 910.6 606.2 913.8C607.3 917.1 607.5 927.6 607.5 927.6C607.5 927.6 607.8 908.3 608.8 902.3C609.9 896.2 612.3 892.6 613.7 891.4C615.2 890.2 616.7 893.1 617.6 895.1C618.4 897.2 618.9 903.8 618.9 903.8C618.9 903.8 619.1 895.6 620.2 893.0C621.2 890.4 623.4 886.9 625.1 888.3C626.8 889.8 628.3 898.1 630.2 901.7C632.1 905.4 634.8 906.2 636.4 910.0C638.1 913.9 639.4 916.6 640.3 924.9C641.2 933.1 641.6 959.6 641.6 959.6C641.6 959.6 642.2 928.7 642.9 919.1C643.6 909.5 644.2 906.2 645.7 901.7C647.2 897.3 650.4 888.2 651.9 892.5C653.5 896.8 653.6 919.8 655.0 927.6C656.4 935.3 658.6 935.5 660.2 938.9C661.7 942.4 664.3 948.2 664.3 948.2C664.3 948.2 667.6 918.3 669.5 912.1C671.4 905.9 673.6 912.9 675.7 911.0C677.7 909.2 679.3 898.3 681.9 900.7C684.5 903.1 691.2 925.5 691.2 925.5C691.2 925.5 696.2 919.5 698.4 914.1C700.6 908.8 702.4 894.7 704.6 893.5C706.8 892.3 710.2 899.5 711.6 907.1C712.9 914.7 712.9 938.9 712.9 938.9C712.9 938.9 713.5 919.7 714.2 913.6C714.8 907.6 716.1 902.7 717.0 902.8C717.9 902.8 718.8 907.7 719.4 913.9C720.0 920.1 720.7 940.0 720.7 940.0C720.7 940.0 721.4 926.2 722.0 921.9C722.6 917.6 723.2 914.1 724.2 914.1C725.3 914.2 726.8 920.0 728.3 922.4C729.9 924.8 731.6 928.9 733.5 928.6C735.4 928.3 738.2 919.5 739.7 920.3C741.2 921.1 741.9 926.1 742.5 933.4C743.2 940.6 743.8 963.7 743.8 963.7C743.8 963.7 744.3 936.2 745.1 927.6C746.0 919.0 747.5 916.0 749.0 912.1C750.5 908.1 751.9 906.7 754.2 903.8C756.4 900.9 759.7 895.6 762.4 894.5C765.2 893.5 768.7 895.8 770.7 897.6C772.7 899.4 773.7 901.1 774.6 905.4C775.4 909.7 775.9 923.4 775.9 923.4C775.9 923.4 775.8 911.3 777.2 907.5C778.5 903.7 782.0 900.5 784.1 900.7C786.3 900.9 788.8 904.3 790.0 908.8C791.3 913.2 791.3 927.6 791.3 927.6C791.3 927.6 791.6 908.8 792.6 903.0C793.7 897.1 795.7 891.9 797.5 892.5C799.3 893.0 802.3 898.5 803.5 906.1C804.7 913.7 804.8 937.9 804.8 937.9C804.8 937.9 805.2 923.0 806.1 918.4C806.9 913.7 808.3 911.1 809.9 910.0C811.6 909.0 814.1 911.4 816.1 912.1C818.2 912.8 820.2 911.6 822.3 914.1C824.5 916.7 827.8 925.3 828.9 927.6" fill="none" stroke="#0000ff" stroke-width="3.6" stroke-linejoin="round"/>
<path clip-path="url(#cC1)" d="M110.2 864.6C110.5 863.7 111.5 859.1 112.2 859.4C112.9 859.7 113.9 862.6 114.4 866.5C115.0 870.5 115.7 883.2 115.7 883.2C115.7 883.2 116.4 870.5 117.0 866.5C117.7 862.6 119.2 858.4 119.9 859.4C120.6 860.4 120.8 865.3 121.3 872.7C121.7 880.1 122.6 903.8 122.6 903.8C122.6 903.8 123.3 885.6 123.9 880.0C124.4 874.3 124.8 865.4 125.7 869.7C126.5 874.1 128.8 905.9 128.8 905.9C128.8 905.9 130.2 886.9 130.8 885.2C131.4 883.5 131.8 889.9 132.2 895.8C132.7 901.6 133.5 920.3 133.5 920.3C133.5 920.3 134.2 896.1 134.8 888.5C135.4 881.0 136.0 875.1 137.0 874.9C138.1 874.7 139.9 884.2 141.1 887.3C142.4 890.4 143.0 897.6 144.2 893.5C145.4 889.4 147.4 865.4 148.4 862.5C149.4 859.6 149.7 868.6 150.2 876.1C150.7 883.7 151.5 907.9 151.5 907.9C151.5 907.9 152.3 894.7 152.8 890.6C153.3 886.5 154.0 883.0 154.6 883.2C155.2 883.3 155.9 886.9 156.4 891.5C156.9 896.2 157.7 911.0 157.7 911.0C157.7 911.0 158.5 891.8 159.0 885.7C159.4 879.7 159.4 873.1 160.4 874.9C161.3 876.7 163.6 892.6 164.9 896.6C166.2 900.5 166.8 901.7 168.0 898.7C169.2 895.6 170.7 880.7 172.1 878.0C173.5 875.3 175.5 880.1 176.4 882.6C177.3 885.2 177.7 893.5 177.7 893.5C177.7 893.5 178.3 879.2 179.0 874.7C179.7 870.2 180.7 866.3 181.8 866.6C182.9 867.0 184.2 873.2 185.6 877.0C186.9 880.8 188.5 888.3 189.7 889.4C190.9 890.4 191.8 881.3 192.8 883.2C193.8 885.1 194.9 891.0 195.6 900.8C196.3 910.6 196.9 942.0 196.9 942.0C196.9 942.0 197.5 923.9 198.2 918.2C198.9 912.5 199.9 915.5 201.0 907.9C202.2 900.4 204.0 877.3 205.2 872.8C206.4 868.4 208.3 881.1 208.3 881.1C208.3 881.1 209.7 868.7 210.8 870.8C211.8 872.8 213.2 889.5 214.5 893.5C215.8 897.4 217.2 897.6 218.6 894.5C220.0 891.4 221.6 876.1 222.7 874.9C223.8 873.7 224.5 880.4 225.1 887.3C225.8 894.2 226.4 916.2 226.4 916.2C226.4 916.2 227.0 903.0 227.7 898.9C228.5 894.7 229.8 888.7 231.0 891.4C232.2 894.1 233.7 910.5 235.1 915.2C236.5 919.8 238.1 925.2 239.3 919.3C240.5 913.5 241.3 884.4 242.4 880.1C243.4 875.7 245.0 886.0 245.8 893.4C246.6 900.8 247.1 924.5 247.1 924.5C247.1 924.5 247.5 901.3 248.4 894.1C249.3 886.9 251.1 881.2 252.7 881.1C254.3 881.0 256.1 889.7 257.8 893.5C259.6 897.3 263.0 903.8 263.0 903.8C263.0 903.8 266.0 879.7 267.1 878.0C268.3 876.3 269.3 884.9 270.0 893.5C270.7 902.1 271.3 929.6 271.3 929.6C271.3 929.6 271.9 917.0 272.6 913.0C273.3 909.0 274.1 910.0 275.4 905.9C276.7 901.8 278.8 887.6 280.6 888.3C282.3 889.0 284.2 905.6 285.7 910.0C287.2 914.4 288.7 912.1 289.6 914.7C290.5 917.2 290.9 925.5 290.9 925.5C290.9 925.5 291.7 905.7 292.2 899.5C292.7 893.3 292.3 890.9 294.0 888.3C295.7 885.8 299.5 878.5 302.3 884.2C305.0 889.9 308.3 915.9 310.5 922.4C312.8 928.9 314.1 929.1 315.7 923.4C317.2 917.8 318.4 890.6 319.8 888.3C321.2 886.1 322.6 904.0 323.9 910.0C325.3 916.0 326.9 916.3 327.8 924.3C328.7 932.2 329.1 957.5 329.1 957.5C329.1 957.5 329.9 922.8 330.4 912.0C330.9 901.1 331.6 893.5 332.2 892.5C332.8 891.4 333.5 898.4 334.0 905.8C334.5 913.2 335.3 936.9 335.3 936.9C335.3 936.9 335.9 922.5 336.6 918.1C337.3 913.6 338.3 916.5 339.4 910.0C340.6 903.5 341.7 882.4 343.6 879.0C345.4 875.6 349.1 883.7 350.5 889.6C351.9 895.4 351.8 914.1 351.8 914.1C351.8 914.1 352.4 896.5 353.1 891.0C353.8 885.5 354.5 879.0 356.0 881.1C357.5 883.2 360.5 896.6 362.2 903.8C363.8 911.0 364.8 912.9 365.6 924.3C366.4 935.6 366.9 972.0 366.9 972.0C366.9 972.0 366.9 924.6 368.2 909.8C369.5 895.0 372.6 885.2 374.5 883.2C376.5 881.1 378.0 893.5 379.7 897.6C381.4 901.7 384.9 907.9 384.9 907.9C384.9 907.9 387.5 896.6 389.0 893.5C390.5 890.4 392.6 887.9 393.8 889.4C394.9 890.8 395.4 895.0 396.0 902.1C396.6 909.1 397.3 931.7 397.3 931.7C397.3 931.7 397.2 905.8 398.6 897.7C399.9 889.6 403.7 880.1 405.5 883.2C407.4 886.2 408.5 910.0 409.7 916.2C410.8 922.4 411.8 918.1 412.5 920.5C413.2 923.0 413.8 930.7 413.8 930.7C413.8 930.7 414.4 914.1 415.1 909.0C415.8 903.8 417.1 899.8 417.9 899.7C418.7 899.6 419.2 903.5 419.7 908.4C420.2 913.2 421.0 928.6 421.0 928.6C421.0 928.6 420.9 918.1 422.3 914.9C423.7 911.6 427.8 907.9 429.3 909.0C430.7 910.0 430.6 914.3 431.1 921.1C431.6 927.8 432.4 949.3 432.4 949.3C432.4 949.3 433.0 916.2 433.7 905.9C434.4 895.6 435.2 889.0 436.5 887.3C437.8 885.6 440.3 891.7 441.7 895.6C443.0 899.4 443.8 902.0 444.5 910.1C445.2 918.2 445.8 944.1 445.8 944.1C445.8 944.1 446.2 913.8 447.1 904.3C448.0 894.9 449.5 887.4 451.0 887.3C452.5 887.2 454.6 898.9 456.1 903.8C457.6 908.7 459.1 909.6 460.0 916.8C460.9 924.1 461.3 947.2 461.3 947.2C461.3 947.2 461.9 920.8 462.6 912.5C463.3 904.2 464.5 896.8 465.4 897.6C466.4 898.4 467.6 906.3 468.2 917.1C468.9 928.0 469.5 962.7 469.5 962.7C469.5 962.7 470.4 937.9 470.8 930.2C471.3 922.4 471.6 912.5 472.2 916.2C472.9 919.9 474.9 952.4 474.9 952.4C474.9 952.4 476.6 926.7 477.4 927.6C478.2 928.4 479.5 957.5 479.5 957.5C479.5 957.5 481.4 925.2 482.6 918.3C483.8 911.4 485.3 919.0 486.7 916.2C488.1 913.5 489.3 904.7 490.8 901.7C492.4 898.8 494.6 898.0 496.0 898.7C497.4 899.3 498.3 901.9 499.1 905.9C499.9 909.8 500.4 913.2 500.9 922.3C501.4 931.4 502.2 960.6 502.2 960.6C502.2 960.6 502.8 943.5 503.5 938.2C504.2 932.9 505.1 931.6 506.3 928.6C507.5 925.6 509.1 925.7 510.4 920.3C511.8 915.0 513.4 899.7 514.6 896.6C515.8 893.5 516.6 902.8 517.7 901.7C518.7 900.7 519.8 890.3 520.8 890.4C521.8 890.5 522.9 895.8 523.6 902.5C524.3 909.2 524.9 930.7 524.9 930.7C524.9 930.7 525.7 910.8 526.2 904.6C526.7 898.4 526.8 895.0 528.0 893.5C529.2 892.0 531.9 893.5 533.2 895.6C534.4 897.6 535.0 900.1 535.6 905.8C536.2 911.5 536.9 929.6 536.9 929.6C536.9 929.6 537.4 915.9 538.2 911.6C538.9 907.3 540.2 903.4 541.4 903.8C542.7 904.2 544.5 909.2 545.6 914.1C546.6 919.1 547.2 922.7 547.8 933.4C548.4 944.0 549.1 978.2 549.1 978.2C549.1 978.2 549.7 955.0 550.4 947.8C551.0 940.6 551.5 940.2 552.8 934.8C554.0 929.4 556.8 917.4 557.9 915.2C559.1 913.0 559.2 918.1 559.7 921.7C560.3 925.3 561.0 936.9 561.0 936.9C561.0 936.9 561.5 928.1 562.3 925.3C563.2 922.5 565.0 923.1 566.2 920.3C567.4 917.6 568.2 909.0 569.3 909.0C570.4 909.0 572.8 920.3 572.8 920.3C572.8 920.3 575.5 897.0 576.5 894.5C577.6 892.0 578.3 899.3 579.0 905.4C579.6 911.4 580.3 930.7 580.3 930.7C580.3 930.7 581.0 910.8 581.6 904.6C582.1 898.4 582.4 896.9 583.8 893.5C585.2 890.1 588.1 882.8 590.0 884.2C591.9 885.6 594.0 894.7 595.1 901.7C596.3 908.8 596.4 912.6 596.9 926.2C597.4 939.8 598.2 983.3 598.2 983.3C598.2 983.3 599.0 943.1 599.5 930.6C600.0 918.0 600.2 910.7 601.3 907.9C602.4 905.2 605.2 910.6 606.2 913.8C607.3 917.1 607.5 927.6 607.5 927.6C607.5 927.6 607.8 908.3 608.8 902.3C609.9 896.2 612.3 892.6 613.7 891.4C615.2 890.2 616.7 893.1 617.6 895.1C618.4 897.2 618.9 903.8 618.9 903.8C618.9 903.8 619.1 895.6 620.2 893.0C621.2 890.4 623.4 886.9 625.1 888.3C626.8 889.8 628.3 898.1 630.2 901.7C632.1 905.4 634.8 904.8 636.4 910.0C638.1 915.3 639.4 920.3 640.3 933.3C641.2 946.2 641.6 987.5 641.6 987.5C641.6 987.5 642.2 941.8 642.9 927.5C643.6 913.2 644.2 907.6 645.7 901.7C647.2 895.9 650.4 888.2 651.9 892.5C653.5 896.8 653.6 919.8 655.0 927.6C656.4 935.3 658.6 935.5 660.2 938.9C661.7 942.4 664.3 948.2 664.3 948.2C664.3 948.2 667.6 918.3 669.5 912.1C671.4 905.9 673.6 912.9 675.7 911.0C677.7 909.2 679.3 898.3 681.9 900.7C684.5 903.1 691.2 925.5 691.2 925.5C691.2 925.5 696.2 919.5 698.4 914.1C700.6 908.8 702.4 894.7 704.6 893.5C706.8 892.3 710.2 899.5 711.6 907.1C712.9 914.7 712.9 938.9 712.9 938.9C712.9 938.9 713.5 919.7 714.2 913.6C714.8 907.6 716.1 902.7 717.0 902.8C717.9 902.8 718.8 907.7 719.4 913.9C720.0 920.1 720.7 940.0 720.7 940.0C720.7 940.0 721.4 926.2 722.0 921.9C722.6 917.6 723.2 914.1 724.2 914.1C725.3 914.2 726.8 920.0 728.3 922.4C729.9 924.8 731.6 928.9 733.5 928.6C735.4 928.3 738.2 919.5 739.7 920.3C741.2 921.1 741.9 926.1 742.5 933.4C743.2 940.6 743.8 963.7 743.8 963.7C743.8 963.7 744.3 936.2 745.1 927.6C746.0 919.0 747.5 916.0 749.0 912.1C750.5 908.1 751.9 906.7 754.2 903.8C756.4 900.9 759.7 895.6 762.4 894.5C765.2 893.5 768.7 895.8 770.7 897.6C772.7 899.4 773.7 901.1 774.6 905.4C775.4 909.7 775.9 923.4 775.9 923.4C775.9 923.4 775.8 911.3 777.2 907.5C778.5 903.7 782.0 900.5 784.1 900.7C786.3 900.9 788.8 904.3 790.0 908.8C791.3 913.2 791.3 927.6 791.3 927.6C791.3 927.6 791.6 908.8 792.6 903.0C793.7 897.1 795.7 891.9 797.5 892.5C799.3 893.0 802.3 898.5 803.5 906.1C804.7 913.7 804.8 937.9 804.8 937.9C804.8 937.9 805.2 923.0 806.1 918.4C806.9 913.7 808.3 911.1 809.9 910.0C811.6 909.0 814.1 911.4 816.1 912.1C818.2 912.8 820.2 911.6 822.3 914.1C824.5 916.7 827.8 925.3 828.9 927.6" fill="none" stroke="#ff0000" stroke-width="2.9" stroke-linejoin="round" stroke-dasharray="16 10"/>
<path d="M224.9 1019.1V1010.1M224.9 819.0V828.0M375.8 1019.1V1010.1M375.8 819.0V828.0M526.7 1019.1V1010.1M526.7 819.0V828.0M677.6 1019.1V1010.1M677.6 819.0V828.0M111.4 868.7H120.4M829.3 868.7H820.3M111.4 993.5H120.4M829.3 993.5H820.3" stroke="#000" stroke-width="1.9" fill="none"/>
<rect x="111.4" y="819.0" width="717.9" height="200.1" fill="none" stroke="#000" stroke-width="1.9"/>
<g font-size="37"><text x="224.9" y="1064.3" text-anchor="middle">2</text><text x="375.8" y="1064.3" text-anchor="middle">4</text><text x="526.7" y="1064.3" text-anchor="middle">6</text><text x="677.6" y="1064.3" text-anchor="middle">8</text><text x="828.5" y="1064.3" text-anchor="middle">10</text><text x="98.4" y="881.5" text-anchor="end">50</text><text x="98.4" y="1006.3" text-anchor="end">100</text></g>
<line x1="648.8" y1="836.1" x2="715.6" y2="836.1" stroke="#0000ff" stroke-width="3.2"/>
<line x1="647.3" y1="870.4" x2="717.1" y2="870.4" stroke="#dd0000" stroke-width="2.6" stroke-dasharray="16.5 10.5"/>
<g font-size="27.2"><text x="722.8" y="845.1">Bellhop</text><text x="722.8" y="879.5">Scooter</text></g>
<line x1="223.0" y1="1096.4" x2="223.0" y2="1297.5" stroke="#dcdcdc" stroke-width="1.1"/>
<line x1="373.9" y1="1096.4" x2="373.9" y2="1297.5" stroke="#dcdcdc" stroke-width="1.1"/>
<line x1="524.9" y1="1096.4" x2="524.9" y2="1297.5" stroke="#dcdcdc" stroke-width="1.1"/>
<line x1="675.8" y1="1096.4" x2="675.8" y2="1297.5" stroke="#dcdcdc" stroke-width="1.1"/>
<line x1="110.2" y1="1145.8" x2="828.4" y2="1145.8" stroke="#dcdcdc" stroke-width="1.1"/>
<line x1="110.2" y1="1271.8" x2="828.4" y2="1271.8" stroke="#dcdcdc" stroke-width="1.1"/>
<clipPath id="cC2"><rect x="110.2" y="1096.4" width="718.2" height="201.1"/></clipPath>
<path clip-path="url(#cC2)" d="M109.1 1144.7C109.5 1143.2 110.6 1135.8 111.2 1135.4C111.8 1135.1 112.5 1138.7 113.0 1142.9C113.5 1147.0 114.3 1160.2 114.3 1160.2C114.3 1160.2 114.9 1147.6 115.6 1143.6C116.3 1139.6 117.7 1135.5 118.4 1136.5C119.2 1137.4 119.7 1142.1 120.2 1149.2C120.7 1156.2 121.5 1178.8 121.5 1178.8C121.5 1178.8 122.3 1161.2 122.8 1155.7C123.3 1150.2 123.9 1141.6 124.6 1145.8C125.4 1150.0 127.3 1180.9 127.3 1180.9C127.3 1180.9 129.0 1158.3 129.8 1160.2C130.5 1162.1 131.9 1192.2 131.9 1192.2C131.9 1192.2 134.4 1157.3 135.6 1152.0C136.8 1146.6 138.1 1158.2 139.1 1160.2C140.0 1162.2 140.7 1161.9 141.3 1163.9C141.9 1166.0 142.6 1172.6 142.6 1172.6C142.6 1172.6 143.1 1155.0 143.9 1149.5C144.7 1144.0 146.5 1137.8 147.3 1139.6C148.2 1141.4 148.6 1148.8 149.1 1160.3C149.7 1171.9 150.4 1208.8 150.4 1208.8C150.4 1208.8 151.1 1182.9 151.7 1174.8C152.4 1166.7 153.9 1158.5 154.6 1160.2C155.2 1161.9 155.6 1185.0 155.6 1185.0C155.6 1185.0 157.7 1154.2 159.1 1152.0C160.5 1149.7 162.6 1167.8 163.9 1171.6C165.2 1175.4 165.8 1178.0 167.0 1174.7C168.2 1171.4 169.8 1154.8 171.1 1152.0C172.4 1149.2 174.1 1154.6 175.0 1157.9C175.8 1161.1 176.3 1171.6 176.3 1171.6C176.3 1171.6 176.9 1155.1 177.6 1149.9C178.2 1144.7 179.1 1139.6 180.4 1140.6C181.7 1141.6 183.7 1152.7 185.6 1156.1C187.4 1159.5 190.2 1157.8 191.7 1161.3C193.3 1164.8 193.9 1168.3 194.6 1177.1C195.3 1185.8 195.9 1213.9 195.9 1213.9C195.9 1213.9 196.5 1197.4 197.2 1192.2C197.9 1187.1 198.9 1190.2 200.0 1182.9C201.1 1175.7 202.4 1154.0 203.7 1148.9C205.1 1143.7 206.8 1148.5 208.3 1152.0C209.7 1155.4 212.4 1169.5 212.4 1169.5C212.4 1169.5 215.2 1161.4 216.5 1158.2C217.9 1154.9 219.6 1149.1 220.7 1149.9C221.8 1150.7 222.5 1155.8 223.1 1163.2C223.7 1170.6 224.4 1194.3 224.4 1194.3C224.4 1194.3 224.9 1178.9 225.7 1174.1C226.4 1169.2 227.5 1162.7 228.9 1165.4C230.3 1168.1 232.7 1185.7 234.1 1190.2C235.5 1194.7 236.0 1197.9 237.2 1192.2C238.4 1186.6 240.1 1159.6 241.3 1156.1C242.6 1152.5 243.8 1162.7 244.6 1171.0C245.3 1179.2 245.9 1205.7 245.9 1205.7C245.9 1205.7 246.2 1179.8 247.2 1171.7C248.1 1163.6 250.0 1157.5 251.6 1157.1C253.3 1156.8 255.1 1166.3 256.8 1169.5C258.5 1172.8 262.0 1176.7 262.0 1176.7C262.0 1176.7 264.7 1155.7 265.7 1155.1C266.7 1154.4 267.3 1162.9 267.9 1172.7C268.5 1182.5 269.2 1213.9 269.2 1213.9C269.2 1213.9 269.6 1197.4 270.5 1192.2C271.4 1187.1 273.0 1187.8 274.4 1182.9C275.7 1178.1 277.0 1162.6 278.5 1163.3C280.0 1164.0 282.2 1182.3 283.7 1187.1C285.1 1191.9 286.3 1189.3 287.1 1192.0C287.9 1194.8 288.4 1203.6 288.4 1203.6C288.4 1203.6 289.0 1182.1 289.7 1175.4C290.5 1168.7 291.0 1165.7 293.0 1163.3C294.9 1161.0 298.6 1155.2 301.2 1161.3C303.8 1167.3 306.4 1193.3 308.4 1199.5C310.5 1205.7 311.9 1204.3 313.6 1198.4C315.3 1192.6 317.1 1166.6 318.8 1164.4C320.5 1162.1 322.7 1179.2 323.9 1185.0C325.2 1190.8 325.7 1191.3 326.4 1199.3C327.0 1207.2 327.7 1232.5 327.7 1232.5C327.7 1232.5 328.2 1197.8 329.0 1187.0C329.7 1176.1 331.3 1163.7 332.2 1167.5C333.1 1171.3 334.3 1209.8 334.3 1209.8C334.3 1209.8 337.1 1190.0 338.4 1180.9C339.7 1171.8 340.4 1157.6 342.1 1155.1C343.8 1152.6 347.2 1159.9 348.5 1165.9C349.7 1171.9 349.8 1191.2 349.8 1191.2C349.8 1191.2 350.4 1173.0 351.1 1167.4C351.7 1161.7 352.2 1154.9 353.9 1157.1C355.6 1159.4 359.4 1174.7 361.1 1180.9C362.9 1187.1 363.6 1186.8 364.4 1194.2C365.1 1201.6 365.7 1225.3 365.7 1225.3C365.7 1225.3 365.7 1190.0 367.0 1179.0C368.3 1168.0 371.1 1161.4 373.5 1159.2C375.9 1157.0 380.0 1162.1 381.5 1165.7C383.1 1169.3 382.8 1180.9 382.8 1180.9C382.8 1180.9 383.4 1173.7 384.1 1171.5C384.8 1169.2 385.8 1166.6 386.9 1167.5C388.1 1168.3 389.8 1173.5 391.1 1176.7C392.3 1180.0 393.7 1181.2 394.5 1186.7C395.3 1192.2 395.8 1209.8 395.8 1209.8C395.8 1209.8 395.7 1182.8 397.1 1174.4C398.6 1165.9 402.2 1159.2 404.5 1159.2C406.8 1159.1 409.7 1165.8 411.0 1174.1C412.4 1182.3 412.3 1208.8 412.3 1208.8C412.3 1208.8 413.1 1191.7 413.6 1186.4C414.2 1181.0 415.0 1177.0 415.9 1176.7C416.7 1176.5 418.0 1180.3 418.7 1184.8C419.4 1189.3 420.0 1203.6 420.0 1203.6C420.0 1203.6 420.1 1194.8 421.3 1192.0C422.5 1189.3 425.9 1185.8 427.2 1187.1C428.5 1188.4 428.5 1192.7 429.0 1199.8C429.5 1206.8 430.3 1229.4 430.3 1229.4C430.3 1229.4 430.8 1194.7 431.6 1183.9C432.5 1173.0 434.0 1166.6 435.5 1164.4C437.0 1162.1 439.3 1166.7 440.6 1170.6C442.0 1174.4 442.8 1178.0 443.5 1187.3C444.2 1196.6 444.8 1226.3 444.8 1226.3C444.8 1226.3 445.3 1192.7 446.1 1182.2C446.9 1171.7 448.2 1163.2 449.5 1163.3C450.9 1163.4 452.7 1177.9 454.1 1182.9C455.5 1188.0 457.1 1187.8 457.9 1193.8C458.8 1199.8 459.2 1219.1 459.2 1219.1C459.2 1219.1 459.7 1195.4 460.5 1188.0C461.4 1180.6 463.1 1166.7 464.4 1174.7C465.7 1182.6 468.5 1235.6 468.5 1235.6C468.5 1235.6 469.4 1193.1 470.2 1193.3C471.0 1193.4 473.3 1236.6 473.3 1236.6C473.3 1236.6 475.1 1209.3 475.7 1205.7C476.4 1202.1 476.7 1209.8 477.1 1215.0C477.6 1220.1 478.4 1236.6 478.4 1236.6C478.4 1236.6 479.2 1213.5 479.7 1206.3C480.2 1199.1 480.5 1196.5 481.5 1193.3C482.5 1190.1 483.6 1190.2 485.7 1187.1C487.7 1184.0 491.9 1175.0 493.9 1174.7C496.0 1174.3 497.1 1180.6 498.0 1185.0C499.0 1189.5 499.3 1192.3 499.8 1201.4C500.4 1210.6 501.1 1239.7 501.1 1239.7C501.1 1239.7 501.6 1220.5 502.4 1214.4C503.3 1208.4 505.0 1209.9 506.3 1203.6C507.6 1197.3 508.9 1182.1 510.4 1176.7C512.0 1171.4 514.1 1173.1 515.6 1171.6C517.2 1170.0 518.6 1166.2 519.7 1167.5C520.9 1168.7 521.9 1172.6 522.6 1178.9C523.3 1185.3 523.9 1205.7 523.9 1205.7C523.9 1205.7 524.6 1186.4 525.2 1180.4C525.7 1174.3 525.8 1170.8 527.0 1169.5C528.1 1168.2 530.9 1170.6 532.1 1172.6C533.4 1174.6 533.8 1176.6 534.3 1181.6C534.9 1186.6 535.6 1202.6 535.6 1202.6C535.6 1202.6 536.1 1191.0 536.9 1187.4C537.7 1183.8 539.3 1180.2 540.4 1180.9C541.5 1181.5 542.6 1186.3 543.5 1191.2C544.4 1196.1 545.3 1199.6 545.9 1210.1C546.5 1220.6 547.2 1254.2 547.2 1254.2C547.2 1254.2 547.7 1232.7 548.5 1226.0C549.3 1219.3 550.5 1219.4 551.7 1213.9C553.0 1208.5 554.7 1195.8 555.9 1193.3C557.0 1190.8 558.0 1195.8 558.7 1198.9C559.4 1201.9 560.0 1211.9 560.0 1211.9C560.0 1211.9 560.6 1204.2 561.3 1201.7C562.0 1199.3 563.0 1199.8 564.1 1197.4C565.3 1195.0 567.1 1187.4 568.3 1187.1C569.5 1186.7 571.4 1195.3 571.4 1195.3C571.4 1195.3 574.4 1173.9 575.5 1171.6C576.6 1169.2 577.1 1175.9 577.7 1181.2C578.3 1186.5 579.0 1203.6 579.0 1203.6C579.0 1203.6 579.7 1187.1 580.3 1181.9C580.9 1176.7 581.3 1176.2 582.7 1172.6C584.2 1169.0 587.0 1159.5 588.9 1160.2C590.8 1160.9 592.8 1164.7 594.1 1176.7C595.4 1188.8 596.6 1232.5 596.6 1232.5C596.6 1232.5 598.9 1190.2 600.3 1182.9C601.7 1175.7 604.2 1185.6 605.2 1188.8C606.2 1192.1 606.5 1202.6 606.5 1202.6C606.5 1202.6 606.8 1184.4 607.8 1178.7C608.8 1173.0 611.3 1169.6 612.7 1168.5C614.1 1167.4 615.3 1170.1 616.1 1172.2C616.9 1174.3 617.4 1180.9 617.4 1180.9C617.4 1180.9 617.8 1171.5 618.7 1168.6C619.7 1165.7 621.3 1161.6 623.0 1163.3C624.8 1165.0 627.0 1175.2 629.2 1178.8C631.4 1182.4 634.8 1182.1 636.4 1185.0C638.1 1187.9 638.6 1190.0 639.3 1196.2C640.0 1202.4 640.6 1222.2 640.6 1222.2C640.6 1222.2 641.2 1199.1 641.9 1191.8C642.6 1184.6 643.4 1182.7 644.7 1178.8C646.0 1174.9 648.3 1164.5 649.9 1168.5C651.4 1172.4 652.4 1195.0 654.0 1202.6C655.5 1210.1 657.8 1211.4 659.2 1213.9C660.6 1216.4 661.6 1215.6 662.4 1217.6C663.2 1219.7 663.7 1226.3 663.7 1226.3C663.7 1226.3 664.2 1205.4 665.0 1198.9C665.8 1192.3 667.0 1188.9 668.4 1187.1C669.9 1185.3 671.5 1189.8 673.6 1188.1C675.7 1186.4 678.1 1174.3 680.8 1176.7C683.6 1179.2 690.1 1202.6 690.1 1202.6C690.1 1202.6 694.1 1198.6 696.3 1193.3C698.6 1187.9 701.5 1169.2 703.6 1170.6C705.6 1171.9 707.2 1194.8 708.7 1201.5C710.3 1208.2 712.9 1210.8 712.9 1210.8C712.9 1210.8 715.1 1184.1 716.0 1180.9C716.8 1177.6 717.6 1185.6 718.2 1191.4C718.8 1197.3 719.5 1216.0 719.5 1216.0C719.5 1216.0 720.1 1201.7 720.8 1197.2C721.4 1192.7 722.1 1188.9 723.2 1189.1C724.3 1189.3 725.6 1196.2 727.3 1198.4C729.0 1200.7 731.6 1202.7 733.5 1202.6C735.4 1202.4 737.3 1195.5 738.7 1197.4C740.0 1199.3 740.8 1204.7 741.5 1213.8C742.2 1222.9 742.8 1252.1 742.8 1252.1C742.8 1252.1 743.2 1216.3 744.1 1205.2C745.0 1194.0 746.3 1189.4 748.0 1185.0C749.6 1180.6 751.8 1181.1 754.2 1178.8C756.6 1176.6 759.8 1172.4 762.4 1171.6C765.0 1170.7 767.8 1172.1 769.7 1173.7C771.5 1175.2 772.7 1177.0 773.5 1181.1C774.4 1185.2 774.8 1198.4 774.8 1198.4C774.8 1198.4 774.7 1188.0 776.1 1184.7C777.5 1181.4 780.9 1178.5 783.1 1178.8C785.2 1179.2 787.8 1182.4 789.0 1186.9C790.2 1191.3 790.3 1205.7 790.3 1205.7C790.3 1205.7 790.6 1185.3 791.6 1178.9C792.6 1172.6 794.7 1167.0 796.5 1167.5C798.3 1167.9 801.2 1173.8 802.4 1181.7C803.6 1189.6 803.7 1215.0 803.7 1215.0C803.7 1215.0 804.2 1200.1 805.0 1195.4C805.9 1190.8 807.1 1188.1 808.9 1187.1C810.8 1186.0 813.9 1188.5 816.1 1189.1C818.4 1189.8 820.3 1189.0 822.3 1191.2C824.4 1193.4 827.5 1200.7 828.5 1202.6" fill="none" stroke="#0000ff" stroke-width="3.6" stroke-linejoin="round"/>
<path clip-path="url(#cC2)" d="M109.1 1144.7C109.5 1143.2 110.6 1135.8 111.2 1135.4C111.8 1135.1 112.5 1138.7 113.0 1142.9C113.5 1147.0 114.3 1160.2 114.3 1160.2C114.3 1160.2 114.9 1147.6 115.6 1143.6C116.3 1139.6 117.7 1135.5 118.4 1136.5C119.2 1137.4 119.7 1142.1 120.2 1149.2C120.7 1156.2 121.5 1178.8 121.5 1178.8C121.5 1178.8 122.3 1161.2 122.8 1155.7C123.3 1150.2 123.9 1141.6 124.6 1145.8C125.4 1150.0 127.3 1180.9 127.3 1180.9C127.3 1180.9 129.0 1158.3 129.8 1160.2C130.5 1162.1 131.9 1192.2 131.9 1192.2C131.9 1192.2 134.4 1157.3 135.6 1152.0C136.8 1146.6 138.1 1158.2 139.1 1160.2C140.0 1162.2 140.7 1161.9 141.3 1163.9C141.9 1166.0 142.6 1172.6 142.6 1172.6C142.6 1172.6 143.1 1155.0 143.9 1149.5C144.7 1144.0 146.5 1137.8 147.3 1139.6C148.2 1141.4 148.6 1148.8 149.1 1160.3C149.7 1171.9 150.4 1208.8 150.4 1208.8C150.4 1208.8 151.1 1182.9 151.7 1174.8C152.4 1166.7 153.9 1158.5 154.6 1160.2C155.2 1161.9 155.6 1185.0 155.6 1185.0C155.6 1185.0 157.7 1154.2 159.1 1152.0C160.5 1149.7 162.6 1167.8 163.9 1171.6C165.2 1175.4 165.8 1178.0 167.0 1174.7C168.2 1171.4 169.8 1154.8 171.1 1152.0C172.4 1149.2 174.1 1154.6 175.0 1157.9C175.8 1161.1 176.3 1171.6 176.3 1171.6C176.3 1171.6 176.9 1155.1 177.6 1149.9C178.2 1144.7 179.1 1139.6 180.4 1140.6C181.7 1141.6 183.7 1152.7 185.6 1156.1C187.4 1159.5 190.2 1157.8 191.7 1161.3C193.3 1164.8 193.9 1168.3 194.6 1177.1C195.3 1185.8 195.9 1213.9 195.9 1213.9C195.9 1213.9 196.5 1197.4 197.2 1192.2C197.9 1187.1 198.9 1190.2 200.0 1182.9C201.1 1175.7 202.4 1154.0 203.7 1148.9C205.1 1143.7 206.8 1148.5 208.3 1152.0C209.7 1155.4 212.4 1169.5 212.4 1169.5C212.4 1169.5 215.2 1161.4 216.5 1158.2C217.9 1154.9 219.6 1149.1 220.7 1149.9C221.8 1150.7 222.5 1155.8 223.1 1163.2C223.7 1170.6 224.4 1194.3 224.4 1194.3C224.4 1194.3 224.9 1178.9 225.7 1174.1C226.4 1169.2 227.5 1162.7 228.9 1165.4C230.3 1168.1 232.7 1185.7 234.1 1190.2C235.5 1194.7 236.0 1197.9 237.2 1192.2C238.4 1186.6 240.1 1159.6 241.3 1156.1C242.6 1152.5 243.8 1162.7 244.6 1171.0C245.3 1179.2 245.9 1205.7 245.9 1205.7C245.9 1205.7 246.2 1179.8 247.2 1171.7C248.1 1163.6 250.0 1157.5 251.6 1157.1C253.3 1156.8 255.1 1166.3 256.8 1169.5C258.5 1172.8 262.0 1176.7 262.0 1176.7C262.0 1176.7 264.7 1155.7 265.7 1155.1C266.7 1154.4 267.3 1162.9 267.9 1172.7C268.5 1182.5 269.2 1213.9 269.2 1213.9C269.2 1213.9 269.6 1197.4 270.5 1192.2C271.4 1187.1 273.0 1187.8 274.4 1182.9C275.7 1178.1 277.0 1162.6 278.5 1163.3C280.0 1164.0 282.2 1182.3 283.7 1187.1C285.1 1191.9 286.3 1189.3 287.1 1192.0C287.9 1194.8 288.4 1203.6 288.4 1203.6C288.4 1203.6 289.0 1182.1 289.7 1175.4C290.5 1168.7 291.0 1165.7 293.0 1163.3C294.9 1161.0 298.6 1155.2 301.2 1161.3C303.8 1167.3 306.4 1193.3 308.4 1199.5C310.5 1205.7 311.9 1204.3 313.6 1198.4C315.3 1192.6 317.1 1166.6 318.8 1164.4C320.5 1162.1 322.7 1179.2 323.9 1185.0C325.2 1190.8 325.7 1191.3 326.4 1199.3C327.0 1207.2 327.7 1232.5 327.7 1232.5C327.7 1232.5 328.2 1197.8 329.0 1187.0C329.7 1176.1 331.3 1163.7 332.2 1167.5C333.1 1171.3 334.3 1209.8 334.3 1209.8C334.3 1209.8 337.1 1190.0 338.4 1180.9C339.7 1171.8 340.4 1157.6 342.1 1155.1C343.8 1152.6 347.2 1159.9 348.5 1165.9C349.7 1171.9 349.8 1191.2 349.8 1191.2C349.8 1191.2 350.4 1173.0 351.1 1167.4C351.7 1161.7 352.2 1154.9 353.9 1157.1C355.6 1159.4 359.4 1174.7 361.1 1180.9C362.9 1187.1 363.6 1186.8 364.4 1194.2C365.1 1201.6 365.7 1225.3 365.7 1225.3C365.7 1225.3 365.7 1190.0 367.0 1179.0C368.3 1168.0 371.1 1161.4 373.5 1159.2C375.9 1157.0 380.0 1162.1 381.5 1165.7C383.1 1169.3 382.8 1180.9 382.8 1180.9C382.8 1180.9 383.4 1173.7 384.1 1171.5C384.8 1169.2 385.8 1166.6 386.9 1167.5C388.1 1168.3 389.8 1173.5 391.1 1176.7C392.3 1180.0 393.7 1181.2 394.5 1186.7C395.3 1192.2 395.8 1209.8 395.8 1209.8C395.8 1209.8 395.7 1182.8 397.1 1174.4C398.6 1165.9 402.2 1159.2 404.5 1159.2C406.8 1159.1 409.7 1165.8 411.0 1174.1C412.4 1182.3 412.3 1208.8 412.3 1208.8C412.3 1208.8 413.1 1191.7 413.6 1186.4C414.2 1181.0 415.0 1177.0 415.9 1176.7C416.7 1176.5 418.0 1180.3 418.7 1184.8C419.4 1189.3 420.0 1203.6 420.0 1203.6C420.0 1203.6 420.1 1194.8 421.3 1192.0C422.5 1189.3 425.9 1185.8 427.2 1187.1C428.5 1188.4 428.5 1192.7 429.0 1199.8C429.5 1206.8 430.3 1229.4 430.3 1229.4C430.3 1229.4 430.8 1194.7 431.6 1183.9C432.5 1173.0 434.0 1166.6 435.5 1164.4C437.0 1162.1 439.3 1166.7 440.6 1170.6C442.0 1174.4 442.8 1178.0 443.5 1187.3C444.2 1196.6 444.8 1226.3 444.8 1226.3C444.8 1226.3 445.3 1192.7 446.1 1182.2C446.9 1171.7 448.2 1163.2 449.5 1163.3C450.9 1163.4 452.7 1177.9 454.1 1182.9C455.5 1188.0 457.1 1187.8 457.9 1193.8C458.8 1199.8 459.2 1219.1 459.2 1219.1C459.2 1219.1 459.7 1195.4 460.5 1188.0C461.4 1180.6 463.1 1166.7 464.4 1174.7C465.7 1182.6 468.5 1235.6 468.5 1235.6C468.5 1235.6 469.4 1193.1 470.2 1193.3C471.0 1193.4 473.3 1236.6 473.3 1236.6C473.3 1236.6 475.1 1209.3 475.7 1205.7C476.4 1202.1 476.7 1209.8 477.1 1215.0C477.6 1220.1 478.4 1236.6 478.4 1236.6C478.4 1236.6 479.2 1213.5 479.7 1206.3C480.2 1199.1 480.5 1196.5 481.5 1193.3C482.5 1190.1 483.6 1190.2 485.7 1187.1C487.7 1184.0 491.9 1175.0 493.9 1174.7C496.0 1174.3 497.1 1180.6 498.0 1185.0C499.0 1189.5 499.3 1192.3 499.8 1201.4C500.4 1210.6 501.1 1239.7 501.1 1239.7C501.1 1239.7 501.6 1220.5 502.4 1214.4C503.3 1208.4 505.0 1209.9 506.3 1203.6C507.6 1197.3 508.9 1182.1 510.4 1176.7C512.0 1171.4 514.1 1173.1 515.6 1171.6C517.2 1170.0 518.6 1166.2 519.7 1167.5C520.9 1168.7 521.9 1172.6 522.6 1178.9C523.3 1185.3 523.9 1205.7 523.9 1205.7C523.9 1205.7 524.6 1186.4 525.2 1180.4C525.7 1174.3 525.8 1170.8 527.0 1169.5C528.1 1168.2 530.9 1170.6 532.1 1172.6C533.4 1174.6 533.8 1176.6 534.3 1181.6C534.9 1186.6 535.6 1202.6 535.6 1202.6C535.6 1202.6 536.1 1191.0 536.9 1187.4C537.7 1183.8 539.3 1180.2 540.4 1180.9C541.5 1181.5 542.6 1186.3 543.5 1191.2C544.4 1196.1 545.3 1199.6 545.9 1210.1C546.5 1220.6 547.2 1254.2 547.2 1254.2C547.2 1254.2 547.7 1232.7 548.5 1226.0C549.3 1219.3 550.5 1219.4 551.7 1213.9C553.0 1208.5 554.7 1195.8 555.9 1193.3C557.0 1190.8 558.0 1195.8 558.7 1198.9C559.4 1201.9 560.0 1211.9 560.0 1211.9C560.0 1211.9 560.6 1204.2 561.3 1201.7C562.0 1199.3 563.0 1199.8 564.1 1197.4C565.3 1195.0 567.1 1187.4 568.3 1187.1C569.5 1186.7 571.4 1195.3 571.4 1195.3C571.4 1195.3 574.4 1173.9 575.5 1171.6C576.6 1169.2 577.1 1175.9 577.7 1181.2C578.3 1186.5 579.0 1203.6 579.0 1203.6C579.0 1203.6 579.7 1187.1 580.3 1181.9C580.9 1176.7 581.3 1176.2 582.7 1172.6C584.2 1169.0 587.0 1159.5 588.9 1160.2C590.8 1160.9 592.8 1160.4 594.1 1176.7C595.4 1193.1 596.6 1258.3 596.6 1258.3C596.6 1258.3 598.9 1194.5 600.3 1182.9C601.7 1171.4 604.2 1185.6 605.2 1188.8C606.2 1192.1 606.5 1202.6 606.5 1202.6C606.5 1202.6 606.8 1184.4 607.8 1178.7C608.8 1173.0 611.3 1169.6 612.7 1168.5C614.1 1167.4 615.3 1170.1 616.1 1172.2C616.9 1174.3 617.4 1180.9 617.4 1180.9C617.4 1180.9 617.8 1171.5 618.7 1168.6C619.7 1165.7 621.3 1161.6 623.0 1163.3C624.8 1165.0 627.0 1175.2 629.2 1178.8C631.4 1182.4 634.8 1179.9 636.4 1185.0C638.1 1190.1 638.6 1195.9 639.3 1209.5C640.0 1223.1 640.6 1266.6 640.6 1266.6C640.6 1266.6 641.2 1219.8 641.9 1205.2C642.6 1190.5 643.4 1184.9 644.7 1178.8C646.0 1172.7 648.3 1164.5 649.9 1168.5C651.4 1172.4 652.4 1195.0 654.0 1202.6C655.5 1210.1 657.8 1211.4 659.2 1213.9C660.6 1216.4 661.6 1215.6 662.4 1217.6C663.2 1219.7 663.7 1226.3 663.7 1226.3C663.7 1226.3 664.2 1205.4 665.0 1198.9C665.8 1192.3 667.0 1188.9 668.4 1187.1C669.9 1185.3 671.5 1189.8 673.6 1188.1C675.7 1186.4 678.1 1174.3 680.8 1176.7C683.6 1179.2 690.1 1202.6 690.1 1202.6C690.1 1202.6 694.1 1198.6 696.3 1193.3C698.6 1187.9 701.5 1169.2 703.6 1170.6C705.6 1171.9 707.2 1194.8 708.7 1201.5C710.3 1208.2 712.9 1210.8 712.9 1210.8C712.9 1210.8 715.1 1184.1 716.0 1180.9C716.8 1177.6 717.6 1185.6 718.2 1191.4C718.8 1197.3 719.5 1216.0 719.5 1216.0C719.5 1216.0 720.1 1201.7 720.8 1197.2C721.4 1192.7 722.1 1188.9 723.2 1189.1C724.3 1189.3 725.6 1196.2 727.3 1198.4C729.0 1200.7 731.6 1202.7 733.5 1202.6C735.4 1202.4 737.3 1195.5 738.7 1197.4C740.0 1199.3 740.8 1204.7 741.5 1213.8C742.2 1222.9 742.8 1252.1 742.8 1252.1C742.8 1252.1 743.2 1216.3 744.1 1205.2C745.0 1194.0 746.3 1189.4 748.0 1185.0C749.6 1180.6 751.8 1181.1 754.2 1178.8C756.6 1176.6 759.8 1172.4 762.4 1171.6C765.0 1170.7 767.8 1172.1 769.7 1173.7C771.5 1175.2 772.7 1177.0 773.5 1181.1C774.4 1185.2 774.8 1198.4 774.8 1198.4C774.8 1198.4 774.7 1188.0 776.1 1184.7C777.5 1181.4 780.9 1178.5 783.1 1178.8C785.2 1179.2 787.8 1182.4 789.0 1186.9C790.2 1191.3 790.3 1205.7 790.3 1205.7C790.3 1205.7 790.6 1185.3 791.6 1178.9C792.6 1172.6 794.7 1167.0 796.5 1167.5C798.3 1167.9 801.2 1173.8 802.4 1181.7C803.6 1189.6 803.7 1215.0 803.7 1215.0C803.7 1215.0 804.2 1200.1 805.0 1195.4C805.9 1190.8 807.1 1188.1 808.9 1187.1C810.8 1186.0 813.9 1188.5 816.1 1189.1C818.4 1189.8 820.3 1189.0 822.3 1191.2C824.4 1193.4 827.5 1200.7 828.5 1202.6" fill="none" stroke="#ff0000" stroke-width="2.9" stroke-linejoin="round" stroke-dasharray="16 10"/>
<path d="M223.0 1297.5V1288.5M223.0 1096.4V1105.4M373.9 1297.5V1288.5M373.9 1096.4V1105.4M524.9 1297.5V1288.5M524.9 1096.4V1105.4M675.8 1297.5V1288.5M675.8 1096.4V1105.4M110.2 1145.8H119.2M828.4 1145.8H819.4M110.2 1271.8H119.2M828.4 1271.8H819.4" stroke="#000" stroke-width="1.9" fill="none"/>
<rect x="110.2" y="1096.4" width="718.2" height="201.1" fill="none" stroke="#000" stroke-width="1.9"/>
<g font-size="37"><text x="223.0" y="1342.7" text-anchor="middle">2</text><text x="373.9" y="1342.7" text-anchor="middle">4</text><text x="524.9" y="1342.7" text-anchor="middle">6</text><text x="675.8" y="1342.7" text-anchor="middle">8</text><text x="826.7" y="1342.7" text-anchor="middle">10</text><text x="97.2" y="1158.6" text-anchor="end">50</text><text x="97.2" y="1284.6" text-anchor="end">100</text></g>
<line x1="648.8" y1="1113.0" x2="715.6" y2="1113.0" stroke="#0000ff" stroke-width="3.2"/>
<line x1="647.3" y1="1147.2" x2="717.1" y2="1147.2" stroke="#dd0000" stroke-width="2.6" stroke-dasharray="16.5 10.5"/>
<g font-size="27.2"><text x="722.8" y="1122.4">RAM</text><text x="722.8" y="1155.8">Scooter</text></g>
<line x1="219.0" y1="1357.4" x2="219.0" y2="1548.4" stroke="#dcdcdc" stroke-width="1.1"/>
<line x1="370.2" y1="1357.4" x2="370.2" y2="1548.4" stroke="#dcdcdc" stroke-width="1.1"/>
<line x1="521.3" y1="1357.4" x2="521.3" y2="1548.4" stroke="#dcdcdc" stroke-width="1.1"/>
<line x1="672.5" y1="1357.4" x2="672.5" y2="1548.4" stroke="#dcdcdc" stroke-width="1.1"/>
<line x1="106.3" y1="1405.3" x2="824.5" y2="1405.3" stroke="#dcdcdc" stroke-width="1.1"/>
<line x1="106.3" y1="1524.6" x2="824.5" y2="1524.6" stroke="#dcdcdc" stroke-width="1.1"/>
<clipPath id="cC3"><rect x="106.3" y="1357.4" width="718.2" height="191.0"/></clipPath>
<path clip-path="url(#cC3)" d="M105.2 1399.6C105.5 1398.7 106.6 1394.0 107.2 1394.4C107.9 1394.8 108.5 1397.9 109.0 1402.2C109.5 1406.5 110.3 1420.2 110.3 1420.2C110.3 1420.2 110.9 1407.0 111.6 1402.9C112.3 1398.7 113.7 1394.8 114.5 1395.4C115.2 1396.1 115.7 1400.4 116.3 1406.6C116.8 1412.8 117.6 1432.6 117.6 1432.6C117.6 1432.6 118.3 1417.7 118.9 1413.1C119.4 1408.5 119.7 1401.1 120.7 1404.7C121.6 1408.3 123.4 1428.9 124.4 1434.7C125.4 1440.5 126.0 1436.7 126.6 1439.3C127.2 1441.9 127.9 1450.2 127.9 1450.2C127.9 1450.2 128.7 1428.7 129.2 1422.0C129.7 1415.3 130.0 1410.5 131.0 1409.9C132.0 1409.3 133.7 1415.2 135.1 1418.2C136.5 1421.1 139.2 1427.5 139.2 1427.5C139.2 1427.5 142.8 1401.2 143.8 1398.5C144.8 1395.8 144.7 1404.2 145.2 1411.2C145.6 1418.3 146.5 1440.9 146.5 1440.9C146.5 1440.9 147.3 1427.7 147.8 1423.5C148.3 1419.4 149.0 1415.9 149.6 1416.1C150.2 1416.3 150.9 1419.8 151.4 1424.5C151.9 1429.1 152.7 1444.0 152.7 1444.0C152.7 1444.0 153.5 1425.8 154.0 1420.1C154.4 1414.4 154.5 1408.7 155.4 1409.9C156.2 1411.1 157.6 1424.0 158.9 1427.5C160.1 1430.9 161.4 1433.5 163.0 1430.6C164.5 1427.6 166.7 1412.6 168.2 1409.9C169.7 1407.2 171.2 1412.0 172.0 1414.5C172.9 1417.1 173.3 1425.4 173.3 1425.4C173.3 1425.4 174.0 1411.6 174.6 1407.3C175.2 1403.0 175.7 1398.6 176.8 1399.6C178.0 1400.5 180.1 1409.6 181.6 1413.0C183.1 1416.4 184.6 1419.4 185.7 1420.2C186.9 1421.1 187.6 1415.4 188.4 1418.2C189.2 1421.0 190.0 1426.6 190.6 1437.1C191.2 1447.6 191.9 1481.2 191.9 1481.2C191.9 1481.2 192.5 1456.4 193.2 1448.6C193.9 1440.9 194.9 1441.3 196.0 1434.7C197.2 1428.1 199.0 1412.3 200.2 1408.9C201.4 1405.4 202.3 1414.5 203.3 1414.0C204.2 1413.5 204.7 1403.5 205.8 1405.8C206.8 1408.0 208.2 1424.9 209.5 1427.5C210.8 1430.0 212.3 1424.4 213.6 1421.3C214.9 1418.2 216.2 1409.0 217.3 1408.9C218.4 1408.7 219.5 1414.0 220.1 1420.3C220.8 1426.7 221.4 1447.1 221.4 1447.1C221.4 1447.1 222.0 1433.9 222.7 1429.7C223.5 1425.6 224.8 1419.2 226.0 1422.3C227.2 1425.4 228.7 1444.0 230.1 1448.1C231.5 1452.2 233.1 1452.8 234.3 1447.1C235.5 1441.4 236.2 1416.9 237.4 1414.0C238.5 1411.2 240.4 1421.2 241.2 1430.1C242.1 1439.1 242.5 1467.7 242.5 1467.7C242.5 1467.7 243.0 1439.1 243.8 1430.1C244.7 1421.2 246.2 1414.6 247.7 1414.0C249.2 1413.4 251.1 1423.0 252.8 1426.4C254.6 1429.9 258.0 1434.7 258.0 1434.7C258.0 1434.7 261.0 1412.5 262.1 1413.0C263.3 1413.5 264.3 1424.0 265.0 1437.8C265.7 1451.6 266.3 1495.6 266.3 1495.6C266.3 1495.6 266.9 1463.1 267.6 1453.0C268.3 1442.8 269.1 1440.0 270.4 1434.7C271.7 1429.4 273.8 1419.9 275.6 1421.3C277.3 1422.6 279.3 1438.1 280.7 1442.9C282.2 1447.8 283.4 1446.3 284.2 1450.4C285.0 1454.5 285.5 1467.7 285.5 1467.7C285.5 1467.7 286.2 1442.9 286.8 1435.2C287.4 1427.5 287.1 1424.1 289.0 1421.3C290.9 1418.4 295.5 1412.1 298.3 1418.2C301.0 1424.2 303.4 1451.0 305.5 1457.4C307.6 1463.8 309.0 1462.2 310.7 1456.4C312.4 1450.5 314.3 1424.2 315.8 1422.3C317.4 1420.4 318.8 1440.2 320.0 1445.0C321.1 1449.8 322.1 1447.8 322.8 1451.2C323.5 1454.7 324.1 1465.7 324.1 1465.7C324.1 1465.7 324.9 1444.2 325.4 1437.5C325.9 1430.8 326.5 1425.1 327.2 1425.4C327.9 1425.6 329.0 1431.4 329.6 1439.0C330.2 1446.6 330.9 1470.8 330.9 1470.8C330.9 1470.8 331.6 1453.8 332.2 1448.4C332.8 1443.1 333.2 1444.7 334.4 1438.8C335.7 1432.9 337.7 1415.7 339.6 1413.0C341.4 1410.3 344.3 1417.3 345.5 1422.6C346.7 1427.9 346.8 1445.0 346.8 1445.0C346.8 1445.0 347.4 1429.0 348.1 1424.0C348.8 1419.1 349.5 1412.6 351.0 1415.1C352.5 1417.5 355.4 1432.2 357.2 1438.8C358.9 1445.4 360.5 1445.8 361.4 1454.6C362.4 1463.4 362.7 1491.5 362.7 1491.5C362.7 1491.5 362.8 1451.8 364.0 1439.4C365.3 1427.0 368.4 1418.8 370.2 1417.1C371.9 1415.5 373.1 1425.9 374.7 1429.5C376.3 1433.1 379.9 1438.8 379.9 1438.8C379.9 1438.8 382.5 1430.2 384.0 1427.5C385.6 1424.7 387.9 1421.1 389.2 1422.3C390.4 1423.5 391.0 1427.8 391.6 1434.7C392.2 1441.6 392.9 1463.6 392.9 1463.6C392.9 1463.6 392.7 1439.4 394.2 1431.8C395.6 1424.2 399.6 1414.1 401.6 1418.2C403.5 1422.3 404.5 1449.7 405.7 1456.4C406.9 1463.1 407.6 1462.2 408.8 1458.4C410.0 1454.7 411.9 1436.2 412.9 1433.7C414.0 1431.1 414.5 1437.9 415.1 1443.3C415.7 1448.6 416.4 1465.7 416.4 1465.7C416.4 1465.7 416.4 1454.7 417.7 1451.2C419.0 1447.8 422.9 1444.1 424.3 1445.0C425.7 1445.9 425.6 1450.1 426.1 1456.5C426.6 1462.8 427.4 1483.2 427.4 1483.2C427.4 1483.2 427.9 1450.2 428.7 1439.8C429.5 1429.5 430.6 1423.2 432.1 1421.3C433.6 1419.4 436.3 1424.9 437.7 1428.5C439.1 1432.1 439.8 1435.0 440.5 1443.0C441.2 1451.1 441.8 1477.0 441.8 1477.0C441.8 1477.0 442.3 1447.8 443.1 1438.7C443.9 1429.6 445.3 1422.3 446.6 1422.3C447.9 1422.3 449.7 1434.4 451.1 1438.8C452.5 1443.3 454.1 1443.4 455.0 1449.0C455.9 1454.7 456.3 1472.9 456.3 1472.9C456.3 1472.9 456.9 1450.9 457.6 1444.0C458.3 1437.1 458.8 1430.6 460.4 1431.6C462.0 1432.6 465.6 1441.2 467.2 1450.2C468.8 1459.1 469.9 1485.3 469.9 1485.3C469.9 1485.3 471.7 1465.1 472.4 1462.6C473.1 1460.1 473.7 1466.0 474.2 1470.3C474.7 1474.6 475.5 1488.4 475.5 1488.4C475.5 1488.4 476.3 1467.5 476.8 1460.9C477.3 1454.4 477.6 1451.8 478.6 1449.1C479.6 1446.5 480.7 1447.9 482.7 1445.0C484.8 1442.1 488.9 1432.3 491.0 1431.6C493.0 1430.9 494.1 1436.1 495.1 1440.9C496.2 1445.6 496.7 1449.4 497.3 1460.1C497.9 1470.8 498.6 1504.9 498.6 1504.9C498.6 1504.9 499.3 1482.3 499.9 1475.3C500.5 1468.2 501.3 1465.5 502.3 1462.6C503.4 1459.6 505.1 1463.1 506.5 1457.4C507.9 1451.7 509.3 1432.6 510.6 1428.5C511.9 1424.4 513.1 1433.0 514.1 1432.6C515.1 1432.3 516.0 1425.5 516.8 1426.4C517.6 1427.3 518.4 1431.5 519.0 1437.9C519.6 1444.3 520.3 1464.6 520.3 1464.6C520.3 1464.6 521.0 1444.3 521.6 1437.9C522.2 1431.5 522.8 1427.6 524.0 1426.4C525.3 1425.2 528.0 1428.6 529.2 1430.6C530.4 1432.5 530.8 1434.0 531.4 1438.3C532.0 1442.6 532.7 1456.4 532.7 1456.4C532.7 1456.4 533.4 1445.9 534.0 1442.6C534.6 1439.4 535.3 1436.0 536.4 1436.7C537.5 1437.5 539.6 1443.1 540.6 1447.1C541.5 1451.0 541.8 1453.0 542.4 1460.4C542.9 1467.8 543.7 1491.5 543.7 1491.5C543.7 1491.5 544.3 1479.9 545.0 1476.3C545.6 1472.7 546.3 1474.5 547.8 1469.8C549.3 1465.1 552.6 1450.7 554.0 1448.1C555.4 1445.5 555.6 1450.7 556.2 1454.0C556.8 1457.3 557.5 1467.7 557.5 1467.7C557.5 1467.7 558.2 1461.1 558.8 1459.1C559.4 1457.0 560.1 1458.0 561.2 1455.3C562.3 1452.7 564.0 1443.3 565.3 1442.9C566.6 1442.6 569.1 1453.3 569.1 1453.3C569.1 1453.3 571.5 1430.2 572.6 1427.5C573.6 1424.7 574.7 1431.6 575.4 1436.7C576.1 1441.9 576.7 1458.4 576.7 1458.4C576.7 1458.4 577.5 1441.4 578.0 1436.0C578.5 1430.7 578.5 1429.6 579.8 1426.4C581.1 1423.3 583.8 1415.4 585.6 1417.1C587.4 1418.8 589.3 1430.6 590.5 1436.7C591.8 1442.9 592.3 1444.5 593.0 1454.1C593.6 1463.7 594.3 1494.6 594.3 1494.6C594.3 1494.6 595.0 1465.9 595.6 1457.0C596.1 1448.0 596.2 1442.5 597.4 1440.9C598.5 1439.3 601.2 1443.8 602.3 1447.4C603.3 1451.0 603.6 1462.6 603.6 1462.6C603.6 1462.6 603.8 1442.7 604.9 1436.5C605.9 1430.3 608.4 1426.6 609.7 1425.4C611.1 1424.2 612.4 1427.0 613.2 1429.1C614.0 1431.2 614.5 1437.8 614.5 1437.8C614.5 1437.8 614.9 1429.0 615.8 1426.2C616.7 1423.5 618.3 1419.2 620.1 1421.3C621.8 1423.4 624.4 1435.5 626.3 1438.8C628.2 1442.1 629.8 1438.5 631.4 1440.9C633.0 1443.3 635.0 1446.4 635.9 1453.3C636.9 1460.2 637.2 1482.2 637.2 1482.2C637.2 1482.2 637.8 1457.4 638.5 1449.7C639.3 1441.9 640.4 1439.8 641.8 1435.7C643.2 1431.7 645.4 1420.4 646.9 1425.4C648.5 1430.4 649.5 1457.2 651.1 1465.7C652.6 1474.1 654.7 1473.6 656.2 1476.0C657.8 1478.4 659.0 1485.6 660.4 1480.1C661.7 1474.6 662.8 1449.0 664.5 1442.9C666.2 1436.9 668.4 1445.5 670.7 1444.0C672.9 1442.4 675.3 1431.2 677.9 1433.7C680.5 1436.1 686.2 1458.4 686.2 1458.4C686.2 1458.4 691.0 1454.3 693.4 1449.1C695.8 1444.0 698.8 1429.3 700.6 1427.5C702.5 1425.6 703.6 1432.1 704.5 1438.0C705.4 1443.8 705.8 1462.6 705.8 1462.6C705.8 1462.6 706.1 1449.9 707.1 1445.9C708.1 1442.0 710.7 1438.6 712.0 1438.8C713.3 1439.1 714.1 1442.7 714.8 1447.5C715.5 1452.3 716.1 1467.7 716.1 1467.7C716.1 1467.7 716.7 1458.9 717.4 1456.2C718.1 1453.4 719.1 1451.9 720.2 1451.2C721.4 1450.6 722.8 1450.9 724.4 1452.2C725.9 1453.6 727.7 1459.0 729.5 1459.5C731.4 1460.0 734.2 1451.4 735.7 1455.3C737.2 1459.3 737.9 1467.7 738.6 1483.2C739.3 1498.7 739.9 1548.3 739.9 1548.3C739.9 1548.3 740.5 1492.1 741.2 1474.5C741.9 1457.0 742.7 1449.2 744.0 1442.9C745.3 1436.6 746.6 1439.2 749.2 1436.7C751.7 1434.3 756.4 1428.9 759.5 1428.1C762.6 1427.2 765.7 1429.5 767.8 1431.6C769.8 1433.7 770.8 1435.7 771.6 1440.9C772.5 1446.0 772.9 1462.6 772.9 1462.6C772.9 1462.6 773.0 1446.0 774.2 1440.9C775.4 1435.7 778.2 1431.9 780.1 1431.6C782.1 1431.3 784.9 1434.9 786.1 1439.0C787.3 1443.2 787.4 1456.4 787.4 1456.4C787.4 1456.4 787.6 1439.3 788.7 1434.0C789.7 1428.6 791.9 1423.5 793.6 1424.4C795.2 1425.2 797.4 1431.0 798.5 1439.2C799.5 1447.5 799.8 1473.9 799.8 1473.9C799.8 1473.9 800.2 1456.9 801.1 1451.5C801.9 1446.2 802.9 1442.8 804.9 1441.9C807.0 1441.0 810.8 1445.0 813.2 1446.0C815.6 1447.1 817.5 1446.2 819.4 1448.1C821.3 1450.0 823.7 1455.9 824.6 1457.4" fill="none" stroke="#0000ff" stroke-width="3.6" stroke-linejoin="round"/>
<path clip-path="url(#cC3)" d="M105.2 1399.6C105.5 1398.7 106.6 1394.0 107.2 1394.4C107.9 1394.8 108.5 1397.9 109.0 1402.2C109.5 1406.5 110.3 1420.2 110.3 1420.2C110.3 1420.2 110.9 1407.0 111.6 1402.9C112.3 1398.7 113.7 1394.8 114.5 1395.4C115.2 1396.1 115.7 1400.4 116.3 1406.6C116.8 1412.8 117.6 1432.6 117.6 1432.6C117.6 1432.6 118.3 1417.7 118.9 1413.1C119.4 1408.5 119.7 1401.1 120.7 1404.7C121.6 1408.3 123.4 1428.9 124.4 1434.7C125.4 1440.5 126.0 1436.7 126.6 1439.3C127.2 1441.9 127.9 1450.2 127.9 1450.2C127.9 1450.2 128.7 1428.7 129.2 1422.0C129.7 1415.3 130.0 1410.5 131.0 1409.9C132.0 1409.3 133.7 1415.2 135.1 1418.2C136.5 1421.1 139.2 1427.5 139.2 1427.5C139.2 1427.5 142.8 1401.2 143.8 1398.5C144.8 1395.8 144.7 1404.2 145.2 1411.2C145.6 1418.3 146.5 1440.9 146.5 1440.9C146.5 1440.9 147.3 1427.7 147.8 1423.5C148.3 1419.4 149.0 1415.9 149.6 1416.1C150.2 1416.3 150.9 1419.8 151.4 1424.5C151.9 1429.1 152.7 1444.0 152.7 1444.0C152.7 1444.0 153.5 1425.8 154.0 1420.1C154.4 1414.4 154.5 1408.7 155.4 1409.9C156.2 1411.1 157.6 1424.0 158.9 1427.5C160.1 1430.9 161.4 1433.5 163.0 1430.6C164.5 1427.6 166.7 1412.6 168.2 1409.9C169.7 1407.2 171.2 1412.0 172.0 1414.5C172.9 1417.1 173.3 1425.4 173.3 1425.4C173.3 1425.4 174.0 1411.6 174.6 1407.3C175.2 1403.0 175.7 1398.6 176.8 1399.6C178.0 1400.5 180.1 1409.6 181.6 1413.0C183.1 1416.4 184.6 1419.4 185.7 1420.2C186.9 1421.1 187.6 1415.4 188.4 1418.2C189.2 1421.0 190.0 1426.6 190.6 1437.1C191.2 1447.6 191.9 1481.2 191.9 1481.2C191.9 1481.2 192.5 1456.4 193.2 1448.6C193.9 1440.9 194.9 1441.3 196.0 1434.7C197.2 1428.1 199.0 1412.3 200.2 1408.9C201.4 1405.4 202.3 1414.5 203.3 1414.0C204.2 1413.5 204.7 1403.5 205.8 1405.8C206.8 1408.0 208.2 1424.9 209.5 1427.5C210.8 1430.0 212.3 1424.4 213.6 1421.3C214.9 1418.2 216.2 1409.0 217.3 1408.9C218.4 1408.7 219.5 1414.0 220.1 1420.3C220.8 1426.7 221.4 1447.1 221.4 1447.1C221.4 1447.1 222.0 1433.9 222.7 1429.7C223.5 1425.6 224.8 1419.2 226.0 1422.3C227.2 1425.4 228.7 1444.0 230.1 1448.1C231.5 1452.2 233.1 1452.8 234.3 1447.1C235.5 1441.4 236.2 1416.9 237.4 1414.0C238.5 1411.2 240.4 1421.2 241.2 1430.1C242.1 1439.1 242.5 1467.7 242.5 1467.7C242.5 1467.7 243.0 1439.1 243.8 1430.1C244.7 1421.2 246.2 1414.6 247.7 1414.0C249.2 1413.4 251.1 1423.0 252.8 1426.4C254.6 1429.9 258.0 1434.7 258.0 1434.7C258.0 1434.7 261.0 1412.5 262.1 1413.0C263.3 1413.5 264.3 1424.0 265.0 1437.8C265.7 1451.6 266.3 1495.6 266.3 1495.6C266.3 1495.6 266.9 1463.1 267.6 1453.0C268.3 1442.8 269.1 1440.0 270.4 1434.7C271.7 1429.4 273.8 1419.9 275.6 1421.3C277.3 1422.6 279.3 1438.1 280.7 1442.9C282.2 1447.8 283.4 1446.3 284.2 1450.4C285.0 1454.5 285.5 1467.7 285.5 1467.7C285.5 1467.7 286.2 1442.9 286.8 1435.2C287.4 1427.5 287.1 1424.1 289.0 1421.3C290.9 1418.4 295.5 1412.1 298.3 1418.2C301.0 1424.2 303.4 1451.0 305.5 1457.4C307.6 1463.8 309.0 1462.2 310.7 1456.4C312.4 1450.5 314.3 1424.2 315.8 1422.3C317.4 1420.4 318.8 1439.1 320.0 1445.0C321.1 1451.0 322.1 1450.8 322.8 1458.0C323.5 1465.3 324.1 1488.4 324.1 1488.4C324.1 1488.4 324.9 1454.8 325.4 1444.3C325.9 1433.8 326.5 1426.3 327.2 1425.4C327.9 1424.5 329.0 1431.4 329.6 1439.0C330.2 1446.6 330.9 1470.8 330.9 1470.8C330.9 1470.8 331.6 1453.8 332.2 1448.4C332.8 1443.1 333.2 1444.7 334.4 1438.8C335.7 1432.9 337.7 1415.7 339.6 1413.0C341.4 1410.3 344.3 1417.3 345.5 1422.6C346.7 1427.9 346.8 1445.0 346.8 1445.0C346.8 1445.0 347.4 1429.0 348.1 1424.0C348.8 1419.1 349.5 1412.6 351.0 1415.1C352.5 1417.5 355.4 1432.2 357.2 1438.8C358.9 1445.4 360.5 1445.8 361.4 1454.6C362.4 1463.4 362.7 1491.5 362.7 1491.5C362.7 1491.5 362.8 1451.8 364.0 1439.4C365.3 1427.0 368.4 1418.8 370.2 1417.1C371.9 1415.5 373.1 1425.9 374.7 1429.5C376.3 1433.1 379.9 1438.8 379.9 1438.8C379.9 1438.8 382.5 1430.2 384.0 1427.5C385.6 1424.7 387.9 1421.1 389.2 1422.3C390.4 1423.5 391.0 1427.8 391.6 1434.7C392.2 1441.6 392.9 1463.6 392.9 1463.6C392.9 1463.6 392.7 1439.4 394.2 1431.8C395.6 1424.2 399.6 1414.1 401.6 1418.2C403.5 1422.3 404.5 1449.7 405.7 1456.4C406.9 1463.1 407.6 1462.2 408.8 1458.4C410.0 1454.7 411.9 1436.2 412.9 1433.7C414.0 1431.1 414.5 1437.9 415.1 1443.3C415.7 1448.6 416.4 1465.7 416.4 1465.7C416.4 1465.7 416.4 1454.7 417.7 1451.2C419.0 1447.8 422.9 1444.1 424.3 1445.0C425.7 1445.9 425.6 1450.1 426.1 1456.5C426.6 1462.8 427.4 1483.2 427.4 1483.2C427.4 1483.2 427.9 1450.2 428.7 1439.8C429.5 1429.5 430.6 1423.2 432.1 1421.3C433.6 1419.4 436.3 1424.9 437.7 1428.5C439.1 1432.1 439.8 1435.0 440.5 1443.0C441.2 1451.1 441.8 1477.0 441.8 1477.0C441.8 1477.0 442.3 1447.8 443.1 1438.7C443.9 1429.6 445.3 1422.3 446.6 1422.3C447.9 1422.3 449.7 1434.4 451.1 1438.8C452.5 1443.3 454.1 1443.4 455.0 1449.0C455.9 1454.7 456.3 1472.9 456.3 1472.9C456.3 1472.9 456.9 1450.9 457.6 1444.0C458.3 1437.1 458.8 1430.6 460.4 1431.6C462.0 1432.6 465.6 1441.2 467.2 1450.2C468.8 1459.1 469.9 1485.3 469.9 1485.3C469.9 1485.3 471.7 1465.1 472.4 1462.6C473.1 1460.1 473.7 1466.0 474.2 1470.3C474.7 1474.6 475.5 1488.4 475.5 1488.4C475.5 1488.4 476.3 1467.5 476.8 1460.9C477.3 1454.4 477.6 1451.8 478.6 1449.1C479.6 1446.5 480.7 1447.9 482.7 1445.0C484.8 1442.1 488.9 1432.3 491.0 1431.6C493.0 1430.9 494.1 1436.1 495.1 1440.9C496.2 1445.6 496.7 1449.4 497.3 1460.1C497.9 1470.8 498.6 1504.9 498.6 1504.9C498.6 1504.9 499.3 1482.3 499.9 1475.3C500.5 1468.2 501.3 1465.5 502.3 1462.6C503.4 1459.6 505.1 1463.1 506.5 1457.4C507.9 1451.7 509.3 1432.6 510.6 1428.5C511.9 1424.4 513.1 1433.0 514.1 1432.6C515.1 1432.3 516.0 1425.5 516.8 1426.4C517.6 1427.3 518.4 1431.5 519.0 1437.9C519.6 1444.3 520.3 1464.6 520.3 1464.6C520.3 1464.6 521.0 1444.3 521.6 1437.9C522.2 1431.5 522.8 1427.6 524.0 1426.4C525.3 1425.2 528.0 1428.6 529.2 1430.6C530.4 1432.5 530.8 1434.0 531.4 1438.3C532.0 1442.6 532.7 1456.4 532.7 1456.4C532.7 1456.4 533.4 1445.9 534.0 1442.6C534.6 1439.4 535.3 1436.0 536.4 1436.7C537.5 1437.5 539.6 1443.1 540.6 1447.1C541.5 1451.0 541.8 1453.0 542.4 1460.4C542.9 1467.8 543.7 1491.5 543.7 1491.5C543.7 1491.5 544.3 1479.9 545.0 1476.3C545.6 1472.7 546.3 1474.5 547.8 1469.8C549.3 1465.1 552.6 1450.7 554.0 1448.1C555.4 1445.5 555.6 1450.7 556.2 1454.0C556.8 1457.3 557.5 1467.7 557.5 1467.7C557.5 1467.7 558.2 1461.1 558.8 1459.1C559.4 1457.0 560.1 1458.0 561.2 1455.3C562.3 1452.7 564.0 1443.3 565.3 1442.9C566.6 1442.6 569.1 1453.3 569.1 1453.3C569.1 1453.3 571.5 1430.2 572.6 1427.5C573.6 1424.7 574.7 1431.6 575.4 1436.7C576.1 1441.9 576.7 1458.4 576.7 1458.4C576.7 1458.4 577.5 1441.4 578.0 1436.0C578.5 1430.7 578.5 1429.6 579.8 1426.4C581.1 1423.3 583.8 1415.4 585.6 1417.1C587.4 1418.8 589.3 1429.6 590.5 1436.7C591.8 1443.9 592.3 1447.2 593.0 1460.3C593.6 1473.4 594.3 1515.2 594.3 1515.2C594.3 1515.2 595.0 1475.6 595.6 1463.2C596.1 1450.8 596.2 1443.5 597.4 1440.9C598.5 1438.2 601.2 1443.8 602.3 1447.4C603.3 1451.0 603.6 1462.6 603.6 1462.6C603.6 1462.6 603.8 1442.7 604.9 1436.5C605.9 1430.3 608.4 1426.6 609.7 1425.4C611.1 1424.2 612.4 1427.0 613.2 1429.1C614.0 1431.2 614.5 1437.8 614.5 1437.8C614.5 1437.8 614.9 1429.0 615.8 1426.2C616.7 1423.5 618.3 1419.2 620.1 1421.3C621.8 1423.4 624.4 1435.5 626.3 1438.8C628.2 1442.1 629.8 1436.6 631.4 1440.9C633.0 1445.2 635.0 1451.4 635.9 1464.4C636.9 1477.5 637.2 1519.4 637.2 1519.4C637.2 1519.4 637.8 1474.8 638.5 1460.8C639.3 1446.9 640.4 1441.6 641.8 1435.7C643.2 1429.8 645.4 1420.4 646.9 1425.4C648.5 1430.4 649.5 1457.2 651.1 1465.7C652.6 1474.1 654.7 1473.6 656.2 1476.0C657.8 1478.4 659.0 1485.6 660.4 1480.1C661.7 1474.6 662.8 1449.0 664.5 1442.9C666.2 1436.9 668.4 1445.5 670.7 1444.0C672.9 1442.4 675.3 1431.2 677.9 1433.7C680.5 1436.1 686.2 1458.4 686.2 1458.4C686.2 1458.4 691.0 1454.3 693.4 1449.1C695.8 1444.0 698.8 1429.3 700.6 1427.5C702.5 1425.6 703.6 1432.1 704.5 1438.0C705.4 1443.8 705.8 1462.6 705.8 1462.6C705.8 1462.6 706.1 1449.9 707.1 1445.9C708.1 1442.0 710.7 1438.6 712.0 1438.8C713.3 1439.1 714.1 1442.7 714.8 1447.5C715.5 1452.3 716.1 1467.7 716.1 1467.7C716.1 1467.7 716.7 1458.9 717.4 1456.2C718.1 1453.4 719.1 1451.9 720.2 1451.2C721.4 1450.6 722.8 1450.9 724.4 1452.2C725.9 1453.6 727.7 1459.0 729.5 1459.5C731.4 1460.0 734.2 1455.3 735.7 1455.3C737.2 1455.4 737.9 1457.3 738.6 1459.7C739.3 1462.2 739.9 1470.0 739.9 1470.0C739.9 1470.0 740.5 1455.6 741.2 1451.1C741.9 1446.6 742.7 1445.3 744.0 1442.9C745.3 1440.6 746.6 1439.2 749.2 1436.7C751.7 1434.3 756.4 1428.9 759.5 1428.1C762.6 1427.2 765.7 1429.5 767.8 1431.6C769.8 1433.7 770.8 1435.7 771.6 1440.9C772.5 1446.0 772.9 1462.6 772.9 1462.6C772.9 1462.6 773.0 1446.0 774.2 1440.9C775.4 1435.7 778.2 1431.9 780.1 1431.6C782.1 1431.3 784.9 1434.9 786.1 1439.0C787.3 1443.2 787.4 1456.4 787.4 1456.4C787.4 1456.4 787.6 1439.3 788.7 1434.0C789.7 1428.6 791.9 1423.5 793.6 1424.4C795.2 1425.2 797.4 1431.0 798.5 1439.2C799.5 1447.5 799.8 1473.9 799.8 1473.9C799.8 1473.9 800.2 1456.9 801.1 1451.5C801.9 1446.2 802.9 1442.8 804.9 1441.9C807.0 1441.0 810.8 1445.0 813.2 1446.0C815.6 1447.1 817.5 1446.2 819.4 1448.1C821.3 1450.0 823.7 1455.9 824.6 1457.4" fill="none" stroke="#ff0000" stroke-width="2.9" stroke-linejoin="round" stroke-dasharray="16 10"/>
<path d="M219.0 1548.4V1539.4M219.0 1357.4V1366.4M370.2 1548.4V1539.4M370.2 1357.4V1366.4M521.3 1548.4V1539.4M521.3 1357.4V1366.4M672.5 1548.4V1539.4M672.5 1357.4V1366.4M106.3 1405.3H115.3M824.5 1405.3H815.5M106.3 1524.6H115.3M824.5 1524.6H815.5" stroke="#000" stroke-width="1.9" fill="none"/>
<rect x="106.3" y="1357.4" width="718.2" height="191.0" fill="none" stroke="#000" stroke-width="1.9"/>
<g font-size="37"><text x="219.0" y="1593.6" text-anchor="middle">2</text><text x="370.2" y="1593.6" text-anchor="middle">4</text><text x="521.3" y="1593.6" text-anchor="middle">6</text><text x="672.5" y="1593.6" text-anchor="middle">8</text><text x="823.7" y="1593.6" text-anchor="middle">10</text><text x="93.3" y="1418.1" text-anchor="end">50</text><text x="93.3" y="1537.4" text-anchor="end">100</text></g>
<line x1="645.0" y1="1378.0" x2="712.7" y2="1378.0" stroke="#0000ff" stroke-width="3.2"/>
<line x1="643.5" y1="1412.5" x2="714.2" y2="1412.5" stroke="#dd0000" stroke-width="2.6" stroke-dasharray="16.5 10.5"/>
<g font-size="27.2"><text x="718.9" y="1386.8">Kraken</text><text x="718.9" y="1420.8">Scooter</text></g>
<line x1="1144.0" y1="812.6" x2="1144.0" y2="1019.3" stroke="#dcdcdc" stroke-width="1.1"/>
<line x1="1294.9" y1="812.6" x2="1294.9" y2="1019.3" stroke="#dcdcdc" stroke-width="1.1"/>
<line x1="1445.7" y1="812.6" x2="1445.7" y2="1019.3" stroke="#dcdcdc" stroke-width="1.1"/>
<line x1="1596.6" y1="812.6" x2="1596.6" y2="1019.3" stroke="#dcdcdc" stroke-width="1.1"/>
<line x1="1031.1" y1="863.7" x2="1748.9" y2="863.7" stroke="#dcdcdc" stroke-width="1.1"/>
<line x1="1031.1" y1="991.9" x2="1748.9" y2="991.9" stroke="#dcdcdc" stroke-width="1.1"/>
<clipPath id="cD1"><rect x="1031.1" y="812.6" width="717.8" height="206.7"/></clipPath>
<path clip-path="url(#cD1)" d="M1029.7 855.7 1030.9 885.0 1032.1 854.1 1033.2 887.8 1034.4 854.1 1035.6 886.6 1036.8 855.1 1038.0 861.4 1039.2 887.6 1040.4 858.6 1041.6 888.7 1042.9 858.3 1044.1 889.5 1045.3 859.9 1046.5 867.1 1047.6 890.5 1048.8 863.6 1049.9 895.2 1051.0 864.0 1052.2 891.5 1053.3 864.1 1054.5 892.3 1055.6 867.1 1056.7 898.0 1057.7 861.7 1058.8 898.7 1059.9 864.7 1061.0 895.4 1062.1 870.5 1063.3 891.9 1064.5 867.8 1065.7 891.8 1067.0 867.4 1068.2 891.7 1069.4 868.4 1070.6 890.9 1071.8 869.5 1073.0 859.2 1074.1 897.7 1075.2 857.0 1076.4 897.7 1077.5 859.5 1078.6 897.9 1079.8 863.9 1080.9 893.4 1082.1 859.3 1083.3 894.4 1084.4 862.6 1085.6 912.8 1086.7 871.5 1087.9 923.0 1089.1 868.8 1090.3 916.5 1091.4 869.4 1092.6 895.8 1093.8 871.4 1095.0 870.7 1096.2 919.3 1097.4 867.6 1098.6 901.5 1099.8 865.8 1101.0 912.0 1102.2 869.6 1103.4 876.2 1104.5 894.6 1105.6 874.2 1106.7 896.7 1107.8 875.1 1108.9 913.6 1110.0 875.3 1111.1 895.5 1112.2 875.1 1113.3 894.2 1114.4 867.3 1115.5 925.4 1116.5 865.7 1117.6 906.9 1118.7 865.4 1119.8 904.0 1120.9 866.4 1122.0 868.5 1123.1 903.1 1124.2 867.0 1125.2 901.5 1126.3 865.4 1127.4 903.0 1128.5 866.0 1129.6 898.3 1130.7 867.7 1131.9 880.5 1133.0 904.1 1134.2 878.3 1135.4 906.9 1136.6 877.7 1137.8 905.7 1139.0 878.2 1140.2 905.4 1141.4 878.3 1142.6 870.9 1143.8 923.5 1145.0 869.5 1146.1 903.9 1147.3 869.5 1148.5 903.7 1149.7 869.5 1150.8 902.4 1152.0 871.1 1153.1 876.1 1154.2 932.0 1155.2 872.6 1156.3 928.2 1157.4 873.5 1158.4 905.2 1159.5 868.6 1160.6 899.6 1161.6 866.2 1162.7 900.3 1163.8 868.4 1164.9 896.7 1165.9 873.3 1167.0 905.4 1168.1 871.0 1169.2 911.3 1170.3 872.0 1171.4 908.4 1172.5 870.7 1173.6 903.4 1174.8 869.3 1175.9 934.1 1177.0 868.1 1178.1 905.0 1179.2 868.9 1180.3 904.4 1181.4 872.0 1182.5 878.5 1183.7 901.5 1184.9 875.8 1186.0 921.0 1187.2 878.3 1188.3 901.3 1189.5 876.1 1190.6 909.6 1191.7 873.9 1192.8 910.5 1193.9 873.3 1195.0 905.7 1196.1 880.0 1197.3 898.1 1198.5 879.5 1199.7 899.3 1200.9 879.1 1202.1 929.0 1203.3 879.0 1204.6 927.4 1205.8 879.7 1206.9 873.6 1208.1 902.0 1209.3 870.4 1210.5 903.4 1211.6 872.9 1212.8 901.0 1214.0 887.8 1215.0 908.9 1216.1 883.8 1217.2 909.1 1218.3 885.7 1219.4 909.0 1220.5 877.3 1221.6 909.5 1222.7 874.5 1223.8 910.4 1224.8 872.2 1225.9 909.2 1227.0 875.4 1228.1 924.5 1229.2 876.4 1230.3 879.3 1231.4 906.8 1232.5 875.5 1233.5 907.7 1234.6 877.6 1235.7 903.2 1236.8 876.0 1237.9 908.2 1239.0 874.2 1240.2 923.2 1241.3 874.4 1242.4 940.5 1243.5 875.2 1244.6 885.8 1245.8 913.0 1246.9 883.5 1248.0 912.8 1249.1 882.9 1250.2 912.7 1251.3 885.9 1252.4 911.1 1253.5 884.2 1254.7 923.8 1255.9 883.5 1257.1 913.5 1258.2 881.9 1259.4 926.0 1260.6 883.8 1261.7 913.7 1262.9 886.0 1264.1 887.4 1265.3 901.7 1266.5 885.7 1267.7 901.5 1269.0 885.1 1270.2 901.3 1271.4 887.0 1272.6 899.6 1273.8 882.1 1274.9 911.7 1276.1 879.3 1277.2 915.5 1278.4 880.2 1279.6 916.2 1280.7 879.4 1281.9 913.9 1283.0 881.9 1284.2 888.3 1285.5 907.2 1286.7 887.4 1287.9 906.5 1289.2 888.3 1290.4 886.7 1291.6 911.6 1292.8 882.3 1294.1 914.0 1295.3 884.7 1296.5 909.7 1297.7 886.8 1298.8 915.9 1300.0 884.2 1301.1 939.4 1302.2 885.5 1303.4 914.2 1304.5 886.7 1305.6 912.4 1306.7 884.8 1307.8 915.9 1308.9 885.1 1310.0 913.3 1311.1 886.0 1312.2 910.3 1313.4 881.4 1314.5 912.6 1315.7 879.7 1316.9 912.6 1318.1 879.1 1319.2 913.8 1320.4 880.0 1321.6 911.2 1322.8 882.9 1323.9 881.2 1325.1 912.3 1326.3 879.0 1327.5 914.3 1328.6 876.9 1329.8 911.3 1331.0 880.4 1332.1 879.1 1333.2 944.6 1334.3 877.5 1335.5 934.5 1336.6 876.6 1337.7 904.4 1338.8 878.0 1339.9 904.6 1341.0 885.6 1342.3 930.6 1343.5 882.7 1344.7 912.7 1345.9 883.3 1347.1 911.2 1348.3 882.7 1349.5 944.6 1350.7 886.1 1351.9 881.1 1353.0 905.0 1354.1 879.4 1355.3 906.8 1356.4 881.2 1357.5 904.4 1358.6 894.7 1359.8 911.3 1361.0 891.6 1362.2 911.0 1363.4 891.9 1364.6 911.8 1365.8 892.7 1367.0 909.1 1368.1 887.5 1369.3 953.0 1370.6 886.3 1371.8 904.6 1373.0 886.7 1374.2 905.5 1375.4 887.6 1376.5 884.0 1377.6 905.4 1378.6 882.9 1379.7 905.7 1380.7 883.4 1381.8 906.6 1382.9 886.3 1384.2 905.6 1385.4 886.3 1386.6 908.8 1387.8 885.7 1389.0 908.4 1390.2 886.3 1391.4 904.3 1392.6 887.5 1393.7 908.1 1394.8 884.8 1395.9 949.3 1397.0 884.3 1398.1 907.3 1399.2 886.0 1400.4 890.1 1401.5 913.4 1402.7 886.3 1403.8 914.5 1405.0 887.8 1406.1 913.2 1407.3 888.4 1408.4 884.1 1409.6 911.5 1410.7 883.1 1411.9 937.2 1413.0 882.3 1414.1 913.4 1415.3 883.0 1416.4 912.2 1417.5 886.3 1418.6 908.4 1419.7 883.2 1420.7 908.5 1421.8 884.0 1422.9 906.7 1424.0 884.6 1425.2 912.8 1426.4 882.5 1427.6 914.0 1428.8 881.5 1430.0 911.8 1431.2 883.8 1432.4 912.2 1433.6 891.2 1434.8 909.7 1436.0 889.8 1437.1 911.3 1438.3 890.5 1439.5 911.3 1440.6 891.3 1441.8 886.3 1443.1 943.9 1444.3 884.7 1445.5 917.4 1446.8 888.2 1448.0 885.9 1449.2 906.8 1450.3 883.2 1451.5 909.2 1452.7 883.4 1453.9 905.6 1455.1 884.5 1456.3 933.6 1457.5 883.5 1458.7 934.6 1459.9 881.5 1461.1 911.1 1462.3 882.7 1463.5 911.3 1464.7 884.3 1465.9 911.8 1467.1 880.6 1468.2 914.5 1469.4 882.9 1470.6 910.3 1471.8 894.9 1472.9 914.0 1474.1 892.9 1475.3 932.7 1476.4 892.8 1477.6 944.6 1478.8 895.1 1480.0 885.3 1481.1 944.6 1482.3 882.8 1483.5 907.8 1484.6 884.5 1485.8 907.0 1486.9 889.0 1488.1 915.1 1489.3 885.8 1490.4 920.8 1491.6 883.9 1492.7 917.2 1493.9 885.7 1495.0 915.8 1496.2 887.9 1497.3 886.5 1498.4 912.3 1499.6 886.5 1500.7 909.9 1501.8 885.7 1502.9 908.8 1504.0 898.1 1505.2 920.6 1506.4 895.4 1507.6 923.2 1508.8 895.3 1510.0 922.1 1511.2 896.6 1512.4 919.8 1513.6 889.1 1514.8 918.7 1516.0 885.1 1517.1 918.5 1518.3 887.8 1519.5 917.5 1520.7 888.7 1521.8 890.4 1523.0 911.1 1524.1 888.9 1525.3 913.0 1526.4 888.7 1527.5 911.3 1528.7 889.0 1529.8 910.5 1531.0 892.2 1532.2 921.8 1533.4 891.0 1534.6 947.8 1535.8 890.1 1537.1 922.5 1538.3 890.6 1539.5 922.8 1540.7 890.8 1541.9 886.5 1543.0 916.6 1544.2 885.1 1545.3 920.0 1546.5 884.6 1547.6 919.2 1548.8 885.1 1549.9 954.8 1551.1 889.1 1552.2 898.1 1553.3 921.8 1554.4 896.2 1555.4 925.6 1556.5 895.6 1557.6 954.6 1558.7 896.6 1559.8 888.4 1561.0 942.6 1562.2 884.7 1563.3 964.0 1564.5 886.4 1565.7 922.2 1566.9 888.6 1568.0 887.2 1569.2 922.3 1570.3 885.2 1571.4 921.1 1572.5 888.3 1573.6 918.4 1574.8 892.0 1575.9 910.5 1577.0 890.2 1578.2 911.8 1579.3 890.4 1580.5 913.4 1581.6 892.5 1582.8 911.7 1583.9 889.2 1585.1 939.7 1586.3 888.3 1587.5 925.7 1588.6 888.1 1589.8 954.7 1591.0 890.2 1592.2 942.7 1593.4 890.7 1594.6 923.4 1595.8 887.5 1597.0 925.7 1598.2 892.3 1599.4 889.5 1600.7 919.2 1601.9 887.5 1603.1 922.2 1604.3 889.5 1605.6 917.5 1606.7 896.1 1607.9 917.2 1609.0 894.1 1610.1 916.9 1611.3 892.9 1612.4 916.3 1613.5 894.4 1614.7 942.9 1615.8 888.6 1617.0 917.3 1618.2 885.8 1619.3 919.2 1620.5 886.2 1621.7 919.8 1622.9 886.4 1624.0 916.7 1625.2 887.8 1626.3 889.6 1627.4 913.7 1628.5 888.0 1629.7 914.1 1630.8 889.1 1631.9 912.5 1633.0 892.2 1634.1 944.6 1635.2 888.8 1636.4 916.3 1637.5 889.9 1638.6 917.1 1639.7 892.4 1640.9 893.7 1642.1 923.2 1643.3 890.3 1644.5 927.8 1645.7 889.3 1646.9 928.8 1648.1 891.0 1649.2 924.3 1650.4 891.7 1651.6 897.2 1652.8 920.5 1654.0 896.1 1655.2 920.3 1656.4 896.4 1657.6 921.1 1658.8 897.1 1660.0 917.8 1661.2 898.0 1662.4 915.7 1663.6 896.2 1664.8 915.9 1665.9 897.5 1667.1 914.5 1668.3 897.8 1669.3 915.4 1670.4 896.7 1671.5 918.2 1672.6 897.4 1673.7 962.0 1674.8 897.5 1675.9 916.2 1677.0 892.5 1678.1 923.5 1679.3 893.2 1680.4 926.8 1681.5 891.5 1682.7 927.3 1683.8 892.9 1685.0 925.1 1686.1 893.3 1687.2 898.9 1688.3 962.5 1689.4 897.5 1690.5 929.0 1691.6 895.4 1692.7 929.3 1693.8 897.6 1694.9 925.1 1696.0 890.0 1697.1 953.0 1698.2 886.2 1699.3 929.0 1700.4 885.1 1701.6 929.4 1702.7 889.2 1703.8 925.9 1704.9 890.5 1706.0 899.7 1707.1 927.0 1708.2 898.4 1709.3 931.1 1710.4 896.6 1711.5 928.3 1712.6 899.2 1713.8 895.1 1715.0 920.9 1716.2 893.5 1717.4 920.1 1718.7 894.6 1719.9 921.9 1721.1 894.7 1722.3 893.7 1723.5 928.7 1724.7 888.5 1725.9 931.7 1727.1 888.8 1728.3 927.7 1729.5 889.4 1730.7 928.7 1731.9 894.6 1733.0 893.1 1734.2 919.3 1735.4 892.2 1736.6 923.1 1737.8 891.7 1739.0 920.5 1740.1 892.0 1741.3 921.5 1742.4 888.6 1743.6 924.9 1744.7 888.0 1745.9 925.5 1747.0 889.6 1748.2 922.2 1749.3 889.8 1750.4 917.8 1751.5 886.7 1752.5 916.7 1753.6 886.4 1754.7 917.5 1755.8 890.3" fill="none" stroke="#0000ff" stroke-width="3.6" stroke-linejoin="round"/>
<path clip-path="url(#cD1)" d="M1029.7 856.0 1030.9 886.8 1032.1 854.5 1033.2 887.2 1034.4 852.5 1035.6 887.8 1036.8 855.6 1038.0 860.8 1039.2 885.7 1040.4 857.8 1041.6 905.9 1042.9 857.7 1044.1 886.3 1045.3 859.7 1046.5 865.1 1047.6 891.1 1048.8 860.8 1049.9 892.8 1051.0 862.2 1052.2 893.2 1053.3 863.7 1054.5 888.5 1055.6 865.4 1056.7 897.2 1057.7 862.9 1058.8 898.8 1059.9 863.6 1061.0 895.7 1062.1 871.5 1063.3 892.0 1064.5 869.1 1065.7 893.3 1067.0 868.2 1068.2 892.5 1069.4 868.4 1070.6 890.5 1071.8 871.9 1073.0 861.0 1074.1 900.3 1075.2 858.7 1076.4 902.0 1077.5 859.0 1078.6 895.5 1079.8 862.5 1080.9 895.3 1082.1 857.8 1083.3 896.4 1084.4 859.3 1085.6 893.5 1086.7 869.3 1087.9 898.1 1089.1 869.2 1090.3 922.7 1091.4 868.9 1092.6 895.6 1093.8 870.8 1095.0 867.5 1096.2 904.0 1097.4 866.4 1098.6 905.3 1099.8 863.5 1101.0 914.2 1102.2 867.0 1103.4 875.4 1104.5 896.6 1105.6 872.7 1106.7 897.8 1107.8 872.8 1108.9 898.7 1110.0 872.9 1111.1 896.8 1112.2 874.4 1113.3 894.1 1114.4 867.4 1115.5 953.9 1116.5 863.4 1117.6 904.9 1118.7 864.6 1119.8 903.9 1120.9 866.9 1122.0 870.2 1123.1 896.6 1124.2 867.6 1125.2 899.3 1126.3 866.5 1127.4 897.9 1128.5 865.9 1129.6 914.2 1130.7 867.9 1131.9 876.8 1133.0 909.0 1134.2 876.6 1135.4 909.0 1136.6 876.6 1137.8 908.4 1139.0 874.6 1140.2 909.1 1141.4 878.2 1142.6 870.2 1143.8 898.7 1145.0 869.0 1146.1 902.3 1147.3 866.7 1148.5 901.0 1149.7 870.3 1150.8 898.6 1152.0 870.7 1153.1 876.0 1154.2 907.2 1155.2 874.3 1156.3 912.7 1157.4 874.8 1158.4 906.3 1159.5 869.2 1160.6 898.3 1161.6 866.9 1162.7 896.4 1163.8 865.9 1164.9 895.4 1165.9 871.1 1167.0 907.9 1168.1 868.9 1169.2 909.6 1170.3 871.2 1171.4 903.2 1172.5 871.6 1173.6 902.8 1174.8 870.0 1175.9 904.1 1177.0 869.0 1178.1 902.3 1179.2 869.1 1180.3 901.6 1181.4 871.4 1182.5 879.3 1183.7 899.2 1184.9 877.4 1186.0 900.6 1187.2 877.9 1188.3 898.4 1189.5 873.7 1190.6 910.5 1191.7 871.0 1192.8 910.6 1193.9 871.0 1195.0 922.9 1196.1 880.6 1197.3 896.2 1198.5 878.1 1199.7 898.7 1200.9 878.7 1202.1 899.3 1203.3 878.9 1204.6 897.2 1205.8 880.0 1206.9 875.4 1208.1 902.8 1209.3 871.2 1210.5 903.7 1211.6 873.0 1212.8 899.9 1214.0 886.0 1215.0 905.6 1216.1 884.4 1217.2 906.6 1218.3 884.5 1219.4 933.5 1220.5 878.9 1221.6 913.9 1222.7 876.6 1223.8 917.2 1224.8 873.8 1225.9 916.3 1227.0 874.8 1228.1 924.3 1229.2 877.2 1230.3 879.9 1231.4 908.1 1232.5 878.2 1233.5 907.5 1234.6 880.4 1235.7 906.5 1236.8 876.5 1237.9 903.9 1239.0 872.9 1240.2 907.8 1241.3 874.1 1242.4 904.5 1243.5 876.3 1244.6 886.2 1245.8 913.2 1246.9 883.6 1248.0 914.3 1249.1 885.1 1250.2 912.9 1251.3 885.5 1252.4 914.0 1253.5 883.4 1254.7 937.3 1255.9 881.8 1257.1 911.1 1258.2 882.0 1259.4 911.2 1260.6 882.7 1261.7 910.4 1262.9 882.5 1264.1 887.1 1265.3 901.2 1266.5 886.2 1267.7 902.7 1269.0 885.6 1270.2 901.2 1271.4 886.4 1272.6 900.2 1273.8 883.8 1274.9 914.0 1276.1 879.7 1277.2 940.4 1278.4 879.0 1279.6 914.6 1280.7 882.5 1281.9 913.2 1283.0 884.4 1284.2 888.3 1285.5 908.1 1286.7 885.4 1287.9 909.1 1289.2 887.6 1290.4 886.4 1291.6 912.2 1292.8 884.1 1294.1 915.0 1295.3 884.1 1296.5 935.7 1297.7 884.5 1298.8 915.2 1300.0 882.1 1301.1 915.1 1302.2 883.4 1303.4 911.7 1304.5 888.7 1305.6 916.2 1306.7 884.7 1307.8 932.1 1308.9 885.9 1310.0 915.6 1311.1 885.4 1312.2 915.6 1313.4 878.6 1314.5 914.7 1315.7 878.7 1316.9 914.0 1318.1 877.5 1319.2 915.2 1320.4 876.9 1321.6 915.3 1322.8 881.4 1323.9 880.4 1325.1 913.8 1326.3 875.9 1327.5 936.7 1328.6 878.3 1329.8 911.5 1331.0 880.4 1332.1 878.0 1333.2 901.3 1334.3 877.3 1335.5 902.4 1336.6 875.9 1337.7 904.4 1338.8 876.9 1339.9 902.5 1341.0 884.8 1342.3 912.4 1343.5 882.5 1344.7 910.6 1345.9 882.3 1347.1 912.9 1348.3 882.2 1349.5 909.2 1350.7 885.4 1351.9 880.3 1353.0 906.0 1354.1 876.9 1355.3 906.2 1356.4 877.7 1357.5 904.3 1358.6 892.6 1359.8 908.5 1361.0 890.5 1362.2 909.3 1363.4 891.3 1364.6 910.0 1365.8 892.7 1367.0 908.8 1368.1 887.6 1369.3 908.6 1370.6 886.1 1371.8 907.7 1373.0 885.7 1374.2 908.9 1375.4 889.2 1376.5 885.9 1377.6 909.3 1378.6 881.5 1379.7 944.6 1380.7 882.8 1381.8 908.8 1382.9 885.8 1384.2 911.0 1385.4 883.5 1386.6 909.9 1387.8 883.7 1389.0 911.3 1390.2 886.4 1391.4 907.2 1392.6 885.1 1393.7 906.1 1394.8 884.9 1395.9 936.2 1397.0 885.2 1398.1 934.4 1399.2 886.7 1400.4 890.0 1401.5 914.9 1402.7 888.8 1403.8 918.3 1405.0 889.0 1406.1 914.3 1407.3 891.8 1408.4 882.2 1409.6 907.6 1410.7 881.6 1411.9 912.7 1413.0 880.3 1414.1 908.9 1415.3 881.9 1416.4 928.9 1417.5 885.5 1418.6 907.2 1419.7 885.0 1420.7 905.9 1421.8 885.1 1422.9 904.7 1424.0 883.2 1425.2 909.7 1426.4 879.8 1427.6 909.7 1428.8 880.8 1430.0 907.8 1431.2 881.0 1432.4 945.2 1433.6 890.0 1434.8 911.2 1436.0 889.1 1437.1 912.9 1438.3 887.8 1439.5 912.0 1440.6 891.4 1441.8 888.1 1443.1 921.5 1444.3 886.3 1445.5 936.2 1446.8 888.9 1448.0 883.9 1449.2 904.1 1450.3 883.6 1451.5 902.7 1452.7 883.3 1453.9 944.7 1455.1 884.2 1456.3 901.6 1457.5 884.5 1458.7 930.0 1459.9 882.3 1461.1 927.5 1462.3 882.6 1463.5 912.4 1464.7 883.4 1465.9 914.5 1467.1 881.7 1468.2 915.4 1469.4 882.7 1470.6 935.1 1471.8 892.4 1472.9 912.5 1474.1 892.0 1475.3 912.8 1476.4 891.4 1477.6 942.4 1478.8 892.4 1480.0 886.8 1481.1 908.8 1482.3 882.5 1483.5 908.8 1484.6 885.0 1485.8 907.8 1486.9 887.3 1488.1 918.6 1489.3 885.0 1490.4 922.8 1491.6 884.1 1492.7 920.0 1493.9 884.2 1495.0 919.3 1496.2 887.3 1497.3 888.6 1498.4 930.0 1499.6 886.1 1500.7 908.6 1501.8 887.5 1502.9 906.1 1504.0 897.3 1505.2 923.1 1506.4 895.8 1507.6 926.1 1508.8 895.0 1510.0 922.5 1511.2 897.3 1512.4 920.6 1513.6 887.0 1514.8 946.4 1516.0 886.7 1517.1 923.8 1518.3 886.0 1519.5 921.3 1520.7 888.4 1521.8 890.8 1523.0 942.7 1524.1 889.0 1525.3 913.1 1526.4 888.2 1527.5 915.2 1528.7 890.3 1529.8 913.6 1531.0 891.4 1532.2 920.4 1533.4 889.1 1534.6 921.7 1535.8 889.2 1537.1 952.2 1538.3 889.3 1539.5 919.2 1540.7 891.9 1541.9 886.8 1543.0 913.7 1544.2 883.8 1545.3 914.3 1546.5 883.6 1547.6 916.3 1548.8 885.6 1549.9 913.4 1551.1 886.8 1552.2 897.4 1553.3 924.4 1554.4 896.9 1555.4 926.5 1556.5 895.9 1557.6 923.4 1558.7 898.9 1559.8 885.7 1561.0 925.9 1562.2 884.1 1563.3 960.0 1564.5 883.5 1565.7 927.2 1566.9 887.3 1568.0 888.4 1569.2 963.8 1570.3 886.5 1571.4 919.0 1572.5 885.8 1573.6 963.5 1574.8 893.5 1575.9 915.3 1577.0 890.7 1578.2 956.8 1579.3 889.6 1580.5 915.6 1581.6 892.4 1582.8 913.7 1583.9 891.6 1585.1 924.5 1586.3 888.8 1587.5 948.5 1588.6 886.5 1589.8 923.3 1591.0 890.4 1592.2 920.8 1593.4 894.2 1594.6 927.0 1595.8 889.6 1597.0 929.8 1598.2 892.9 1599.4 890.1 1600.7 918.5 1601.9 887.1 1603.1 919.6 1604.3 889.9 1605.6 916.8 1606.7 896.7 1607.9 920.1 1609.0 893.8 1610.1 919.7 1611.3 893.8 1612.4 919.6 1613.5 895.8 1614.7 918.4 1615.8 890.1 1617.0 915.9 1618.2 887.3 1619.3 916.9 1620.5 887.1 1621.7 919.5 1622.9 887.8 1624.0 917.9 1625.2 887.9 1626.3 890.6 1627.4 911.7 1628.5 888.2 1629.7 914.7 1630.8 887.3 1631.9 911.3 1633.0 892.6 1634.1 916.2 1635.2 890.4 1636.4 916.8 1637.5 891.1 1638.6 916.3 1639.7 893.2 1640.9 890.6 1642.1 924.2 1643.3 888.4 1644.5 926.7 1645.7 887.8 1646.9 928.8 1648.1 887.9 1649.2 923.8 1650.4 891.7 1651.6 899.7 1652.8 921.4 1654.0 898.2 1655.2 922.6 1656.4 897.5 1657.6 923.3 1658.8 899.3 1660.0 920.7 1661.2 901.0 1662.4 917.7 1663.6 897.9 1664.8 918.4 1665.9 899.9 1667.1 916.4 1668.3 898.8 1669.3 919.6 1670.4 897.5 1671.5 918.3 1672.6 898.0 1673.7 960.7 1674.8 897.8 1675.9 918.1 1677.0 893.5 1678.1 953.3 1679.3 891.5 1680.4 921.9 1681.5 891.2 1682.7 922.4 1683.8 892.1 1685.0 922.1 1686.1 892.9 1687.2 898.8 1688.3 928.3 1689.4 895.2 1690.5 928.4 1691.6 896.8 1692.7 926.4 1693.8 896.8 1694.9 924.3 1696.0 893.4 1697.1 925.5 1698.2 890.6 1699.3 927.8 1700.4 887.9 1701.6 932.6 1702.7 888.5 1703.8 951.1 1704.9 893.0 1706.0 901.5 1707.1 958.8 1708.2 898.9 1709.3 929.4 1710.4 898.8 1711.5 928.6 1712.6 898.9 1713.8 895.8 1715.0 922.9 1716.2 892.4 1717.4 922.1 1718.7 892.3 1719.9 921.6 1721.1 893.3 1722.3 893.0 1723.5 926.5 1724.7 889.3 1725.9 929.5 1727.1 890.0 1728.3 928.0 1729.5 892.7 1730.7 927.2 1731.9 894.0 1733.0 893.4 1734.2 920.0 1735.4 891.5 1736.6 918.8 1737.8 890.7 1739.0 954.0 1740.1 893.1 1741.3 923.6 1742.4 887.8 1743.6 946.9 1744.7 887.9 1745.9 924.6 1747.0 890.0 1748.2 921.2 1749.3 887.1 1750.4 944.4 1751.5 886.4 1752.5 914.1 1753.6 886.9 1754.7 914.8 1755.8 887.4" fill="none" stroke="#ff0000" stroke-width="2.9" stroke-linejoin="round" stroke-dasharray="16 10"/>
<path d="M1144.0 1019.3V1010.3M1144.0 812.6V821.6M1294.9 1019.3V1010.3M1294.9 812.6V821.6M1445.7 1019.3V1010.3M1445.7 812.6V821.6M1596.6 1019.3V1010.3M1596.6 812.6V821.6M1031.1 863.7H1040.1M1748.9 863.7H1739.9M1031.1 991.9H1040.1M1748.9 991.9H1739.9" stroke="#000" stroke-width="1.9" fill="none"/>
<rect x="1031.1" y="812.6" width="717.8" height="206.7" fill="none" stroke="#000" stroke-width="1.9"/>
<g font-size="37"><text x="1144.0" y="1064.5" text-anchor="middle">2</text><text x="1294.9" y="1064.5" text-anchor="middle">4</text><text x="1445.7" y="1064.5" text-anchor="middle">6</text><text x="1596.6" y="1064.5" text-anchor="middle">8</text><text x="1747.5" y="1064.5" text-anchor="middle">10</text><text x="1018.1" y="876.5" text-anchor="end">50</text><text x="1018.1" y="1004.7" text-anchor="end">100</text></g>
<line x1="1565.9" y1="826.1" x2="1633.6" y2="826.1" stroke="#0000ff" stroke-width="3.2"/>
<line x1="1564.4" y1="858.6" x2="1635.1" y2="858.6" stroke="#dd0000" stroke-width="2.6" stroke-dasharray="16.5 10.5"/>
<g font-size="27.2"><text x="1640.0" y="835.2">Bellhop</text><text x="1640.0" y="867.7">Scooter</text></g>
<line x1="1144.3" y1="1086.0" x2="1144.3" y2="1304.2" stroke="#dcdcdc" stroke-width="1.1"/>
<line x1="1295.1" y1="1086.0" x2="1295.1" y2="1304.2" stroke="#dcdcdc" stroke-width="1.1"/>
<line x1="1445.8" y1="1086.0" x2="1445.8" y2="1304.2" stroke="#dcdcdc" stroke-width="1.1"/>
<line x1="1596.6" y1="1086.0" x2="1596.6" y2="1304.2" stroke="#dcdcdc" stroke-width="1.1"/>
<line x1="1031.4" y1="1140.2" x2="1748.9" y2="1140.2" stroke="#dcdcdc" stroke-width="1.1"/>
<line x1="1031.4" y1="1277.0" x2="1748.9" y2="1277.0" stroke="#dcdcdc" stroke-width="1.1"/>
<clipPath id="cD2"><rect x="1031.4" y="1086.0" width="717.5" height="218.2"/></clipPath>
<path clip-path="url(#cD2)" d="M1030.0 1137.3 1031.1 1179.4 1032.2 1135.1 1033.4 1201.7 1034.5 1136.2 1035.7 1176.5 1036.8 1142.6 1038.0 1175.2 1039.2 1137.2 1040.4 1177.0 1041.5 1139.6 1042.7 1173.1 1043.9 1134.2 1045.1 1177.1 1046.3 1132.2 1047.6 1185.8 1048.8 1131.3 1050.0 1179.5 1051.2 1135.4 1052.4 1131.5 1053.5 1179.9 1054.6 1131.1 1055.7 1188.3 1056.9 1128.4 1058.0 1182.9 1059.1 1132.9 1060.2 1203.2 1061.4 1130.4 1062.5 1174.4 1063.7 1127.4 1064.9 1205.3 1066.1 1129.7 1067.3 1175.3 1068.5 1142.8 1069.6 1187.8 1070.8 1140.9 1072.0 1185.1 1073.1 1137.9 1074.3 1189.3 1075.4 1141.4 1076.6 1183.5 1077.7 1144.7 1078.9 1134.2 1080.1 1186.3 1081.3 1131.1 1082.5 1189.9 1083.8 1130.9 1085.0 1189.3 1086.2 1135.9 1087.3 1149.8 1088.5 1173.7 1089.6 1148.0 1090.7 1176.0 1091.9 1146.3 1093.0 1172.6 1094.1 1144.4 1095.3 1209.5 1096.5 1141.4 1097.7 1186.6 1098.9 1138.5 1100.1 1187.4 1101.2 1144.1 1102.4 1137.9 1103.6 1193.3 1104.7 1133.9 1105.9 1192.6 1107.0 1136.4 1108.2 1190.4 1109.3 1139.2 1110.4 1175.0 1111.5 1133.8 1112.6 1176.9 1113.7 1132.2 1114.8 1180.1 1115.9 1133.6 1117.0 1174.8 1118.1 1138.8 1119.3 1150.6 1120.5 1220.1 1121.7 1149.2 1122.9 1188.0 1124.2 1147.3 1125.4 1185.1 1126.6 1148.6 1127.8 1223.9 1129.0 1145.3 1130.1 1200.8 1131.2 1142.0 1132.3 1203.2 1133.4 1143.3 1134.5 1195.3 1135.6 1161.0 1136.8 1220.5 1138.0 1156.8 1139.2 1199.5 1140.4 1156.2 1141.5 1197.9 1142.7 1156.4 1143.9 1198.2 1145.1 1157.3 1146.3 1146.2 1147.4 1196.3 1148.6 1141.6 1149.8 1224.7 1151.0 1139.4 1152.1 1193.6 1153.3 1144.6 1154.5 1140.3 1155.8 1218.1 1157.0 1138.6 1158.2 1178.3 1159.4 1139.9 1160.7 1148.6 1161.9 1190.2 1163.1 1146.1 1164.3 1191.6 1165.5 1145.2 1166.7 1190.4 1167.9 1148.9 1169.1 1150.2 1170.3 1194.2 1171.5 1149.6 1172.7 1193.6 1173.9 1147.6 1175.0 1228.7 1176.2 1146.8 1177.4 1184.1 1178.5 1140.0 1179.7 1184.5 1180.8 1144.1 1182.0 1233.6 1183.1 1152.8 1184.2 1199.1 1185.3 1151.8 1186.4 1222.3 1187.5 1151.5 1188.6 1201.4 1189.7 1156.3 1190.8 1157.5 1191.9 1222.1 1192.9 1156.9 1194.0 1221.8 1195.0 1155.4 1196.1 1196.3 1197.2 1153.1 1198.4 1184.1 1199.5 1151.3 1200.7 1184.3 1201.9 1150.8 1203.1 1184.3 1204.3 1151.6 1205.4 1182.2 1206.6 1165.0 1207.7 1197.0 1208.9 1162.7 1210.0 1220.3 1211.2 1164.1 1212.3 1196.3 1213.5 1164.7 1214.6 1155.6 1215.8 1201.2 1217.0 1151.5 1218.1 1204.3 1219.3 1150.4 1220.4 1201.1 1221.6 1151.3 1222.7 1202.0 1223.9 1156.5 1225.1 1149.2 1226.2 1187.3 1227.4 1148.4 1228.5 1187.8 1229.7 1145.5 1230.8 1187.6 1232.0 1147.2 1233.1 1227.2 1234.3 1151.1 1235.4 1153.9 1236.5 1205.5 1237.6 1151.9 1238.7 1204.6 1239.8 1151.7 1240.9 1203.5 1242.0 1153.7 1243.1 1203.7 1244.2 1155.1 1245.3 1155.6 1246.5 1202.7 1247.8 1149.5 1249.0 1245.0 1250.2 1148.5 1251.4 1232.4 1252.5 1151.4 1253.6 1187.5 1254.7 1146.1 1255.7 1186.2 1256.8 1148.4 1257.8 1182.1 1259.0 1154.9 1260.2 1232.2 1261.4 1153.3 1262.6 1186.2 1263.8 1151.3 1265.1 1186.6 1266.3 1154.4 1267.5 1232.1 1268.6 1166.0 1269.7 1205.3 1270.8 1162.2 1271.9 1207.9 1272.9 1158.0 1274.0 1233.8 1275.1 1161.1 1276.2 1205.4 1277.3 1162.1 1278.4 1244.0 1279.6 1161.9 1280.7 1197.0 1281.8 1158.5 1282.9 1250.7 1284.1 1160.0 1285.2 1234.5 1286.3 1164.3 1287.5 1160.6 1288.7 1201.5 1289.8 1154.0 1291.0 1206.5 1292.1 1154.8 1293.3 1200.7 1294.5 1157.1 1295.6 1157.8 1296.7 1202.7 1297.8 1152.3 1298.8 1238.3 1299.9 1152.8 1301.0 1204.8 1302.1 1150.9 1303.2 1202.0 1304.3 1172.8 1305.5 1200.5 1306.7 1168.3 1307.8 1199.3 1309.0 1167.6 1310.2 1237.3 1311.4 1170.8 1312.6 1199.7 1313.7 1169.9 1314.9 1205.8 1316.0 1164.5 1317.2 1206.9 1318.3 1164.1 1319.5 1228.0 1320.6 1167.4 1321.8 1242.1 1322.9 1170.0 1324.1 1208.5 1325.2 1167.2 1326.4 1210.6 1327.5 1166.6 1328.7 1222.5 1329.8 1170.1 1330.9 1155.4 1332.0 1203.2 1333.1 1154.1 1334.2 1202.5 1335.2 1155.2 1336.3 1198.3 1337.4 1169.8 1338.5 1207.3 1339.7 1166.8 1340.8 1209.3 1341.9 1166.1 1343.0 1205.5 1344.1 1158.7 1345.2 1237.7 1346.3 1153.5 1347.4 1206.6 1348.5 1153.9 1349.5 1209.4 1350.6 1158.1 1351.7 1202.6 1352.8 1154.6 1354.0 1198.1 1355.1 1151.4 1356.2 1197.9 1357.4 1153.9 1358.5 1194.2 1359.6 1155.9 1360.7 1193.3 1361.8 1151.4 1362.9 1192.8 1364.0 1150.1 1365.1 1245.0 1366.2 1151.2 1367.3 1191.3 1368.4 1168.6 1369.5 1202.6 1370.6 1168.6 1371.7 1204.8 1372.8 1166.0 1373.9 1205.0 1375.0 1165.5 1376.1 1240.0 1377.2 1169.1 1378.3 1167.3 1379.6 1201.3 1380.9 1166.2 1382.1 1234.7 1383.4 1168.4 1384.6 1166.1 1385.8 1243.1 1387.1 1164.4 1388.3 1253.6 1389.5 1166.3 1390.7 1208.6 1391.9 1159.1 1393.0 1208.8 1394.1 1156.0 1395.3 1230.2 1396.4 1152.9 1397.5 1205.7 1398.7 1158.3 1399.8 1162.1 1401.1 1205.9 1402.3 1159.4 1403.5 1213.6 1404.7 1157.0 1405.9 1212.0 1407.1 1160.7 1408.3 1159.8 1409.4 1189.7 1410.6 1158.6 1411.7 1245.2 1412.8 1156.8 1413.9 1190.4 1415.1 1158.8 1416.2 1190.2 1417.3 1166.2 1418.4 1235.6 1419.5 1163.7 1420.5 1201.7 1421.6 1164.5 1422.7 1200.1 1423.8 1166.7 1424.9 1166.6 1426.2 1205.2 1427.5 1164.1 1428.7 1207.1 1430.0 1169.4 1431.2 1176.9 1432.3 1209.1 1433.3 1175.2 1434.4 1212.8 1435.5 1175.8 1436.6 1233.9 1437.7 1178.2 1438.7 1169.9 1439.8 1205.7 1440.9 1167.4 1441.9 1207.9 1443.0 1167.5 1444.1 1200.4 1445.2 1158.0 1446.3 1200.7 1447.4 1153.7 1448.6 1207.0 1449.7 1154.9 1450.8 1206.8 1452.0 1158.0 1453.1 1202.7 1454.3 1162.1 1455.5 1204.2 1456.8 1158.0 1458.0 1206.8 1459.2 1156.4 1460.4 1205.3 1461.7 1164.2 1462.9 1163.3 1464.2 1199.2 1465.4 1157.4 1466.6 1229.9 1467.9 1162.5 1469.1 1167.3 1470.2 1207.2 1471.3 1167.0 1472.4 1209.6 1473.6 1164.0 1474.7 1212.5 1475.8 1165.2 1476.9 1204.9 1478.0 1169.8 1479.2 1162.5 1480.3 1193.0 1481.4 1158.5 1482.6 1194.0 1483.7 1158.8 1484.8 1236.0 1486.0 1160.4 1487.1 1164.4 1488.1 1198.8 1489.2 1158.8 1490.3 1199.2 1491.4 1162.1 1492.4 1196.6 1493.5 1169.8 1494.7 1200.2 1495.9 1166.6 1497.0 1246.8 1498.2 1165.3 1499.4 1201.9 1500.5 1168.2 1501.7 1198.7 1502.8 1170.3 1504.0 1173.4 1505.2 1257.6 1506.3 1170.4 1507.5 1201.1 1508.7 1169.0 1509.8 1200.6 1511.0 1170.6 1512.2 1198.9 1513.4 1174.0 1514.6 1233.4 1515.8 1172.1 1517.0 1203.8 1518.2 1174.4 1519.4 1241.0 1520.5 1176.3 1521.7 1213.7 1522.8 1172.2 1523.9 1248.9 1525.0 1173.1 1526.2 1215.9 1527.3 1174.1 1528.4 1214.0 1529.5 1177.7 1530.6 1162.0 1531.7 1239.0 1532.8 1158.4 1533.9 1209.6 1535.0 1158.3 1536.0 1212.8 1537.1 1161.4 1538.2 1160.7 1539.3 1194.1 1540.4 1158.0 1541.5 1196.3 1542.6 1156.5 1543.7 1194.1 1544.8 1158.4 1545.9 1228.4 1547.0 1164.0 1548.3 1193.2 1549.5 1160.1 1550.7 1194.4 1551.9 1160.7 1553.1 1193.1 1554.3 1162.1 1555.5 1253.6 1556.7 1161.2 1557.9 1204.6 1559.1 1159.7 1560.3 1200.9 1561.5 1156.1 1562.7 1200.4 1563.9 1157.3 1565.1 1201.4 1566.3 1161.8 1567.4 1211.6 1568.6 1158.1 1569.8 1247.3 1571.0 1155.8 1572.1 1208.7 1573.3 1160.2 1574.5 1206.2 1575.7 1174.5 1576.9 1202.2 1578.1 1171.2 1579.3 1251.9 1580.5 1172.8 1581.7 1253.5 1582.9 1167.9 1584.1 1206.2 1585.3 1166.0 1586.4 1213.3 1587.6 1165.6 1588.8 1205.0 1589.9 1165.8 1591.1 1203.8 1592.3 1162.9 1593.5 1247.0 1594.7 1158.5 1595.9 1248.7 1597.1 1160.4 1598.3 1233.8 1599.5 1165.4 1600.7 1164.1 1601.9 1214.0 1603.1 1157.1 1604.4 1228.8 1605.6 1157.2 1606.8 1205.2 1608.0 1178.0 1609.2 1202.0 1610.3 1176.6 1611.5 1202.5 1612.7 1177.2 1613.8 1197.7 1615.0 1172.0 1616.2 1207.6 1617.4 1168.1 1618.5 1246.0 1619.7 1169.5 1620.9 1233.3 1622.1 1168.3 1623.3 1207.3 1624.5 1170.6 1625.7 1167.7 1626.9 1213.2 1628.2 1164.2 1629.4 1213.3 1630.6 1165.8 1631.9 1169.5 1633.1 1211.0 1634.3 1162.1 1635.5 1210.9 1636.7 1167.1 1637.9 1177.8 1639.1 1250.8 1640.3 1173.1 1641.4 1216.3 1642.6 1175.2 1643.8 1212.3 1645.0 1178.3 1646.1 1173.4 1647.2 1214.0 1648.3 1173.3 1649.4 1215.2 1650.6 1171.9 1651.7 1217.6 1652.8 1170.2 1653.9 1246.9 1655.0 1173.3 1656.1 1166.9 1657.3 1211.9 1658.4 1158.8 1659.6 1214.6 1660.7 1160.5 1661.9 1206.5 1663.0 1172.3 1664.1 1199.1 1665.3 1169.9 1666.4 1237.2 1667.5 1169.9 1668.6 1199.8 1669.7 1170.4 1670.8 1200.0 1671.9 1172.3 1673.1 1168.3 1674.3 1198.9 1675.5 1165.4 1676.7 1199.6 1678.0 1166.6 1679.2 1174.8 1680.4 1214.7 1681.6 1172.6 1682.8 1215.4 1684.0 1169.1 1685.3 1213.6 1686.5 1171.9 1687.7 1240.0 1688.9 1170.8 1690.0 1206.2 1691.1 1164.3 1692.2 1212.2 1693.3 1165.5 1694.5 1250.1 1695.6 1165.2 1696.7 1210.9 1697.8 1167.3 1698.9 1167.1 1700.0 1209.9 1701.2 1164.2 1702.3 1244.8 1703.4 1161.3 1704.5 1213.0 1705.6 1162.8 1706.7 1207.0 1707.8 1167.6 1708.9 1171.5 1710.0 1245.0 1711.1 1164.2 1712.1 1217.2 1713.2 1167.6 1714.3 1232.3 1715.3 1171.2 1716.4 1168.6 1717.5 1216.8 1718.5 1162.3 1719.6 1214.2 1720.6 1166.2 1721.7 1239.1 1722.8 1165.0 1724.0 1209.2 1725.3 1159.2 1726.5 1211.0 1727.7 1159.7 1728.9 1206.1 1730.1 1172.5 1731.3 1234.8 1732.5 1168.9 1733.7 1244.0 1734.8 1166.0 1736.0 1215.6 1737.2 1169.1 1738.4 1214.7 1739.6 1167.7 1740.7 1232.1 1741.9 1166.3 1743.1 1207.0 1744.3 1164.5 1745.5 1241.3 1746.7 1166.4 1747.8 1202.6 1749.0 1166.1 1750.2 1167.7 1751.4 1202.4 1752.6 1163.3 1753.8 1202.2 1755.0 1163.5 1756.2 1228.2 1757.4 1164.8 1758.7 1240.1" fill="none" stroke="#0000ff" stroke-width="3.6" stroke-linejoin="round"/>
<path clip-path="url(#cD2)" d="M1030.0 1142.8 1031.1 1167.1 1032.2 1140.4 1033.4 1165.8 1034.5 1140.6 1035.7 1165.8 1036.8 1138.6 1038.0 1178.1 1039.2 1137.1 1040.4 1176.0 1041.5 1138.4 1042.7 1173.3 1043.9 1133.0 1045.1 1196.9 1046.3 1130.6 1047.6 1167.6 1048.8 1128.5 1050.0 1169.9 1051.2 1132.9 1052.4 1136.2 1053.5 1170.5 1054.6 1131.8 1055.7 1173.6 1056.9 1132.4 1058.0 1171.7 1059.1 1134.3 1060.2 1169.4 1061.4 1134.1 1062.5 1165.2 1063.7 1130.6 1064.9 1163.3 1066.1 1131.5 1067.3 1163.4 1068.5 1147.1 1069.6 1177.2 1070.8 1145.0 1072.0 1178.5 1073.1 1145.1 1074.3 1178.9 1075.4 1146.2 1076.6 1174.3 1077.7 1145.9 1078.9 1139.5 1080.1 1182.7 1081.3 1131.8 1082.5 1186.8 1083.8 1131.9 1085.0 1185.9 1086.2 1138.9 1087.3 1151.1 1088.5 1176.0 1089.6 1149.9 1090.7 1178.3 1091.9 1150.4 1093.0 1173.1 1094.1 1145.3 1095.3 1206.4 1096.5 1143.9 1097.7 1174.5 1098.9 1142.3 1100.1 1176.0 1101.2 1144.4 1102.4 1141.0 1103.6 1182.8 1104.7 1137.3 1105.9 1185.2 1107.0 1136.7 1108.2 1179.5 1109.3 1136.6 1110.4 1167.4 1111.5 1136.3 1112.6 1168.6 1113.7 1134.2 1114.8 1238.0 1115.9 1136.2 1117.0 1166.0 1118.1 1136.5 1119.3 1155.5 1120.5 1179.3 1121.7 1152.5 1122.9 1181.1 1124.2 1152.2 1125.4 1182.4 1126.6 1152.9 1127.8 1178.0 1129.0 1151.7 1130.1 1192.3 1131.2 1145.4 1132.3 1196.7 1133.4 1145.2 1134.5 1189.7 1135.6 1163.8 1136.8 1193.1 1138.0 1161.4 1139.2 1194.3 1140.4 1159.6 1141.5 1192.4 1142.7 1159.3 1143.9 1191.7 1145.1 1162.0 1146.3 1149.4 1147.4 1188.9 1148.6 1142.2 1149.8 1191.8 1151.0 1142.6 1152.1 1191.6 1153.3 1146.5 1154.5 1141.4 1155.8 1179.9 1157.0 1138.7 1158.2 1181.1 1159.4 1143.0 1160.7 1147.0 1161.9 1186.8 1163.1 1146.7 1164.3 1186.2 1165.5 1146.0 1166.7 1185.6 1167.9 1149.5 1169.1 1155.0 1170.3 1186.4 1171.5 1151.5 1172.7 1189.6 1173.9 1152.9 1175.0 1184.1 1176.2 1144.5 1177.4 1178.6 1178.5 1141.4 1179.7 1183.9 1180.8 1143.9 1182.0 1179.0 1183.1 1154.6 1184.2 1190.0 1185.3 1152.7 1186.4 1193.4 1187.5 1154.1 1188.6 1192.4 1189.7 1156.6 1190.8 1155.8 1191.9 1191.2 1192.9 1155.5 1194.0 1194.3 1195.0 1153.7 1196.1 1193.0 1197.2 1153.6 1198.4 1182.2 1199.5 1149.7 1200.7 1184.5 1201.9 1149.3 1203.1 1186.7 1204.3 1150.5 1205.4 1183.6 1206.6 1165.6 1207.7 1189.3 1208.9 1165.6 1210.0 1221.4 1211.2 1165.4 1212.3 1190.7 1213.5 1166.6 1214.6 1153.3 1215.8 1197.2 1217.0 1153.7 1218.1 1195.2 1219.3 1150.4 1220.4 1199.7 1221.6 1151.6 1222.7 1195.5 1223.9 1155.9 1225.1 1153.0 1226.2 1178.4 1227.4 1151.4 1228.5 1180.4 1229.7 1150.2 1230.8 1183.0 1232.0 1150.9 1233.1 1179.0 1234.3 1154.2 1235.4 1154.0 1236.5 1199.2 1237.6 1151.4 1238.7 1196.1 1239.8 1149.3 1240.9 1201.0 1242.0 1153.8 1243.1 1193.6 1244.2 1153.1 1245.3 1152.7 1246.5 1195.9 1247.8 1148.5 1249.0 1228.3 1250.2 1151.1 1251.4 1192.1 1252.5 1151.6 1253.6 1178.5 1254.7 1149.4 1255.7 1180.5 1256.8 1149.0 1257.8 1225.6 1259.0 1156.7 1260.2 1181.2 1261.4 1154.7 1262.6 1184.1 1263.8 1155.4 1265.1 1181.6 1266.3 1156.4 1267.5 1182.1 1268.6 1164.5 1269.7 1204.3 1270.8 1159.7 1271.9 1203.6 1272.9 1157.6 1274.0 1205.0 1275.1 1161.0 1276.2 1203.2 1277.3 1162.1 1278.4 1191.2 1279.6 1162.1 1280.7 1190.3 1281.8 1159.6 1282.9 1192.4 1284.1 1160.5 1285.2 1189.2 1286.3 1162.6 1287.5 1158.0 1288.7 1199.6 1289.8 1157.5 1291.0 1203.7 1292.1 1157.4 1293.3 1199.6 1294.5 1161.9 1295.6 1159.9 1296.7 1199.5 1297.8 1153.9 1298.8 1200.8 1299.9 1154.8 1301.0 1199.2 1302.1 1155.3 1303.2 1197.0 1304.3 1171.5 1305.5 1188.9 1306.7 1170.6 1307.8 1190.3 1309.0 1169.8 1310.2 1188.7 1311.4 1170.8 1312.6 1188.9 1313.7 1171.6 1314.9 1195.9 1316.0 1169.5 1317.2 1195.0 1318.3 1168.6 1319.5 1225.4 1320.6 1170.4 1321.8 1193.4 1322.9 1170.9 1324.1 1199.2 1325.2 1169.5 1326.4 1199.8 1327.5 1169.7 1328.7 1201.9 1329.8 1171.4 1330.9 1155.0 1332.0 1213.0 1333.1 1151.3 1334.2 1192.5 1335.2 1154.9 1336.3 1190.4 1337.4 1168.4 1338.5 1197.7 1339.7 1165.1 1340.8 1195.5 1341.9 1167.0 1343.0 1195.2 1344.1 1160.9 1345.2 1199.2 1346.3 1157.8 1347.4 1205.8 1348.5 1155.9 1349.5 1201.6 1350.6 1158.3 1351.7 1201.0 1352.8 1157.4 1354.0 1185.0 1355.1 1154.5 1356.2 1188.5 1357.4 1155.6 1358.5 1185.7 1359.6 1155.4 1360.7 1180.9 1361.8 1154.5 1362.9 1181.0 1364.0 1154.1 1365.1 1182.4 1366.2 1155.1 1367.3 1178.1 1368.4 1169.3 1369.5 1202.0 1370.6 1169.2 1371.7 1204.0 1372.8 1165.7 1373.9 1203.7 1375.0 1167.0 1376.1 1201.8 1377.2 1170.8 1378.3 1170.6 1379.6 1223.9 1380.9 1170.2 1382.1 1194.0 1383.4 1171.9 1384.6 1170.5 1385.8 1204.1 1387.1 1168.4 1388.3 1205.7 1389.5 1169.7 1390.7 1201.2 1391.9 1159.1 1393.0 1201.8 1394.1 1157.3 1395.3 1201.3 1396.4 1157.1 1397.5 1200.4 1398.7 1161.5 1399.8 1167.6 1401.1 1206.6 1402.3 1164.0 1403.5 1205.0 1404.7 1165.0 1405.9 1202.0 1407.1 1166.6 1408.3 1160.2 1409.4 1186.2 1410.6 1159.0 1411.7 1189.2 1412.8 1157.8 1413.9 1189.2 1415.1 1160.2 1416.2 1186.1 1417.3 1167.6 1418.4 1193.5 1419.5 1166.3 1420.5 1193.8 1421.6 1164.6 1422.7 1194.1 1423.8 1168.3 1424.9 1171.2 1426.2 1203.0 1427.5 1169.7 1428.7 1207.1 1430.0 1171.2 1431.2 1180.7 1432.3 1212.6 1433.3 1177.5 1434.4 1213.0 1435.5 1176.6 1436.6 1208.4 1437.7 1180.7 1438.7 1168.0 1439.8 1196.6 1440.9 1163.5 1441.9 1199.3 1443.0 1166.4 1444.1 1196.7 1445.2 1160.3 1446.3 1195.7 1447.4 1157.6 1448.6 1197.5 1449.7 1156.5 1450.8 1194.4 1452.0 1156.4 1453.1 1193.0 1454.3 1160.4 1455.5 1202.1 1456.8 1156.6 1458.0 1204.5 1459.2 1159.0 1460.4 1199.8 1461.7 1161.0 1462.9 1162.6 1464.2 1188.3 1465.4 1159.9 1466.6 1189.3 1467.9 1163.0 1469.1 1169.9 1470.2 1203.8 1471.3 1165.8 1472.4 1209.7 1473.6 1162.1 1474.7 1206.5 1475.8 1165.0 1476.9 1206.8 1478.0 1169.6 1479.2 1161.6 1480.3 1182.9 1481.4 1160.3 1482.6 1183.6 1483.7 1158.9 1484.8 1182.3 1486.0 1161.3 1487.1 1160.8 1488.1 1189.0 1489.2 1160.0 1490.3 1189.6 1491.4 1158.9 1492.4 1186.9 1493.5 1171.8 1494.7 1191.1 1495.9 1171.3 1497.0 1189.4 1498.2 1169.8 1499.4 1191.0 1500.5 1171.1 1501.7 1188.7 1502.8 1171.6 1504.0 1171.8 1505.2 1189.9 1506.3 1170.1 1507.5 1190.6 1508.7 1169.5 1509.8 1190.5 1511.0 1169.1 1512.2 1189.3 1513.4 1174.5 1514.6 1196.1 1515.8 1174.2 1517.0 1240.2 1518.2 1173.7 1519.4 1192.8 1520.5 1177.4 1521.7 1211.4 1522.8 1173.2 1523.9 1211.3 1525.0 1172.6 1526.2 1212.2 1527.3 1172.7 1528.4 1210.8 1529.5 1177.9 1530.6 1166.0 1531.7 1204.1 1532.8 1161.9 1533.9 1206.8 1535.0 1163.1 1536.0 1207.2 1537.1 1166.8 1538.2 1156.7 1539.3 1184.7 1540.4 1154.7 1541.5 1189.4 1542.6 1155.4 1543.7 1188.3 1544.8 1155.8 1545.9 1220.6 1547.0 1165.6 1548.3 1182.2 1549.5 1165.2 1550.7 1183.4 1551.9 1163.9 1553.1 1183.1 1554.3 1166.1 1555.5 1182.4 1556.7 1161.1 1557.9 1192.1 1559.1 1156.7 1560.3 1195.7 1561.5 1158.2 1562.7 1247.0 1563.9 1159.3 1565.1 1194.8 1566.3 1161.5 1567.4 1202.8 1568.6 1158.3 1569.8 1208.1 1571.0 1157.1 1572.1 1202.8 1573.3 1157.5 1574.5 1201.1 1575.7 1176.0 1576.9 1197.4 1578.1 1172.9 1579.3 1198.6 1580.5 1174.7 1581.7 1196.8 1582.9 1167.4 1584.1 1199.8 1585.3 1162.9 1586.4 1201.3 1587.6 1163.7 1588.8 1195.5 1589.9 1162.2 1591.1 1226.3 1592.3 1161.6 1593.5 1194.6 1594.7 1160.5 1595.9 1190.5 1597.1 1162.1 1598.3 1188.9 1599.5 1162.1 1600.7 1162.6 1601.9 1234.3 1603.1 1160.1 1604.4 1198.3 1605.6 1162.7 1606.8 1198.5 1608.0 1181.3 1609.2 1198.9 1610.3 1179.9 1611.5 1199.7 1612.7 1179.8 1613.8 1198.6 1615.0 1170.4 1616.2 1237.9 1617.4 1168.5 1618.5 1202.4 1619.7 1167.3 1620.9 1200.2 1622.1 1168.0 1623.3 1202.5 1624.5 1171.0 1625.7 1168.7 1626.9 1199.3 1628.2 1165.5 1629.4 1201.6 1630.6 1169.6 1631.9 1166.7 1633.1 1200.5 1634.3 1166.2 1635.5 1198.8 1636.7 1168.3 1637.9 1179.1 1639.1 1203.0 1640.3 1176.8 1641.4 1202.1 1642.6 1176.4 1643.8 1201.4 1645.0 1179.6 1646.1 1179.0 1647.2 1232.6 1648.3 1175.1 1649.4 1214.4 1650.6 1171.7 1651.7 1215.5 1652.8 1174.5 1653.9 1215.4 1655.0 1175.5 1656.1 1167.6 1657.3 1199.5 1658.4 1163.1 1659.6 1202.3 1660.7 1165.9 1661.9 1197.5 1663.0 1173.0 1664.1 1190.5 1665.3 1171.9 1666.4 1189.6 1667.5 1171.8 1668.6 1191.4 1669.7 1172.5 1670.8 1188.7 1671.9 1173.5 1673.1 1167.3 1674.3 1242.0 1675.5 1165.1 1676.7 1197.6 1678.0 1168.7 1679.2 1177.3 1680.4 1231.3 1681.6 1174.4 1682.8 1203.9 1684.0 1174.7 1685.3 1204.2 1686.5 1174.2 1687.7 1201.3 1688.9 1170.3 1690.0 1201.0 1691.1 1166.7 1692.2 1204.0 1693.3 1165.7 1694.5 1207.0 1695.6 1168.2 1696.7 1202.6 1697.8 1168.7 1698.9 1163.3 1700.0 1208.5 1701.2 1160.8 1702.3 1211.5 1703.4 1162.3 1704.5 1208.7 1705.6 1161.2 1706.7 1207.6 1707.8 1163.5 1708.9 1172.3 1710.0 1206.1 1711.1 1170.8 1712.1 1210.1 1713.2 1169.4 1714.3 1209.0 1715.3 1172.9 1716.4 1166.2 1717.5 1212.0 1718.5 1164.0 1719.6 1212.9 1720.6 1164.3 1721.7 1205.1 1722.8 1165.0 1724.0 1195.1 1725.3 1161.0 1726.5 1197.0 1727.7 1162.0 1728.9 1194.5 1730.1 1169.8 1731.3 1205.7 1732.5 1166.6 1733.7 1220.5 1734.8 1168.1 1736.0 1206.1 1737.2 1169.1 1738.4 1200.2 1739.6 1171.6 1740.7 1198.3 1741.9 1169.7 1743.1 1198.8 1744.3 1168.7 1745.5 1198.6 1746.7 1167.1 1747.8 1196.3 1749.0 1169.2 1750.2 1169.9 1751.4 1200.5 1752.6 1167.9 1753.8 1200.7 1755.0 1168.5 1756.2 1199.2 1757.4 1168.8 1758.7 1199.3" fill="none" stroke="#ff0000" stroke-width="2.9" stroke-linejoin="round" stroke-dasharray="16 10"/>
<path d="M1144.3 1304.2V1295.2M1144.3 1086.0V1095.0M1295.1 1304.2V1295.2M1295.1 1086.0V1095.0M1445.8 1304.2V1295.2M1445.8 1086.0V1095.0M1596.6 1304.2V1295.2M1596.6 1086.0V1095.0M1031.4 1140.2H1040.4M1748.9 1140.2H1739.9M1031.4 1277.0H1040.4M1748.9 1277.0H1739.9" stroke="#000" stroke-width="1.9" fill="none"/>
<rect x="1031.4" y="1086.0" width="717.5" height="218.2" fill="none" stroke="#000" stroke-width="1.9"/>
<g font-size="37"><text x="1144.3" y="1349.4" text-anchor="middle">2</text><text x="1295.1" y="1349.4" text-anchor="middle">4</text><text x="1445.8" y="1349.4" text-anchor="middle">6</text><text x="1596.6" y="1349.4" text-anchor="middle">8</text><text x="1747.4" y="1349.4" text-anchor="middle">10</text><text x="1018.4" y="1153.0" text-anchor="end">50</text><text x="1018.4" y="1289.8" text-anchor="end">100</text></g>
<line x1="1575.0" y1="1104.3" x2="1641.8" y2="1104.3" stroke="#0000ff" stroke-width="3.2"/>
<line x1="1573.5" y1="1137.2" x2="1643.3" y2="1137.2" stroke="#dd0000" stroke-width="2.6" stroke-dasharray="16.5 10.5"/>
<g font-size="27.2"><text x="1648.0" y="1113.3">RAM</text><text x="1648.0" y="1145.9">Scooter</text></g>
<line x1="1147.4" y1="1353.9" x2="1147.4" y2="1557.5" stroke="#dcdcdc" stroke-width="1.1"/>
<line x1="1298.1" y1="1353.9" x2="1298.1" y2="1557.5" stroke="#dcdcdc" stroke-width="1.1"/>
<line x1="1448.9" y1="1353.9" x2="1448.9" y2="1557.5" stroke="#dcdcdc" stroke-width="1.1"/>
<line x1="1599.6" y1="1353.9" x2="1599.6" y2="1557.5" stroke="#dcdcdc" stroke-width="1.1"/>
<line x1="1034.5" y1="1403.3" x2="1751.9" y2="1403.3" stroke="#dcdcdc" stroke-width="1.1"/>
<line x1="1034.5" y1="1531.7" x2="1751.9" y2="1531.7" stroke="#dcdcdc" stroke-width="1.1"/>
<clipPath id="cD3"><rect x="1034.5" y="1353.9" width="717.4" height="203.6"/></clipPath>
<path clip-path="url(#cD3)" d="M1033.1 1396.8 1034.3 1461.2 1035.5 1392.8 1036.7 1452.8 1038.0 1396.6 1039.1 1398.0 1040.2 1453.4 1041.4 1393.3 1042.5 1455.7 1043.6 1395.9 1044.7 1432.4 1045.8 1406.6 1046.9 1454.2 1048.1 1401.8 1049.2 1443.2 1050.3 1405.2 1051.4 1440.3 1052.5 1399.9 1053.6 1426.0 1054.7 1399.6 1055.8 1429.6 1056.9 1398.5 1058.0 1457.1 1059.0 1398.0 1060.1 1426.1 1061.2 1398.7 1062.3 1444.3 1063.4 1395.2 1064.4 1446.0 1065.5 1396.7 1066.6 1439.6 1067.7 1400.0 1068.9 1431.1 1070.0 1397.6 1071.2 1431.2 1072.4 1400.7 1073.5 1427.1 1074.7 1402.4 1075.9 1442.0 1077.1 1398.3 1078.2 1461.7 1079.4 1398.7 1080.6 1437.2 1081.8 1414.9 1083.0 1450.5 1084.2 1412.8 1085.4 1449.3 1086.6 1411.3 1087.8 1450.0 1089.0 1410.8 1090.2 1449.7 1091.4 1416.7 1092.5 1421.0 1093.6 1441.2 1094.8 1418.0 1095.9 1466.4 1097.0 1417.6 1098.2 1441.1 1099.3 1417.6 1100.4 1440.0 1101.6 1419.5 1102.7 1410.2 1103.9 1437.0 1105.0 1409.7 1106.2 1442.2 1107.3 1408.2 1108.5 1440.6 1109.6 1409.2 1110.7 1437.0 1111.9 1412.0 1113.1 1407.8 1114.3 1467.4 1115.5 1405.0 1116.7 1451.8 1117.9 1403.9 1119.1 1454.2 1120.3 1402.6 1121.5 1446.9 1122.7 1407.6 1124.0 1450.2 1125.2 1405.8 1126.5 1448.2 1127.7 1409.9 1128.9 1414.8 1130.1 1466.8 1131.2 1414.2 1132.4 1467.1 1133.5 1413.4 1134.7 1437.1 1135.8 1414.0 1137.0 1435.5 1138.1 1421.5 1139.2 1474.0 1140.3 1419.0 1141.4 1455.7 1142.5 1414.9 1143.6 1456.5 1144.7 1415.4 1145.8 1455.0 1146.9 1419.5 1148.0 1451.6 1149.1 1416.5 1150.2 1475.0 1151.4 1409.9 1152.5 1460.3 1153.7 1410.5 1154.8 1456.0 1155.9 1413.3 1157.1 1454.0 1158.2 1421.5 1159.4 1448.4 1160.6 1421.1 1161.7 1447.7 1162.9 1420.9 1164.0 1446.6 1165.2 1409.9 1166.2 1448.5 1167.3 1409.5 1168.4 1450.3 1169.5 1410.4 1170.6 1447.3 1171.6 1412.1 1172.7 1445.3 1173.8 1407.8 1174.9 1443.7 1176.0 1407.9 1177.1 1447.1 1178.2 1409.4 1179.3 1446.3 1180.4 1409.2 1181.5 1441.8 1182.6 1422.1 1183.8 1456.6 1185.0 1418.4 1186.2 1457.8 1187.3 1420.8 1188.5 1457.4 1189.7 1424.0 1190.8 1428.2 1191.9 1459.2 1193.0 1427.7 1194.1 1460.0 1195.1 1427.3 1196.2 1454.8 1197.3 1421.2 1198.4 1452.7 1199.5 1418.3 1200.6 1456.3 1201.7 1418.3 1202.8 1455.4 1203.9 1420.3 1205.0 1426.4 1206.3 1456.4 1207.5 1423.1 1208.7 1457.8 1209.9 1420.9 1211.1 1475.0 1212.3 1424.5 1213.5 1423.4 1214.6 1457.8 1215.8 1421.2 1216.9 1459.5 1218.0 1418.7 1219.2 1458.3 1220.3 1421.1 1221.4 1459.5 1222.6 1421.2 1223.7 1444.3 1224.8 1420.1 1225.9 1489.5 1227.0 1421.0 1228.1 1444.2 1229.2 1415.7 1230.3 1441.2 1231.4 1413.2 1232.5 1486.5 1233.6 1412.5 1234.7 1482.4 1235.8 1413.6 1236.9 1443.2 1238.0 1416.4 1239.1 1417.8 1240.2 1459.7 1241.3 1413.0 1242.4 1458.9 1243.5 1416.0 1244.6 1458.2 1245.7 1418.6 1246.8 1419.1 1248.0 1447.7 1249.1 1415.7 1250.3 1486.7 1251.4 1417.0 1252.6 1446.2 1253.8 1424.0 1255.0 1459.9 1256.3 1420.6 1257.5 1479.0 1258.8 1426.1 1260.0 1421.6 1261.1 1458.6 1262.2 1420.8 1263.3 1456.6 1264.5 1418.0 1265.6 1458.8 1266.7 1419.6 1267.8 1458.7 1268.9 1423.3 1270.1 1424.2 1271.3 1457.0 1272.5 1422.1 1273.6 1461.0 1274.8 1421.2 1276.0 1482.0 1277.2 1421.7 1278.4 1453.6 1279.6 1427.9 1280.8 1452.3 1282.1 1424.6 1283.3 1452.9 1284.5 1426.1 1285.7 1451.8 1287.0 1426.2 1288.2 1420.7 1289.4 1453.6 1290.6 1418.3 1291.8 1452.7 1293.0 1417.4 1294.1 1486.4 1295.3 1419.9 1296.5 1433.0 1297.8 1455.3 1299.0 1430.3 1300.2 1458.6 1301.4 1430.1 1302.6 1457.9 1303.8 1431.7 1305.0 1482.4 1306.2 1434.3 1307.4 1459.2 1308.5 1429.6 1309.6 1462.6 1310.8 1431.8 1311.9 1460.7 1313.0 1424.1 1314.2 1460.8 1315.3 1422.9 1316.4 1461.5 1317.5 1420.9 1318.6 1457.8 1319.8 1427.8 1321.0 1453.6 1322.2 1425.7 1323.4 1455.3 1324.6 1423.3 1325.8 1452.0 1327.0 1426.6 1328.1 1452.2 1329.4 1434.0 1330.6 1488.4 1331.8 1432.3 1333.0 1458.1 1334.2 1432.2 1335.4 1484.5 1336.6 1432.4 1337.8 1457.4 1339.0 1425.7 1340.2 1452.7 1341.3 1423.3 1342.5 1483.7 1343.7 1421.4 1344.8 1455.2 1346.0 1422.5 1347.2 1479.4 1348.3 1423.7 1349.5 1425.3 1350.6 1462.4 1351.7 1421.5 1352.8 1465.2 1353.9 1422.3 1355.0 1458.9 1356.2 1426.5 1357.3 1424.6 1358.5 1456.2 1359.6 1421.0 1360.8 1454.9 1362.0 1423.9 1363.1 1456.4 1364.3 1433.6 1365.4 1462.9 1366.5 1432.6 1367.6 1492.7 1368.8 1430.6 1369.9 1462.8 1371.0 1434.8 1372.1 1427.2 1373.3 1452.4 1374.4 1424.3 1375.5 1452.0 1376.7 1425.4 1377.8 1452.2 1379.0 1424.5 1380.1 1450.5 1381.3 1427.0 1382.5 1463.6 1383.8 1423.7 1385.0 1460.8 1386.2 1423.1 1387.4 1458.0 1388.6 1430.3 1389.7 1465.4 1390.7 1427.2 1391.8 1488.5 1392.9 1428.7 1393.9 1464.4 1395.0 1431.0 1396.1 1433.1 1397.2 1453.4 1398.4 1430.0 1399.5 1452.5 1400.6 1430.9 1401.8 1451.5 1402.9 1433.0 1404.0 1426.5 1405.1 1461.5 1406.2 1423.4 1407.3 1466.8 1408.5 1422.3 1409.6 1464.9 1410.7 1426.8 1411.8 1465.1 1412.9 1434.8 1414.0 1461.7 1415.2 1433.2 1416.3 1464.5 1417.4 1432.6 1418.5 1466.1 1419.7 1433.8 1420.8 1463.8 1421.9 1429.6 1423.0 1464.0 1424.1 1426.8 1425.1 1466.6 1426.2 1427.9 1427.3 1520.6 1428.4 1436.7 1429.5 1488.2 1430.6 1433.5 1431.7 1463.3 1432.7 1434.0 1433.8 1460.4 1434.9 1434.8 1436.0 1460.0 1437.1 1425.5 1438.3 1454.3 1439.4 1423.2 1440.6 1457.8 1441.7 1423.2 1442.9 1460.2 1444.0 1421.8 1445.1 1455.3 1446.3 1425.4 1447.4 1422.9 1448.5 1452.4 1449.6 1420.4 1450.7 1453.2 1451.8 1420.2 1452.9 1457.0 1454.0 1423.8 1455.1 1452.8 1456.2 1430.4 1457.4 1489.1 1458.6 1429.3 1459.8 1453.5 1461.0 1430.3 1462.2 1451.4 1463.4 1424.2 1464.6 1455.6 1465.8 1422.2 1467.0 1454.4 1468.1 1419.8 1469.3 1456.4 1470.5 1423.0 1471.7 1452.2 1472.9 1423.2 1474.1 1450.5 1475.4 1422.6 1476.7 1508.6 1477.9 1424.9 1479.1 1427.1 1480.2 1467.3 1481.4 1421.2 1482.5 1498.0 1483.6 1425.3 1484.7 1495.7 1485.8 1429.2 1487.0 1465.7 1488.1 1428.6 1489.3 1469.8 1490.4 1427.2 1491.6 1467.8 1492.7 1429.5 1493.9 1434.5 1495.1 1497.0 1496.4 1433.1 1497.6 1461.7 1498.8 1434.2 1500.0 1431.1 1501.2 1457.2 1502.4 1427.7 1503.6 1457.9 1504.8 1429.2 1506.0 1485.2 1507.2 1432.0 1508.4 1428.5 1509.6 1499.2 1510.8 1425.6 1512.0 1470.8 1513.2 1428.1 1514.4 1470.7 1515.6 1429.9 1516.9 1496.8 1518.0 1425.6 1519.2 1483.7 1520.3 1424.2 1521.5 1454.1 1522.6 1423.6 1523.7 1455.4 1524.9 1423.1 1526.0 1451.8 1527.2 1426.3 1528.3 1429.2 1529.4 1453.4 1530.5 1426.9 1531.6 1454.3 1532.6 1426.4 1533.7 1455.0 1534.8 1428.2 1535.9 1438.6 1537.1 1460.6 1538.3 1436.4 1539.5 1459.2 1540.7 1436.6 1541.8 1503.6 1543.0 1437.9 1544.2 1459.3 1545.4 1429.6 1546.6 1460.6 1547.7 1426.8 1548.9 1458.1 1550.1 1427.1 1551.3 1460.5 1552.4 1427.8 1553.6 1434.4 1554.8 1463.1 1556.0 1432.6 1557.1 1464.4 1558.3 1431.3 1559.5 1464.7 1560.7 1433.4 1561.8 1465.8 1563.0 1435.3 1564.1 1437.3 1565.2 1487.4 1566.3 1436.9 1567.4 1503.8 1568.5 1435.8 1569.6 1470.2 1570.7 1435.0 1571.8 1469.7 1572.9 1440.4 1574.0 1468.2 1575.2 1436.2 1576.3 1471.8 1577.4 1436.8 1578.5 1485.0 1579.6 1438.2 1580.7 1496.7 1581.9 1429.9 1583.0 1453.7 1584.1 1426.8 1585.2 1457.2 1586.4 1426.3 1587.5 1483.9 1588.6 1427.5 1589.8 1429.4 1590.9 1466.0 1592.1 1428.8 1593.3 1494.8 1594.4 1428.2 1595.6 1465.9 1596.7 1429.7 1597.9 1431.3 1599.1 1470.0 1600.2 1429.8 1601.4 1486.7 1602.6 1428.8 1603.7 1466.4 1604.9 1429.5 1606.1 1489.1 1607.3 1439.7 1608.5 1462.0 1609.7 1439.0 1610.9 1460.6 1612.1 1439.4 1613.3 1460.2 1614.5 1438.0 1615.6 1491.2 1616.7 1435.6 1617.8 1460.9 1618.9 1435.0 1620.0 1459.6 1621.1 1430.4 1622.2 1495.9 1623.4 1425.8 1624.6 1460.5 1625.7 1427.4 1626.9 1458.3 1628.1 1429.5 1629.2 1431.3 1630.3 1462.4 1631.4 1428.6 1632.5 1498.0 1633.6 1430.4 1634.6 1459.9 1635.7 1429.8 1636.8 1459.4 1638.0 1428.2 1639.2 1465.5 1640.4 1426.6 1641.6 1466.7 1642.8 1427.0 1644.0 1468.6 1645.2 1430.9 1646.3 1434.0 1647.5 1471.4 1648.6 1429.6 1649.8 1469.2 1650.9 1430.1 1652.0 1474.2 1653.2 1430.0 1654.3 1471.4 1655.4 1433.9 1656.6 1433.6 1657.8 1506.0 1659.0 1431.2 1660.2 1458.0 1661.4 1430.9 1662.6 1458.8 1663.8 1433.0 1665.0 1456.0 1666.1 1434.9 1667.2 1470.4 1668.3 1433.6 1669.4 1504.0 1670.5 1431.3 1671.6 1469.3 1672.7 1435.1 1673.8 1508.4 1674.9 1438.0 1675.9 1486.7 1677.0 1438.1 1678.1 1466.7 1679.2 1435.7 1680.3 1468.0 1681.4 1438.9 1682.5 1465.8 1683.6 1447.0 1684.7 1474.3 1685.9 1443.3 1687.0 1473.8 1688.2 1444.5 1689.3 1474.8 1690.5 1443.7 1691.6 1472.6 1692.7 1446.7 1693.9 1431.5 1695.0 1468.0 1696.1 1426.4 1697.3 1470.0 1698.4 1428.7 1699.5 1465.8 1700.7 1430.1 1701.8 1462.2 1702.9 1441.6 1704.0 1471.9 1705.1 1438.2 1706.2 1473.2 1707.3 1437.5 1708.3 1472.7 1709.4 1437.4 1710.5 1469.2 1711.6 1430.7 1712.8 1468.6 1714.0 1430.1 1715.2 1492.5 1716.4 1427.4 1717.5 1471.3 1718.7 1432.0 1719.9 1433.0 1721.0 1496.2 1722.2 1430.9 1723.4 1457.5 1724.5 1429.8 1725.7 1461.1 1726.8 1430.6 1728.0 1501.7 1729.1 1432.9 1730.3 1430.5 1731.4 1461.9 1732.5 1430.4 1733.6 1503.0 1734.8 1429.1 1735.9 1465.4 1737.0 1429.6 1738.1 1462.9 1739.3 1430.6 1740.4 1431.4 1741.5 1467.8 1742.7 1426.9 1743.9 1470.9 1745.0 1426.2 1746.2 1466.0 1747.4 1438.5 1748.5 1468.4 1749.7 1433.7 1750.9 1471.8 1752.1 1435.9 1753.3 1487.7 1754.5 1436.5 1755.7 1467.0" fill="none" stroke="#0000ff" stroke-width="3.6" stroke-linejoin="round"/>
<path clip-path="url(#cD3)" d="M1033.1 1391.4 1034.3 1423.8 1035.5 1389.9 1036.7 1425.9 1038.0 1393.3 1039.1 1395.4 1040.2 1430.8 1041.4 1391.9 1042.5 1428.1 1043.6 1392.0 1044.7 1427.9 1045.8 1406.9 1046.9 1440.6 1048.1 1404.4 1049.2 1439.8 1050.3 1404.2 1051.4 1440.5 1052.5 1397.8 1053.6 1422.7 1054.7 1396.2 1055.8 1425.9 1056.9 1395.8 1058.0 1424.0 1059.0 1398.0 1060.1 1420.8 1061.2 1398.5 1062.3 1437.0 1063.4 1396.2 1064.4 1434.5 1065.5 1397.5 1066.6 1432.3 1067.7 1403.0 1068.9 1431.4 1070.0 1399.8 1071.2 1432.0 1072.4 1402.2 1073.5 1428.8 1074.7 1400.0 1075.9 1429.0 1077.1 1397.5 1078.2 1432.8 1079.4 1397.4 1080.6 1428.5 1081.8 1414.1 1083.0 1438.9 1084.2 1411.9 1085.4 1439.4 1086.6 1412.0 1087.8 1453.8 1089.0 1414.3 1090.2 1438.9 1091.4 1413.9 1092.5 1417.5 1093.6 1438.6 1094.8 1415.4 1095.9 1439.5 1097.0 1415.5 1098.2 1438.5 1099.3 1416.8 1100.4 1438.0 1101.6 1416.8 1102.7 1413.4 1103.9 1436.0 1105.0 1409.9 1106.2 1438.5 1107.3 1409.7 1108.5 1439.1 1109.6 1409.9 1110.7 1438.4 1111.9 1411.8 1113.1 1406.2 1114.3 1440.3 1115.5 1403.6 1116.7 1440.7 1117.9 1404.1 1119.1 1491.6 1120.3 1406.3 1121.5 1438.9 1122.7 1403.8 1124.0 1440.2 1125.2 1401.1 1126.5 1439.5 1127.7 1403.9 1128.9 1417.2 1130.1 1429.5 1131.2 1415.8 1132.4 1430.5 1133.5 1416.2 1134.7 1430.0 1135.8 1416.9 1137.0 1429.3 1138.1 1415.7 1139.2 1443.6 1140.3 1414.2 1141.4 1445.7 1142.5 1412.5 1143.6 1446.4 1144.7 1412.9 1145.8 1445.9 1146.9 1417.0 1148.0 1461.3 1149.1 1410.4 1150.2 1446.3 1151.4 1406.7 1152.5 1466.2 1153.7 1406.2 1154.8 1446.6 1155.9 1408.5 1157.1 1441.6 1158.2 1420.4 1159.4 1441.5 1160.6 1420.0 1161.7 1439.4 1162.9 1419.8 1164.0 1439.5 1165.2 1410.2 1166.2 1445.8 1167.3 1406.3 1168.4 1445.4 1169.5 1409.0 1170.6 1464.9 1171.6 1410.0 1172.7 1440.3 1173.8 1408.6 1174.9 1443.9 1176.0 1407.4 1177.1 1445.3 1178.2 1405.6 1179.3 1441.3 1180.4 1407.4 1181.5 1441.5 1182.6 1423.7 1183.8 1454.6 1185.0 1421.4 1186.2 1452.6 1187.3 1419.0 1188.5 1451.9 1189.7 1422.8 1190.8 1429.9 1191.9 1455.6 1193.0 1427.4 1194.1 1456.5 1195.1 1428.9 1196.2 1456.3 1197.3 1419.6 1198.4 1445.6 1199.5 1417.6 1200.6 1446.9 1201.7 1417.1 1202.8 1446.1 1203.9 1419.9 1205.0 1423.4 1206.3 1449.8 1207.5 1422.2 1208.7 1448.4 1209.9 1422.0 1211.1 1448.6 1212.3 1423.6 1213.5 1422.1 1214.6 1458.3 1215.8 1420.3 1216.9 1460.7 1218.0 1420.4 1219.2 1457.5 1220.3 1422.3 1221.4 1456.6 1222.6 1421.4 1223.7 1435.8 1224.8 1418.9 1225.9 1437.9 1227.0 1420.4 1228.1 1435.4 1229.2 1414.8 1230.3 1441.7 1231.4 1412.4 1232.5 1441.2 1233.6 1413.9 1234.7 1441.0 1235.8 1413.1 1236.9 1441.8 1238.0 1415.9 1239.1 1416.6 1240.2 1454.0 1241.3 1415.3 1242.4 1457.2 1243.5 1414.9 1244.6 1452.8 1245.7 1418.6 1246.8 1414.9 1248.0 1439.3 1249.1 1412.6 1250.3 1441.0 1251.4 1414.1 1252.6 1437.8 1253.8 1424.5 1255.0 1449.6 1256.3 1423.6 1257.5 1449.5 1258.8 1425.4 1260.0 1419.9 1261.1 1450.6 1262.2 1419.0 1263.3 1450.9 1264.5 1417.1 1265.6 1449.5 1266.7 1418.1 1267.8 1450.6 1268.9 1420.0 1270.1 1419.9 1271.3 1446.7 1272.5 1417.3 1273.6 1449.6 1274.8 1418.3 1276.0 1449.2 1277.2 1419.9 1278.4 1444.8 1279.6 1424.3 1280.8 1453.0 1282.1 1421.9 1283.3 1454.8 1284.5 1421.5 1285.7 1453.0 1287.0 1425.5 1288.2 1423.3 1289.4 1448.6 1290.6 1418.9 1291.8 1451.4 1293.0 1419.8 1294.1 1448.6 1295.3 1423.5 1296.5 1434.0 1297.8 1455.9 1299.0 1431.9 1300.2 1457.3 1301.4 1432.0 1302.6 1457.6 1303.8 1432.5 1305.0 1456.9 1306.2 1434.2 1307.4 1457.3 1308.5 1432.7 1309.6 1457.2 1310.8 1433.0 1311.9 1457.2 1313.0 1422.5 1314.2 1473.0 1315.3 1422.1 1316.4 1453.7 1317.5 1420.8 1318.6 1449.9 1319.8 1423.6 1321.0 1447.1 1322.2 1423.0 1323.4 1449.1 1324.6 1422.0 1325.8 1446.4 1327.0 1422.9 1328.1 1445.7 1329.4 1433.0 1330.6 1451.5 1331.8 1432.4 1333.0 1451.7 1334.2 1432.0 1335.4 1450.7 1336.6 1432.5 1337.8 1450.7 1339.0 1426.2 1340.2 1447.4 1341.3 1423.2 1342.5 1450.1 1343.7 1423.4 1344.8 1447.9 1346.0 1422.8 1347.2 1446.9 1348.3 1424.7 1349.5 1425.2 1350.6 1455.4 1351.7 1422.9 1352.8 1458.0 1353.9 1423.8 1355.0 1457.8 1356.2 1424.8 1357.3 1423.4 1358.5 1447.5 1359.6 1422.5 1360.8 1447.8 1362.0 1422.7 1363.1 1447.7 1364.3 1430.9 1365.4 1453.8 1366.5 1430.5 1367.6 1454.2 1368.8 1430.2 1369.9 1455.4 1371.0 1431.7 1372.1 1425.3 1373.3 1471.7 1374.4 1422.1 1375.5 1452.0 1376.7 1422.4 1377.8 1450.8 1379.0 1424.5 1380.1 1451.0 1381.3 1425.1 1382.5 1459.0 1383.8 1422.4 1385.0 1461.7 1386.2 1424.5 1387.4 1481.9 1388.6 1429.1 1389.7 1460.2 1390.7 1427.8 1391.8 1461.8 1392.9 1427.1 1393.9 1459.7 1395.0 1430.1 1396.1 1434.9 1397.2 1452.3 1398.4 1432.1 1399.5 1453.9 1400.6 1431.8 1401.8 1453.1 1402.9 1433.7 1404.0 1424.6 1405.1 1452.8 1406.2 1421.7 1407.3 1483.2 1408.5 1422.6 1409.6 1456.0 1410.7 1423.9 1411.8 1450.6 1412.9 1432.2 1414.0 1456.5 1415.2 1430.1 1416.3 1456.7 1417.4 1431.8 1418.5 1457.9 1419.7 1431.9 1420.8 1453.4 1421.9 1428.4 1423.0 1453.2 1424.1 1425.4 1425.1 1452.9 1426.2 1426.1 1427.3 1453.4 1428.4 1438.1 1429.5 1460.7 1430.6 1434.7 1431.7 1462.5 1432.7 1435.5 1433.8 1462.4 1434.9 1437.2 1436.0 1459.4 1437.1 1423.3 1438.3 1454.7 1439.4 1421.4 1440.6 1502.2 1441.7 1420.4 1442.9 1457.5 1444.0 1421.9 1445.1 1454.3 1446.3 1424.9 1447.4 1424.7 1448.5 1448.5 1449.6 1422.4 1450.7 1449.6 1451.8 1421.2 1452.9 1450.4 1454.0 1421.8 1455.1 1446.3 1456.2 1431.9 1457.4 1448.5 1458.6 1431.5 1459.8 1490.5 1461.0 1431.9 1462.2 1446.7 1463.4 1425.1 1464.6 1444.4 1465.8 1423.8 1467.0 1447.5 1468.1 1421.8 1469.3 1444.9 1470.5 1422.9 1471.7 1443.7 1472.9 1426.2 1474.1 1444.6 1475.4 1424.3 1476.7 1443.7 1477.9 1425.8 1479.1 1422.8 1480.2 1464.0 1481.4 1420.5 1482.5 1464.9 1483.6 1421.0 1484.7 1459.2 1485.8 1430.9 1487.0 1462.1 1488.1 1427.9 1489.3 1489.8 1490.4 1427.5 1491.6 1462.3 1492.7 1429.7 1493.9 1435.2 1495.1 1500.0 1496.4 1433.0 1497.6 1458.0 1498.8 1436.5 1500.0 1429.4 1501.2 1448.3 1502.4 1427.4 1503.6 1452.1 1504.8 1427.7 1506.0 1449.9 1507.2 1428.4 1508.4 1431.7 1509.6 1464.0 1510.8 1429.1 1512.0 1468.1 1513.2 1429.0 1514.4 1466.7 1515.6 1430.1 1516.9 1465.5 1518.0 1424.3 1519.2 1448.7 1520.3 1422.9 1521.5 1449.8 1522.6 1422.4 1523.7 1450.5 1524.9 1421.1 1526.0 1446.4 1527.2 1425.0 1528.3 1427.0 1529.4 1451.8 1530.5 1425.5 1531.6 1452.8 1532.6 1427.3 1533.7 1452.4 1534.8 1428.6 1535.9 1437.0 1537.1 1457.9 1538.3 1433.6 1539.5 1459.5 1540.7 1434.8 1541.8 1457.7 1543.0 1435.5 1544.2 1456.1 1545.4 1428.5 1546.6 1455.4 1547.7 1424.7 1548.9 1493.3 1550.1 1425.5 1551.3 1452.1 1552.4 1428.2 1553.6 1431.7 1554.8 1456.4 1556.0 1429.2 1557.1 1458.4 1558.3 1430.0 1559.5 1455.4 1560.7 1430.7 1561.8 1456.6 1563.0 1432.8 1564.1 1438.7 1565.2 1503.0 1566.3 1436.6 1567.4 1464.0 1568.5 1437.4 1569.6 1464.2 1570.7 1437.6 1571.8 1463.4 1572.9 1440.4 1574.0 1467.3 1575.2 1437.6 1576.3 1467.7 1577.4 1436.7 1578.5 1466.7 1579.6 1440.3 1580.7 1467.0 1581.9 1428.1 1583.0 1447.2 1584.1 1426.6 1585.2 1447.8 1586.4 1427.8 1587.5 1446.2 1588.6 1428.3 1589.8 1429.6 1590.9 1461.2 1592.1 1427.0 1593.3 1465.6 1594.4 1427.9 1595.6 1465.1 1596.7 1431.1 1597.9 1431.8 1599.1 1455.8 1600.2 1428.6 1601.4 1460.7 1602.6 1428.8 1603.7 1458.9 1604.9 1428.5 1606.1 1486.3 1607.3 1439.2 1608.5 1462.6 1609.7 1437.7 1610.9 1463.4 1612.1 1437.6 1613.3 1462.1 1614.5 1438.9 1615.6 1484.3 1616.7 1436.7 1617.8 1455.3 1618.9 1438.3 1620.0 1497.7 1621.1 1428.6 1622.2 1455.1 1623.4 1425.9 1624.6 1458.4 1625.7 1426.5 1626.9 1454.5 1628.1 1429.2 1629.2 1430.7 1630.3 1454.2 1631.4 1429.8 1632.5 1455.3 1633.6 1429.2 1634.6 1494.0 1635.7 1429.8 1636.8 1452.6 1638.0 1431.8 1639.2 1462.9 1640.4 1427.1 1641.6 1461.5 1642.8 1428.2 1644.0 1462.8 1645.2 1430.5 1646.3 1432.7 1647.5 1457.1 1648.6 1430.1 1649.8 1459.0 1650.9 1430.1 1652.0 1460.0 1653.2 1429.2 1654.3 1459.0 1655.4 1432.2 1656.6 1433.2 1657.8 1454.7 1659.0 1431.2 1660.2 1457.8 1661.4 1430.7 1662.6 1456.6 1663.8 1433.0 1665.0 1454.6 1666.1 1431.2 1667.2 1459.9 1668.3 1431.2 1669.4 1459.0 1670.5 1429.7 1671.6 1461.7 1672.7 1431.0 1673.8 1460.1 1674.9 1439.3 1675.9 1500.0 1677.0 1436.9 1678.1 1466.4 1679.2 1437.4 1680.3 1467.8 1681.4 1437.9 1682.5 1462.2 1683.6 1443.8 1684.7 1468.4 1685.9 1442.6 1687.0 1468.2 1688.2 1442.0 1689.3 1469.8 1690.5 1443.0 1691.6 1468.3 1692.7 1445.1 1693.9 1432.1 1695.0 1459.5 1696.1 1429.0 1697.3 1461.8 1698.4 1426.2 1699.5 1462.0 1700.7 1428.4 1701.8 1460.8 1702.9 1437.8 1704.0 1462.6 1705.1 1435.5 1706.2 1465.0 1707.3 1434.5 1708.3 1464.5 1709.4 1435.5 1710.5 1461.1 1711.6 1428.9 1712.8 1462.5 1714.0 1428.3 1715.2 1484.0 1716.4 1425.5 1717.5 1461.3 1718.7 1428.8 1719.9 1430.0 1721.0 1453.8 1722.2 1426.8 1723.4 1451.9 1724.5 1427.7 1725.7 1454.3 1726.8 1428.1 1728.0 1450.8 1729.1 1428.4 1730.3 1431.7 1731.4 1461.8 1732.5 1427.6 1733.6 1461.1 1734.8 1425.8 1735.9 1462.7 1737.0 1426.9 1738.1 1460.7 1739.3 1431.7 1740.4 1429.1 1741.5 1470.1 1742.7 1427.1 1743.9 1471.3 1745.0 1426.9 1746.2 1464.4 1747.4 1437.7 1748.5 1460.4 1749.7 1435.8 1750.9 1463.6 1752.1 1435.9 1753.3 1460.3 1754.5 1435.9 1755.7 1459.5" fill="none" stroke="#ff0000" stroke-width="2.9" stroke-linejoin="round" stroke-dasharray="16 10"/>
<path d="M1147.4 1557.5V1548.5M1147.4 1353.9V1362.9M1298.1 1557.5V1548.5M1298.1 1353.9V1362.9M1448.9 1557.5V1548.5M1448.9 1353.9V1362.9M1599.6 1557.5V1548.5M1599.6 1353.9V1362.9M1034.5 1403.3H1043.5M1751.9 1403.3H1742.9M1034.5 1531.7H1043.5M1751.9 1531.7H1742.9" stroke="#000" stroke-width="1.9" fill="none"/>
<rect x="1034.5" y="1353.9" width="717.4" height="203.6" fill="none" stroke="#000" stroke-width="1.9"/>
<g font-size="37"><text x="1147.4" y="1602.7" text-anchor="middle">2</text><text x="1298.1" y="1602.7" text-anchor="middle">4</text><text x="1448.9" y="1602.7" text-anchor="middle">6</text><text x="1599.6" y="1602.7" text-anchor="middle">8</text><text x="1750.3" y="1602.7" text-anchor="middle">10</text><text x="1021.5" y="1416.1" text-anchor="end">50</text><text x="1021.5" y="1544.5" text-anchor="end">100</text></g>
<line x1="1573.5" y1="1372.9" x2="1640.2" y2="1372.9" stroke="#0000ff" stroke-width="3.2"/>
<line x1="1572.0" y1="1405.7" x2="1641.7" y2="1405.7" stroke="#dd0000" stroke-width="2.6" stroke-dasharray="16.5 10.5"/>
<g font-size="27.2"><text x="1646.9" y="1381.6">Kraken</text><text x="1646.9" y="1414.4">Scooter</text></g>
<text x="66.5" y="28.8" font-size="39" font-weight="bold">(A)</text>
<text x="975.7" y="26.5" font-size="39" font-weight="bold">(B)</text>
<text x="40.9" y="819.3" font-size="39" font-weight="bold">(C)</text>
<text x="969.0" y="792.4" font-size="39" font-weight="bold">(D)</text>
<text transform="translate(31.1 384.6) rotate(-90)" text-anchor="middle" font-size="40" font-weight="bold" textLength="407" lengthAdjust="spacingAndGlyphs">Transmission Loss (dB)</text>
<text transform="translate(954.0 376.9) rotate(-90)" text-anchor="middle" font-size="40" font-weight="bold" textLength="402" lengthAdjust="spacingAndGlyphs">Transmission Loss (dB)</text>
<text transform="translate(27.0 1196.1) rotate(-90)" text-anchor="middle" font-size="40" font-weight="bold" textLength="400" lengthAdjust="spacingAndGlyphs">Transmission Loss (dB)</text>
<text transform="translate(949.0 1194.7) rotate(-90)" text-anchor="middle" font-size="40" font-weight="bold" textLength="399" lengthAdjust="spacingAndGlyphs">Transmission Loss (dB)</text>
<text x="471.35" y="803.0" text-anchor="middle" font-size="38.5" font-weight="bold" textLength="237.2" lengthAdjust="spacingAndGlyphs">Distance (km)</text>
<text x="1393.5" y="802.3" text-anchor="middle" font-size="38.5" font-weight="bold" textLength="237.2" lengthAdjust="spacingAndGlyphs">Distance (km)</text>
<text x="464.55" y="1641.6" text-anchor="middle" font-size="38.5" font-weight="bold" textLength="237.2" lengthAdjust="spacingAndGlyphs">Distance (km)</text>
<text x="1392.2" y="1650.1" text-anchor="middle" font-size="38.5" font-weight="bold" textLength="237.2" lengthAdjust="spacingAndGlyphs">Distance (km)</text>
</svg></body></html>
